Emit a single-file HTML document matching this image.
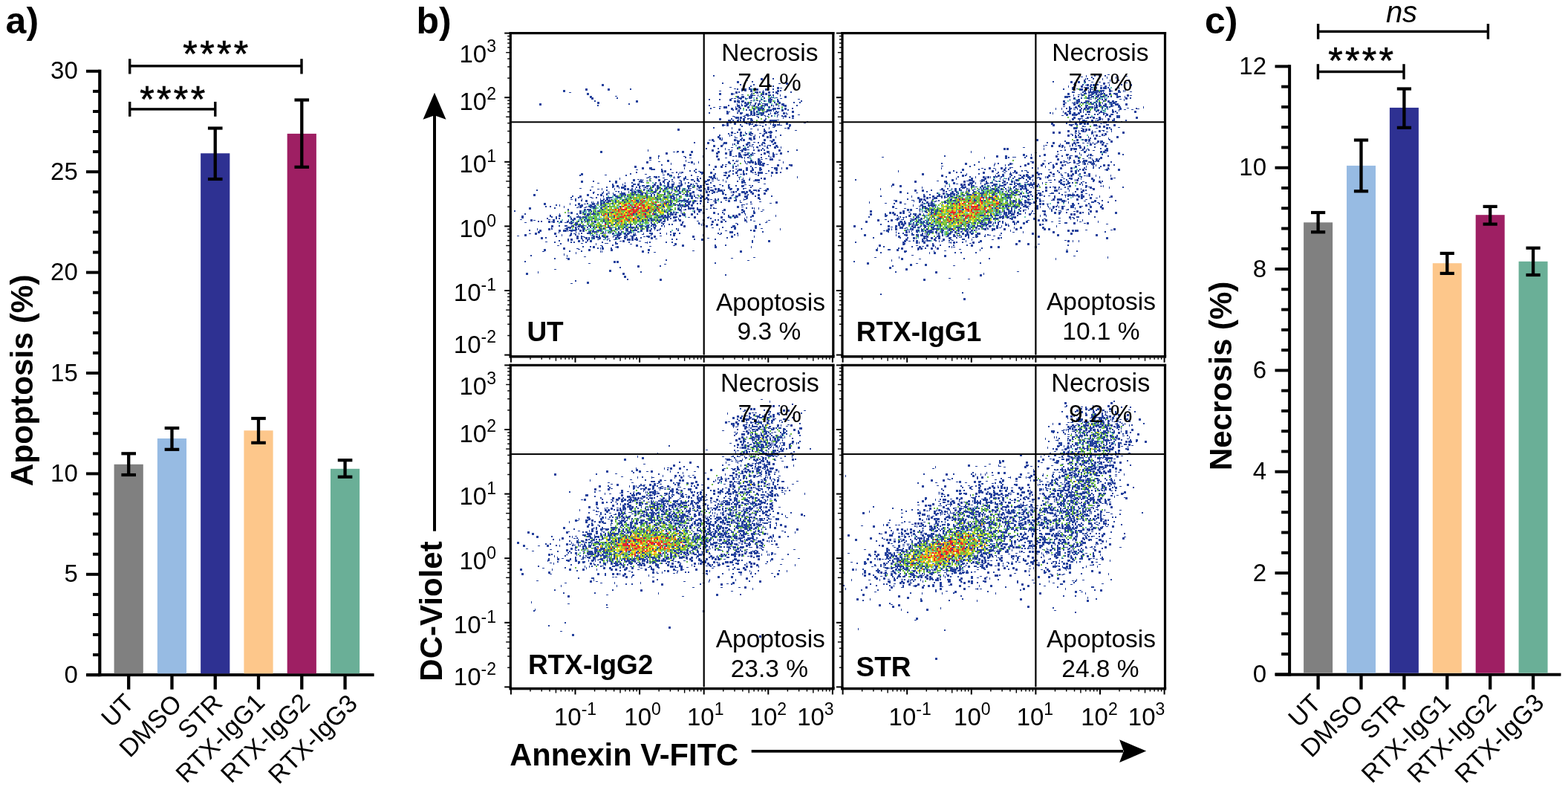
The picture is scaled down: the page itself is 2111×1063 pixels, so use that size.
<!DOCTYPE html>
<html><head><meta charset="utf-8"><title>Figure</title>
<style>html,body{margin:0;padding:0;background:#fff;overflow:hidden}svg{display:block}</style>
</head><body>
<svg width="2111" height="1063" viewBox="0 0 2111 1063">
<rect width="2111" height="1063" fill="#fff"/>
<rect x="132.20" y="93.70" width="4.20" height="816.50" fill="#000"/>
<rect x="116.00" y="906.20" width="18.30" height="4.00" fill="#000"/>
<rect x="125.00" y="879.12" width="9.30" height="4.00" fill="#000"/>
<rect x="125.00" y="852.04" width="9.30" height="4.00" fill="#000"/>
<rect x="125.00" y="824.96" width="9.30" height="4.00" fill="#000"/>
<rect x="125.00" y="797.88" width="9.30" height="4.00" fill="#000"/>
<rect x="116.00" y="770.80" width="18.30" height="4.00" fill="#000"/>
<rect x="125.00" y="743.72" width="9.30" height="4.00" fill="#000"/>
<rect x="125.00" y="716.64" width="9.30" height="4.00" fill="#000"/>
<rect x="125.00" y="689.56" width="9.30" height="4.00" fill="#000"/>
<rect x="125.00" y="662.48" width="9.30" height="4.00" fill="#000"/>
<rect x="116.00" y="635.40" width="18.30" height="4.00" fill="#000"/>
<rect x="125.00" y="608.32" width="9.30" height="4.00" fill="#000"/>
<rect x="125.00" y="581.24" width="9.30" height="4.00" fill="#000"/>
<rect x="125.00" y="554.16" width="9.30" height="4.00" fill="#000"/>
<rect x="125.00" y="527.08" width="9.30" height="4.00" fill="#000"/>
<rect x="116.00" y="500.00" width="18.30" height="4.00" fill="#000"/>
<rect x="125.00" y="472.92" width="9.30" height="4.00" fill="#000"/>
<rect x="125.00" y="445.84" width="9.30" height="4.00" fill="#000"/>
<rect x="125.00" y="418.76" width="9.30" height="4.00" fill="#000"/>
<rect x="125.00" y="391.68" width="9.30" height="4.00" fill="#000"/>
<rect x="116.00" y="364.60" width="18.30" height="4.00" fill="#000"/>
<rect x="125.00" y="337.52" width="9.30" height="4.00" fill="#000"/>
<rect x="125.00" y="310.44" width="9.30" height="4.00" fill="#000"/>
<rect x="125.00" y="283.36" width="9.30" height="4.00" fill="#000"/>
<rect x="125.00" y="256.28" width="9.30" height="4.00" fill="#000"/>
<rect x="116.00" y="229.20" width="18.30" height="4.00" fill="#000"/>
<rect x="125.00" y="202.12" width="9.30" height="4.00" fill="#000"/>
<rect x="125.00" y="175.04" width="9.30" height="4.00" fill="#000"/>
<rect x="125.00" y="147.96" width="9.30" height="4.00" fill="#000"/>
<rect x="125.00" y="120.88" width="9.30" height="4.00" fill="#000"/>
<rect x="116.00" y="93.80" width="18.30" height="4.00" fill="#000"/>
<rect x="116.20" y="906.10" width="387.40" height="4.00" fill="#000"/>
<rect x="153.60" y="624.80" width="39.20" height="281.50" fill="#808080"/>
<rect x="211.87" y="590.00" width="39.20" height="316.30" fill="#97bbe3"/>
<rect x="270.14" y="206.30" width="39.20" height="700.00" fill="#2e3192"/>
<rect x="328.41" y="579.30" width="39.20" height="327.00" fill="#fdc78b"/>
<rect x="386.68" y="179.90" width="39.20" height="726.40" fill="#9e1f63"/>
<rect x="444.95" y="630.80" width="39.20" height="275.50" fill="#6aaf97"/>
<rect x="171.05" y="908.00" width="4.30" height="19.70" fill="#000"/>
<rect x="171.05" y="610.30" width="4.30" height="28.70" fill="#000"/>
<rect x="163.40" y="608.20" width="19.60" height="4.20" fill="#000"/>
<rect x="163.40" y="636.90" width="19.60" height="4.20" fill="#000"/>
<rect x="229.32" y="908.00" width="4.30" height="19.70" fill="#000"/>
<rect x="229.32" y="576.00" width="4.30" height="28.80" fill="#000"/>
<rect x="221.67" y="573.90" width="19.60" height="4.20" fill="#000"/>
<rect x="221.67" y="602.70" width="19.60" height="4.20" fill="#000"/>
<rect x="287.59" y="908.00" width="4.30" height="19.70" fill="#000"/>
<rect x="287.59" y="172.50" width="4.30" height="68.50" fill="#000"/>
<rect x="279.94" y="170.40" width="19.60" height="4.20" fill="#000"/>
<rect x="279.94" y="238.90" width="19.60" height="4.20" fill="#000"/>
<rect x="345.86" y="908.00" width="4.30" height="19.70" fill="#000"/>
<rect x="345.86" y="563.00" width="4.30" height="32.80" fill="#000"/>
<rect x="338.21" y="560.90" width="19.60" height="4.20" fill="#000"/>
<rect x="338.21" y="593.70" width="19.60" height="4.20" fill="#000"/>
<rect x="404.13" y="908.00" width="4.30" height="19.70" fill="#000"/>
<rect x="404.13" y="134.50" width="4.30" height="90.30" fill="#000"/>
<rect x="396.48" y="132.40" width="19.60" height="4.20" fill="#000"/>
<rect x="396.48" y="222.70" width="19.60" height="4.20" fill="#000"/>
<rect x="462.40" y="908.00" width="4.30" height="19.70" fill="#000"/>
<rect x="462.40" y="619.20" width="4.30" height="22.50" fill="#000"/>
<rect x="454.75" y="617.10" width="19.60" height="4.20" fill="#000"/>
<rect x="454.75" y="639.60" width="19.60" height="4.20" fill="#000"/>
<rect x="174.70" y="87.10" width="231.30" height="3.40" fill="#000"/>
<rect x="173.00" y="79.20" width="3.40" height="20.30" fill="#000"/>
<rect x="404.30" y="79.20" width="3.40" height="20.30" fill="#000"/>
<rect x="174.70" y="145.20" width="115.10" height="3.40" fill="#000"/>
<rect x="173.00" y="136.90" width="3.40" height="19.90" fill="#000"/>
<rect x="288.10" y="136.90" width="3.40" height="19.90" fill="#000"/>
<text x="104.80" y="918.80" text-anchor="end" style="font-family:'Liberation Sans',Arial,Helvetica,sans-serif;font-size:33px" >0</text>
<text x="104.80" y="783.40" text-anchor="end" style="font-family:'Liberation Sans',Arial,Helvetica,sans-serif;font-size:33px" >5</text>
<text x="104.80" y="648.00" text-anchor="end" style="font-family:'Liberation Sans',Arial,Helvetica,sans-serif;font-size:33px" >10</text>
<text x="104.80" y="512.60" text-anchor="end" style="font-family:'Liberation Sans',Arial,Helvetica,sans-serif;font-size:33px" >15</text>
<text x="104.80" y="377.20" text-anchor="end" style="font-family:'Liberation Sans',Arial,Helvetica,sans-serif;font-size:33px" >20</text>
<text x="104.80" y="241.80" text-anchor="end" style="font-family:'Liberation Sans',Arial,Helvetica,sans-serif;font-size:33px" >25</text>
<text x="104.80" y="106.40" text-anchor="end" style="font-family:'Liberation Sans',Arial,Helvetica,sans-serif;font-size:33px" >30</text>
<text x="291.97" y="90.40" text-anchor="middle" style="font-family:'Liberation Sans',Arial,Helvetica,sans-serif;font-size:50px;letter-spacing:3.35px" stroke="#000" stroke-width="0.7">****</text>
<text x="233.87" y="150.50" text-anchor="middle" style="font-family:'Liberation Sans',Arial,Helvetica,sans-serif;font-size:50px;letter-spacing:3.35px" stroke="#000" stroke-width="0.7">****</text>
<text x="7.60" y="45.00" text-anchor="start" style="font-family:'Liberation Sans',Arial,Helvetica,sans-serif;font-size:50px;font-weight:bold" >a)</text>
<text transform="translate(44.4,511.8) rotate(-90)" text-anchor="middle" style="font-family:'Liberation Sans',Arial,Helvetica,sans-serif;font-size:42.4px;font-weight:bold">Apoptosis (%)</text>
<text transform="translate(182.45,948.15) rotate(-45)" text-anchor="end" style="font-family:'Liberation Sans',Arial,Helvetica,sans-serif;font-size:34px">UT</text>
<text transform="translate(246.80,948.65) rotate(-45)" text-anchor="end" style="font-family:'Liberation Sans',Arial,Helvetica,sans-serif;font-size:34px">DMSO</text>
<text transform="translate(301.35,947.95) rotate(-45)" text-anchor="end" style="font-family:'Liberation Sans',Arial,Helvetica,sans-serif;font-size:34px">STR</text>
<text transform="translate(358.45,947.40) rotate(-45)" text-anchor="end" style="font-family:'Liberation Sans',Arial,Helvetica,sans-serif;font-size:34px">RTX-IgG1</text>
<text transform="translate(419.10,947.50) rotate(-45)" text-anchor="end" style="font-family:'Liberation Sans',Arial,Helvetica,sans-serif;font-size:34px">RTX-IgG2</text>
<text transform="translate(483.15,948.75) rotate(-45)" text-anchor="end" style="font-family:'Liberation Sans',Arial,Helvetica,sans-serif;font-size:34px">RTX-IgG3</text>
<rect x="1734.10" y="87.20" width="4.00" height="822.50" fill="#000"/>
<rect x="1716.50" y="905.40" width="19.60" height="4.00" fill="#000"/>
<rect x="1725.10" y="878.13" width="11.00" height="4.00" fill="#000"/>
<rect x="1725.10" y="850.86" width="11.00" height="4.00" fill="#000"/>
<rect x="1725.10" y="823.60" width="11.00" height="4.00" fill="#000"/>
<rect x="1725.10" y="796.33" width="11.00" height="4.00" fill="#000"/>
<rect x="1716.50" y="769.06" width="19.60" height="4.00" fill="#000"/>
<rect x="1725.10" y="741.79" width="11.00" height="4.00" fill="#000"/>
<rect x="1725.10" y="714.52" width="11.00" height="4.00" fill="#000"/>
<rect x="1725.10" y="687.26" width="11.00" height="4.00" fill="#000"/>
<rect x="1725.10" y="659.99" width="11.00" height="4.00" fill="#000"/>
<rect x="1716.50" y="632.72" width="19.60" height="4.00" fill="#000"/>
<rect x="1725.10" y="605.45" width="11.00" height="4.00" fill="#000"/>
<rect x="1725.10" y="578.18" width="11.00" height="4.00" fill="#000"/>
<rect x="1725.10" y="550.92" width="11.00" height="4.00" fill="#000"/>
<rect x="1725.10" y="523.65" width="11.00" height="4.00" fill="#000"/>
<rect x="1716.50" y="496.38" width="19.60" height="4.00" fill="#000"/>
<rect x="1725.10" y="469.11" width="11.00" height="4.00" fill="#000"/>
<rect x="1725.10" y="441.84" width="11.00" height="4.00" fill="#000"/>
<rect x="1725.10" y="414.58" width="11.00" height="4.00" fill="#000"/>
<rect x="1725.10" y="387.31" width="11.00" height="4.00" fill="#000"/>
<rect x="1716.50" y="360.04" width="19.60" height="4.00" fill="#000"/>
<rect x="1725.10" y="332.77" width="11.00" height="4.00" fill="#000"/>
<rect x="1725.10" y="305.50" width="11.00" height="4.00" fill="#000"/>
<rect x="1725.10" y="278.24" width="11.00" height="4.00" fill="#000"/>
<rect x="1725.10" y="250.97" width="11.00" height="4.00" fill="#000"/>
<rect x="1716.50" y="223.70" width="19.60" height="4.00" fill="#000"/>
<rect x="1725.10" y="196.43" width="11.00" height="4.00" fill="#000"/>
<rect x="1725.10" y="169.16" width="11.00" height="4.00" fill="#000"/>
<rect x="1725.10" y="141.90" width="11.00" height="4.00" fill="#000"/>
<rect x="1725.10" y="114.63" width="11.00" height="4.00" fill="#000"/>
<rect x="1716.50" y="87.36" width="19.60" height="4.00" fill="#000"/>
<rect x="1716.70" y="905.70" width="384.80" height="4.00" fill="#000"/>
<rect x="1755.10" y="299.30" width="39.00" height="606.40" fill="#808080"/>
<rect x="1813.00" y="222.90" width="39.00" height="682.80" fill="#97bbe3"/>
<rect x="1870.90" y="144.90" width="39.00" height="760.80" fill="#2e3192"/>
<rect x="1928.80" y="354.20" width="39.00" height="551.50" fill="#fdc78b"/>
<rect x="1986.70" y="289.20" width="39.00" height="616.50" fill="#9e1f63"/>
<rect x="2044.60" y="351.80" width="39.00" height="553.90" fill="#6aaf97"/>
<rect x="1772.45" y="907.00" width="4.30" height="20.70" fill="#000"/>
<rect x="1772.45" y="286.00" width="4.30" height="26.30" fill="#000"/>
<rect x="1765.00" y="283.90" width="19.20" height="4.20" fill="#000"/>
<rect x="1765.00" y="310.20" width="19.20" height="4.20" fill="#000"/>
<rect x="1830.35" y="907.00" width="4.30" height="20.70" fill="#000"/>
<rect x="1830.35" y="188.50" width="4.30" height="68.80" fill="#000"/>
<rect x="1822.90" y="186.40" width="19.20" height="4.20" fill="#000"/>
<rect x="1822.90" y="255.20" width="19.20" height="4.20" fill="#000"/>
<rect x="1888.25" y="907.00" width="4.30" height="20.70" fill="#000"/>
<rect x="1888.25" y="119.50" width="4.30" height="52.30" fill="#000"/>
<rect x="1880.80" y="117.40" width="19.20" height="4.20" fill="#000"/>
<rect x="1880.80" y="169.70" width="19.20" height="4.20" fill="#000"/>
<rect x="1946.15" y="907.00" width="4.30" height="20.70" fill="#000"/>
<rect x="1946.15" y="340.90" width="4.30" height="27.00" fill="#000"/>
<rect x="1938.70" y="338.80" width="19.20" height="4.20" fill="#000"/>
<rect x="1938.70" y="365.80" width="19.20" height="4.20" fill="#000"/>
<rect x="2004.05" y="907.00" width="4.30" height="20.70" fill="#000"/>
<rect x="2004.05" y="277.90" width="4.30" height="23.70" fill="#000"/>
<rect x="1996.60" y="275.80" width="19.20" height="4.20" fill="#000"/>
<rect x="1996.60" y="299.50" width="19.20" height="4.20" fill="#000"/>
<rect x="2061.95" y="907.00" width="4.30" height="20.70" fill="#000"/>
<rect x="2061.95" y="333.70" width="4.30" height="36.30" fill="#000"/>
<rect x="2054.50" y="331.60" width="19.20" height="4.20" fill="#000"/>
<rect x="2054.50" y="367.90" width="19.20" height="4.20" fill="#000"/>
<rect x="1774.60" y="40.70" width="228.80" height="3.40" fill="#000"/>
<rect x="1772.90" y="32.00" width="3.40" height="20.70" fill="#000"/>
<rect x="2001.70" y="32.00" width="3.40" height="20.70" fill="#000"/>
<rect x="1774.40" y="94.80" width="115.60" height="3.40" fill="#000"/>
<rect x="1772.70" y="86.20" width="3.40" height="20.50" fill="#000"/>
<rect x="1888.30" y="86.20" width="3.40" height="20.50" fill="#000"/>
<text x="1705.00" y="918.00" text-anchor="end" style="font-family:'Liberation Sans',Arial,Helvetica,sans-serif;font-size:33px" >0</text>
<text x="1705.00" y="781.66" text-anchor="end" style="font-family:'Liberation Sans',Arial,Helvetica,sans-serif;font-size:33px" >2</text>
<text x="1705.00" y="645.32" text-anchor="end" style="font-family:'Liberation Sans',Arial,Helvetica,sans-serif;font-size:33px" >4</text>
<text x="1705.00" y="508.98" text-anchor="end" style="font-family:'Liberation Sans',Arial,Helvetica,sans-serif;font-size:33px" >6</text>
<text x="1705.00" y="372.64" text-anchor="end" style="font-family:'Liberation Sans',Arial,Helvetica,sans-serif;font-size:33px" >8</text>
<text x="1705.00" y="236.30" text-anchor="end" style="font-family:'Liberation Sans',Arial,Helvetica,sans-serif;font-size:33px" >10</text>
<text x="1705.00" y="99.96" text-anchor="end" style="font-family:'Liberation Sans',Arial,Helvetica,sans-serif;font-size:33px" >12</text>
<text x="1887.00" y="30.20" text-anchor="middle" style="font-family:'Liberation Sans',Arial,Helvetica,sans-serif;font-size:40px;font-style:italic" >ns</text>
<text x="1833.77" y="99.30" text-anchor="middle" style="font-family:'Liberation Sans',Arial,Helvetica,sans-serif;font-size:50px;letter-spacing:3.35px" stroke="#000" stroke-width="0.7">****</text>
<text x="1622.00" y="45.00" text-anchor="start" style="font-family:'Liberation Sans',Arial,Helvetica,sans-serif;font-size:50px;font-weight:bold" >c)</text>
<text transform="translate(1658.3,505.9) rotate(-90)" text-anchor="middle" style="font-family:'Liberation Sans',Arial,Helvetica,sans-serif;font-size:42px;font-weight:bold">Necrosis (%)</text>
<text transform="translate(1780.45,948.25) rotate(-45)" text-anchor="end" style="font-family:'Liberation Sans',Arial,Helvetica,sans-serif;font-size:34px">UT</text>
<text transform="translate(1837.50,948.60) rotate(-45)" text-anchor="end" style="font-family:'Liberation Sans',Arial,Helvetica,sans-serif;font-size:34px">DMSO</text>
<text transform="translate(1893.05,948.25) rotate(-45)" text-anchor="end" style="font-family:'Liberation Sans',Arial,Helvetica,sans-serif;font-size:34px">STR</text>
<text transform="translate(1954.80,947.55) rotate(-45)" text-anchor="end" style="font-family:'Liberation Sans',Arial,Helvetica,sans-serif;font-size:34px">RTX-IgG1</text>
<text transform="translate(2016.45,947.55) rotate(-45)" text-anchor="end" style="font-family:'Liberation Sans',Arial,Helvetica,sans-serif;font-size:34px">RTX-IgG2</text>
<text transform="translate(2080.55,947.75) rotate(-45)" text-anchor="end" style="font-family:'Liberation Sans',Arial,Helvetica,sans-serif;font-size:34px">RTX-IgG3</text>
<text x="560.50" y="45.00" text-anchor="start" style="font-family:'Liberation Sans',Arial,Helvetica,sans-serif;font-size:50px;font-weight:bold" >b)</text>
<path d="M960.0 102.0h2m78 4h2m-30 4h2m-42 2h2m22 2h2m16 0h2m-6 2h2m28 0h2m-34 2h2m-162 2h2m142 0h2m4 0h2m8 0h4m2 0h2m24 0h2m28 0h2m-74 2h2m50 0h2m-58 2h2m20 0h2m4 0h2m16 0h2m22 0h2m-20 2h2m-36 2h2m10 0h2m10 0h2m2 0h2m-16 2h2m-198 2h2m162 0h2m12 0h4m6 0h2m8 0h2m6 0h2m-84 2h2m12 0h2m54 0h2m12 0h2m6 0h2m-248 2h2m198 0h2m20 0h2m4 0h2m48 0h2m-86 2h2m14 0h2m24 0h2m4 0h2m24 0h2m6 0h2m-232 2h2m158 0h2m8 0h2m2 0h4m8 0h2m-230 2h2m148 0h2m24 0h2m16 0h2m4 0h2m14 0h2m4 0h2m4 0h2m4 0h2m14 0h2m16 0h2m-56 2h2m-64 2h2m10 0h2m26 0h2m26 0h2m14 0h2m4 0h4m16 0h2m-82 2h2m6 0h2m8 0h2m2 0h2m4 0h2m6 0h2m2 0h2m4 0h2m26 0h2m-84 2h2m14 0h2m18 0h2m16 0h2m10 0h2m-92 2h2m36 0h2m4 0h2m24 0h2m20 0h2m-42 2h2m10 0h4m4 0h2m6 0h2m-30 2h2m30 0h2m12 0h2m-52 2h2m16 0h2m40 0h2m-80 2h2m20 0h2m22 0h2m-52 2h4m2 0h2m8 0h2m12 0h4m24 0h4m2 0h2m-58 2h2m10 0h2m12 0h2m4 0h2m4 0h2m2 0h2m8 0h2m44 0h2m-84 2h2m-10 2h2m10 0h2m20 0h2m14 0h4m-52 2h2m14 0h2m10 0h2m14 0h2m18 0h2m-104 2h2m66 2h2m14 2h2m-54 2h2m16 0h2m22 0h2m2 0h2m-60 2h2m14 0h2m6 0h2m4 0h4m14 0h2m-62 2h2m14 0h2m14 0h2m48 0h2m-38 2h2m-18 2h2m-4 2h2m-38 2h2m32 0h2m-62 2h2m70 0h4m10 0h2m4 0h4m-42 2h2m16 0h2m32 0h2m-42 2h2m20 0h2m12 0h2m-32 2h2m10 0h2m12 0h2m12 0h2m-98 2h2m14 0h2m24 0h2m32 0h2m-14 2h2m8 0h2m2 0h2m42 0h2m-162 2h2m84 0h2m60 0h2m-56 2h2m4 0h2m26 0h2m-48 2h4m6 0h4m16 0h2m-140 2h2m102 0h2m16 0h2m24 0h2m-114 2h2m74 0h2m6 0h2m16 0h2m-40 4h2m32 0h4m-18 2h2m2 0h2m4 0h2m6 0h2m-44 2h2m4 0h2m38 0h2m-140 2h2m62 0h2m16 0h2m48 0h4m36 0h2m-88 2h2m8 0h2m2 0h2m18 0h2m-26 2h2m24 0h2m-138 2h6m8 0h2m10 0h2m32 0h2m22 0h2m62 0h2m-98 2h2m4 0h2m46 0h2m2 0h2m4 0h2m6 0h2m32 0h2m-180 2h2m52 0h2m6 0h2m16 0h2m4 0h2m56 0h2m14 0h2m32 0h2m-204 2h2m94 0h2m16 0h2m22 0h2m16 0h2m-226 2h2m60 0h2m86 0h2m42 0h4m14 0h2m26 0h2m-148 2h2m4 0h2m4 0h2m34 0h2m30 0h2m-36 2h4m14 0h2m2 0h2m18 0h2m14 0h2m44 0h2m-164 2h2m30 0h2m8 0h2m14 0h2m8 0h4m20 0h2m52 0h2m-212 2h2m20 0h2m38 0h2m38 0h2m14 0h2m16 0h2m4 0h2m6 0h4m40 0h2m-144 2h2m30 0h2m4 0h2m26 0h2m8 0h2m20 0h2m6 0h2m44 0h2m-180 2h2m26 0h4m50 0h2m22 0h2m18 0h4m-90 2h4m4 0h2m20 0h2m18 0h4m16 0h2m24 0h2m10 0h2m6 0h2m8 0h2m8 0h2m10 0h2m-198 2h2m6 0h2m30 0h2m2 0h2m6 0h2m8 0h2m24 0h2m4 0h2m2 0h2m10 0h2m4 0h2m76 0h2m-162 2h2m38 0h2m12 0h2m4 0h2m2 0h2m4 0h2m4 0h2m20 0h2m32 0h4m14 0h2m-280 2h2m70 0h2m20 0h2m30 0h4m6 0h4m4 0h2m8 0h2m4 0h2m8 0h2m24 0h2m4 0h2m2 0h2m10 0h2m14 0h2m16 0h2m16 0h2m20 0h4m-186 2h2m16 0h2m10 0h2m16 0h4m4 0h2m8 0h2m24 0h2m28 0h2m16 0h2m16 0h2m-194 2h2m10 0h2m24 0h6m12 0h2m6 0h4m2 0h2m8 0h2m6 0h2m6 0h2m28 0h2m32 0h2m-156 2h2m10 0h2m32 0h4m8 0h4m4 0h2m4 0h2m2 0h2m12 0h2m14 0h4m8 0h2m52 0h2m8 0h2m18 0h2m-238 2h2m58 0h2m4 0h2m6 0h2m24 0h2m4 0h2m6 0h2m16 0h6m6 0h2m8 0h2m8 0h2m56 0h2m22 0h2m20 0h2m-272 2h2m8 0h2m22 0h2m12 0h8m6 0h4m36 0h2m22 0h2m10 0h2m28 0h2m-164 2h2m36 0h2m28 0h2m44 0h2m36 0h2m20 0h2m12 0h2m2 0h2m22 0h2m30 0h2m-250 2h2m6 0h2m24 0h2m4 0h2m2 0h2m18 0h2m4 0h2m10 0h4m54 0h2m2 0h2m2 0h2m38 0h2m24 0h4m-188 2h2m10 0h4m38 0h2m36 0h4m2 0h2m20 0h2m2 0h2m22 0h2m16 0h2m38 0h2m-222 2h2m12 0h2m6 0h2m10 0h2m70 0h2m16 0h2m6 0h2m8 0h2m4 0h2m2 0h2m-196 2h2m24 0h2m18 0h2m18 0h2m66 0h2m4 0h2m2 0h2m6 0h4m4 0h2m6 0h2m80 0h2m-266 2h2m4 0h2m40 0h2m8 0h2m4 0h4m16 0h2m14 0h2m48 0h2m34 0h4m2 0h2m-182 2h2m50 0h2m130 0h2m6 0h2m16 0h2m2 0h2m42 0h2m6 0h2m-250 2h2m20 0h2m2 0h2m18 0h2m60 0h2m8 0h2m18 0h2m18 0h2m14 0h4m-250 2h2m92 0h2m4 0h2m76 0h2m28 0h2m14 0h2m16 0h2m78 0h2m-192 2h2m48 0h2m22 0h2m2 0h2m2 0h2m2 0h2m22 0h2m36 0h2m24 0h2m-294 2h2m68 0h2m18 0h4m4 0h2m12 0h2m32 0h2m2 0h2m24 0h2m14 0h2m38 0h2m26 0h2m6 0h2m-236 2h2m76 0h2m64 0h2m94 0h2m-240 2h2m4 0h2m26 0h6m6 0h2m80 0h2m16 0h6m4 0h4m8 0h2m68 0h2m8 0h4m16 0h2m-276 2h2m10 0h2m2 0h2m14 0h2m10 0h2m6 0h2m8 0h2m60 0h2m12 0h4m14 0h2m4 0h2m2 0h2m52 0h2m-172 2h2m4 0h2m18 0h2m4 0h2m8 0h2m16 0h2m4 0h2m4 0h2m8 0h2m2 0h2m4 0h4m12 0h2m2 0h2m62 0h2m2 0h2m6 0h2m34 0h2m-288 2h2m2 0h2m20 0h2m12 0h2m12 0h2m10 0h2m4 0h2m14 0h2m16 0h2m60 0h4m80 0h2m-212 2h2m8 0h2m42 0h2m6 0h2m46 0h2m12 0h2m26 0h2m20 0h2m4 0h2m-172 2h2m2 0h2m44 0h2m12 0h2m2 0h2m2 0h2m8 0h2m18 0h2m12 0h2m6 0h2m2 0h2m52 0h2m32 0h2m28 0h2m-272 2h2m6 0h4m16 0h6m6 0h4m22 0h2m28 0h2m6 0h2m2 0h6m6 0h2m2 0h2m4 0h2m6 0h2m96 0h2m-226 2h2m8 0h2m6 0h4m4 0h2m2 0h2m2 0h2m2 0h2m2 0h2m10 0h4m18 0h2m4 0h4m2 0h2m2 0h2m14 0h2m98 0h2m10 0h2m-244 2h2m34 0h2m4 0h4m20 0h2m2 0h2m6 0h4m8 0h2m4 0h2m4 0h2m8 0h2m2 0h2m4 0h2m10 0h2m10 0h2m20 0h2m-200 2h2m52 0h2m2 0h6m22 0h2m6 0h4m32 0h4m2 0h2m2 0h6m26 0h2m26 0h2m96 0h2m-220 2h4m2 0h6m28 0h2m2 0h2m20 0h2m42 0h2m122 0h2m-260 2h2m12 0h2m6 0h6m14 0h2m34 0h2m26 0h2m12 0h2m18 0h2m4 0h2m50 0h2m2 0h2m20 0h2m-226 2h2m4 0h2m56 0h4m66 0h2m84 0h2m-242 2h2m32 0h2m22 0h2m2 0h2m58 0h2m-138 2h2m46 0h2m8 0h2m2 0h2m6 0h2m8 0h2m40 0h2m4 0h2m114 0h2m-216 2h2m26 0h2m34 0h2m24 0h2m48 0h2m4 0h2m22 0h2m26 0h2m-212 2h2m10 0h2m18 0h2m4 0h2m28 0h2m190 0h2m-268 2h2m20 0h2m2 0h2m14 0h2m20 0h2m16 0h2m16 0h2m26 0h2m20 0h2m6 0h2m106 0h2m-260 2h2m72 0h4m-8 2h2m136 0h2m12 0h2m-194 2h2m8 0h2m14 0h2m50 0h2m-60 2h2m16 0h2m-58 4h2m14 0h2m88 2h2m-160 4h2m30 4h2m148 2h2m-192 2h2m254 2h2m-76 4h2m-56 2h2m26 6h2m112 4h2m-134 6h2m-72 2h2" stroke="#24419c" stroke-width="2" fill="none"/>
<path d="M1024 105h3v3h-3zM1004 108h3v1h-3zM992 109h3v3h-3zM1048 112h3v1h-3zM1058 111h3v3h-3zM810 113h3v3h-3zM1034 113h3v3h-3zM1000 115h1v3h-1zM982 117h3v1h-3zM1046 117h3v3h-3zM1050 118h3v1h-3zM788 119h3v3h-3zM818 119h3v3h-3zM988 119h3v1h-3zM1002 119h3v3h-3zM1018 119h3v3h-3zM1030 119h3v3h-3zM758 121h3v3h-3zM968 122h3v1h-3zM1002 122h3v1h-3zM1010 121h3v3h-3zM1027 121h1v3h-1zM1046 121h3v3h-3zM766 124h3v1h-3zM990 123h3v3h-3zM1018 123h3v3h-3zM1026 123h3v3h-3zM1034 123h3v3h-3zM1044 123h3v3h-3zM1046 123h1v3h-1zM790 125h3v3h-3zM968 125h3v3h-3zM984 125h3v3h-3zM986 126h3v1h-3zM1011 125h1v3h-1zM1012 125h3v1h-3zM1026 125h3v3h-3zM1030 125h3v3h-3zM998 127h3v1h-3zM1010 127h3v3h-3zM1014 128h3v1h-3zM1020 127h1v3h-1zM1034 127h3v3h-3zM1050 127h1v3h-1zM794 129h3v3h-3zM828 129h3v1h-3zM992 129h3v3h-3zM998 129h3v3h-3zM1001 129h1v3h-1zM1008 129h3v3h-3zM1010 129h3v3h-3zM1041 129h1v3h-1zM1056 129h3v3h-3zM796 131h3v3h-3zM984 132h3v1h-3zM988 132h3v1h-3zM996 131h3v3h-3zM1003 131h1v3h-1zM1004 132h3v1h-3zM1038 131h3v1h-3zM1044 131h3v1h-3zM1050 132h3v1h-3zM982 133h3v3h-3zM993 133h1v3h-1zM1014 134h3v1h-3zM1034 133h3v3h-3zM1036 133h3v3h-3zM1074 133h3v1h-3zM856 135h3v3h-3zM988 135h3v3h-3zM992 135h3v3h-3zM995 135h1v3h-1zM998 135h3v3h-3zM1010 135h3v1h-3zM1018 135h3v1h-3zM1034 135h3v3h-3zM1036 135h3v3h-3zM1046 135h3v3h-3zM804 137h3v3h-3zM992 137h3v1h-3zM1002 137h3v3h-3zM1006 137h3v3h-3zM1016 138h3v1h-3zM1022 137h1v3h-1zM1048 137h3v3h-3zM726 139h3v3h-3zM992 139h1v3h-1zM998 139h1v3h-1zM1002 139h3v1h-3zM1004 139h3v3h-3zM1010 139h1v3h-1zM1026 139h3v1h-3zM1029 139h1v3h-1zM1030 139h3v3h-3zM1044 139h3v3h-3zM1052 139h3v3h-3zM1055 139h1v3h-1zM992 141h3v3h-3zM995 141h1v3h-1zM1002 141h3v3h-3zM1012 141h1v3h-1zM1014 141h3v3h-3zM1028 142h3v1h-3zM1041 141h1v3h-1zM1044 141h3v1h-3zM1048 141h1v3h-1zM1056 141h3v3h-3zM960 144h3v1h-3zM968 143h3v1h-3zM974 143h3v3h-3zM976 143h3v3h-3zM990 143h1v3h-1zM992 143h3v1h-3zM994 143h3v3h-3zM1006 143h3v3h-3zM1020 144h3v1h-3zM1024 143h3v3h-3zM1034 143h3v3h-3zM984 145h3v3h-3zM986 145h1v3h-1zM990 145h3v3h-3zM1014 145h3v3h-3zM1020 145h3v3h-3zM1022 145h3v3h-3zM1026 145h3v3h-3zM1042 145h3v3h-3zM1056 145h3v3h-3zM1020 147h3v3h-3zM1034 147h3v3h-3zM1036 147h3v3h-3zM1038 147h3v1h-3zM1041 147h1v3h-1zM1052 147h3v3h-3zM980 150h3v1h-3zM992 149h3v1h-3zM1010 149h3v3h-3zM1018 149h3v3h-3zM1028 150h3v1h-3zM1031 149h1v3h-1zM1046 150h3v1h-3zM1066 149h3v3h-3zM978 151h3v3h-3zM996 151h3v3h-3zM1010 151h3v3h-3zM1014 151h3v3h-3zM1018 151h3v1h-3zM1022 151h3v3h-3zM1026 151h3v3h-3zM1037 151h1v3h-1zM1042 151h3v3h-3zM1044 152h3v1h-3zM1054 151h3v3h-3zM1058 151h1v3h-1zM1004 153h3v3h-3zM1010 154h3v1h-3zM1014 153h3v3h-3zM1024 153h3v3h-3zM1046 154h3v1h-3zM1058 153h3v1h-3zM1074 154h3v1h-3zM986 156h3v1h-3zM1000 156h3v1h-3zM1002 155h3v1h-3zM1008 155h3v1h-3zM1012 155h3v1h-3zM1018 156h3v1h-3zM1028 155h3v1h-3zM1030 155h1v3h-1zM1032 156h3v1h-3zM1046 155h1v3h-1zM1054 156h3v1h-3zM1056 155h3v3h-3zM1066 155h3v3h-3zM988 157h3v1h-3zM990 157h3v3h-3zM992 157h3v3h-3zM996 157h3v3h-3zM1054 157h1v3h-1zM1067 157h1v3h-1zM968 159h3v3h-3zM994 159h1v3h-1zM996 159h1v3h-1zM1000 159h3v3h-3zM1008 159h3v1h-3zM1010 159h3v3h-3zM1066 159h3v1h-3zM992 161h3v3h-3zM1000 161h3v3h-3zM1028 161h3v3h-3zM1030 161h1v3h-1zM1036 161h3v3h-3zM1042 161h3v3h-3zM1046 161h3v1h-3zM982 163h3v3h-3zM984 164h3v1h-3zM990 164h3v1h-3zM1011 163h1v3h-1zM1018 163h1v3h-1zM1022 163h3v3h-3zM1024 163h3v3h-3zM1035 163h1v3h-1zM1044 163h3v1h-3zM978 165h3v3h-3zM988 165h3v3h-3zM1002 165h3v1h-3zM1006 166h3v1h-3zM1008 165h3v3h-3zM1013 165h1v3h-1zM1026 165h3v1h-3zM1037 165h1v3h-1zM1041 165h1v3h-1zM1049 165h1v3h-1zM1058 165h3v3h-3zM1082 165h3v1h-3zM972 167h3v3h-3zM974 168h3v1h-3zM978 167h3v3h-3zM1010 167h3v1h-3zM1016 167h3v3h-3zM1018 168h3v1h-3zM1022 168h3v1h-3zM1040 167h3v3h-3zM1042 167h3v3h-3zM1050 168h3v1h-3zM1062 167h3v3h-3zM985 171h1v3h-1zM1035 171h1v3h-1zM1040 171h3v1h-3zM1056 172h3v1h-3zM1060 171h3v3h-3zM912 173h3v3h-3zM994 173h3v3h-3zM1010 173h3v1h-3zM1020 173h1v3h-1zM1028 175h3v3h-3zM1036 176h3v1h-3zM1070 175h3v1h-3zM984 177h3v3h-3zM996 177h3v3h-3zM1003 177h1v3h-1zM1030 177h3v3h-3zM1036 177h3v3h-3zM988 179h3v1h-3zM1008 179h3v3h-3zM1022 179h3v1h-3zM982 181h1v3h-1zM996 181h3v3h-3zM1010 182h3v1h-3zM1016 181h1v3h-1zM1026 181h3v3h-3zM1036 181h3v3h-3zM966 183h3v3h-3zM989 183h1v3h-1zM1022 183h1v3h-1zM1032 183h3v3h-3zM1036 183h3v3h-3zM1044 183h1v3h-1zM968 185h3v3h-3zM972 185h1v3h-1zM990 185h3v1h-3zM1008 185h3v3h-3zM1011 185h1v3h-1zM1014 185h3v3h-3zM954 188h3v1h-3zM958 187h3v3h-3zM970 188h3v1h-3zM988 187h3v3h-3zM990 188h3v1h-3zM998 187h1v3h-1zM1000 187h3v3h-3zM1010 188h3v1h-3zM1028 187h3v3h-3zM1040 187h3v3h-3zM992 189h3v3h-3zM1036 189h3v1h-3zM1038 189h3v3h-3zM952 191h3v3h-3zM974 191h3v3h-3zM976 191h3v3h-3zM992 191h3v3h-3zM1014 191h3v1h-3zM1042 191h3v3h-3zM973 193h1v3h-1zM986 193h1v3h-1zM1004 193h3v3h-3zM1009 193h1v3h-1zM1012 194h3v1h-3zM1025 193h1v3h-1zM1026 193h1v3h-1zM1028 193h3v1h-3zM960 195h3v3h-3zM970 195h3v3h-3zM1008 196h3v1h-3zM1012 195h1v3h-1zM1028 196h3v1h-3zM1033 195h1v3h-1zM1034 195h3v1h-3zM1044 195h3v3h-3zM984 198h3v1h-3zM992 198h3v1h-3zM994 197h3v3h-3zM1014 197h1v3h-1zM1020 197h1v3h-1zM1042 197h3v3h-3zM1051 197h1v3h-1zM976 199h1v3h-1zM1000 199h3v3h-3zM1002 199h3v3h-3zM1032 199h3v1h-3zM872 201h1v3h-1zM958 201h3v3h-3zM980 201h3v1h-3zM985 201h1v3h-1zM996 202h3v1h-3zM998 201h3v3h-3zM1002 202h3v1h-3zM1004 201h3v1h-3zM1006 201h3v1h-3zM1020 201h3v3h-3zM1048 201h3v3h-3zM808 203h3v3h-3zM906 204h3v1h-3zM911 203h1v3h-1zM918 203h3v3h-3zM930 203h3v3h-3zM966 203h3v3h-3zM982 203h3v3h-3zM1032 203h3v3h-3zM1035 203h1v3h-1zM896 205h3v3h-3zM964 205h3v3h-3zM976 205h3v3h-3zM982 205h3v3h-3zM994 205h3v3h-3zM1002 205h3v1h-3zM1014 206h3v1h-3zM1028 205h3v3h-3zM1035 205h1v3h-1zM1050 205h3v3h-3zM928 207h3v3h-3zM982 207h3v3h-3zM1000 208h3v1h-3zM1002 207h3v3h-3zM1010 207h3v3h-3zM1012 208h3v1h-3zM1040 207h3v3h-3zM1044 207h3v1h-3zM920 210h3v1h-3zM946 209h1v3h-1zM964 209h3v3h-3zM986 210h3v1h-3zM994 209h3v3h-3zM996 209h3v3h-3zM1040 209h3v3h-3zM874 211h3v3h-3zM886 211h1v3h-1zM928 212h3v1h-3zM976 212h3v1h-3zM1002 211h1v3h-1zM1008 212h3v1h-3zM1036 211h3v1h-3zM966 213h3v3h-3zM1020 213h3v3h-3zM1024 214h3v1h-3zM1030 213h3v1h-3zM1036 213h3v3h-3zM1038 213h3v3h-3zM874 215h3v1h-3zM898 215h3v3h-3zM923 215h1v3h-1zM991 215h1v3h-1zM993 215h1v3h-1zM1002 215h1v3h-1zM1010 215h3v3h-3zM1048 215h3v1h-3zM870 217h3v3h-3zM886 217h3v1h-3zM926 218h3v1h-3zM930 217h3v3h-3zM940 217h1v3h-1zM980 217h3v3h-3zM990 217h3v1h-3zM1003 217h1v3h-1zM1008 217h3v3h-3zM1012 217h3v3h-3zM1014 217h1v3h-1zM1020 217h3v3h-3zM1022 217h3v3h-3zM1054 217h1v3h-1zM903 219h1v3h-1zM934 219h1v3h-1zM1004 220h3v1h-3zM1016 219h3v3h-3zM1020 219h3v3h-3zM1022 220h3v1h-3zM1026 219h3v3h-3zM920 221h3v3h-3zM976 221h3v1h-3zM993 221h1v3h-1zM1026 221h3v3h-3zM1032 221h3v1h-3zM1046 221h3v3h-3zM1064 221h3v3h-3zM854 223h3v3h-3zM962 223h3v3h-3zM964 223h1v3h-1zM970 223h3v3h-3zM864 225h3v3h-3zM874 225h3v3h-3zM877 225h1v3h-1zM921 225h1v3h-1zM1004 225h3v3h-3zM1016 225h3v1h-3zM1022 225h3v3h-3zM1038 225h3v1h-3zM1042 225h3v3h-3zM1044 225h3v3h-3zM1052 225h1v3h-1zM1058 225h3v3h-3zM856 228h3v1h-3zM990 227h3v1h-3zM994 227h3v3h-3zM996 227h3v3h-3zM998 227h1v3h-1zM1004 227h3v3h-3zM1012 227h3v3h-3zM1022 227h3v3h-3zM1044 227h3v3h-3zM890 229h3v3h-3zM894 229h3v3h-3zM940 230h3v1h-3zM1010 229h3v3h-3zM892 231h1v3h-1zM904 232h3v1h-3zM915 231h1v3h-1zM917 231h1v3h-1zM944 231h3v3h-3zM956 231h3v3h-3zM974 232h3v1h-3zM976 231h3v3h-3zM980 231h3v1h-3zM990 231h3v3h-3zM1012 232h3v1h-3zM1020 231h3v3h-3zM1022 231h3v3h-3zM1024 231h3v3h-3zM1038 231h3v3h-3zM1044 231h3v3h-3zM782 233h3v3h-3zM868 234h3v1h-3zM898 233h3v3h-3zM913 233h1v3h-1zM996 234h3v1h-3zM1000 233h3v3h-3zM1016 234h3v1h-3zM1021 233h1v3h-1zM1030 233h3v1h-3zM814 235h3v1h-3zM892 235h3v1h-3zM901 235h1v3h-1zM902 235h3v3h-3zM960 235h3v3h-3zM980 235h3v3h-3zM1038 235h1v3h-1zM872 238h3v1h-3zM882 237h3v3h-3zM907 237h1v3h-1zM912 237h3v3h-3zM914 237h3v1h-3zM938 237h3v1h-3zM956 237h3v3h-3zM960 237h3v3h-3zM978 238h3v1h-3zM994 238h3v1h-3zM1073 237h1v3h-1zM834 239h1v3h-1zM870 239h3v1h-3zM874 240h3v1h-3zM892 239h3v1h-3zM906 239h3v1h-3zM958 239h3v3h-3zM965 239h1v3h-1zM995 239h1v3h-1zM1000 239h1v3h-1zM1009 239h1v3h-1zM1028 239h3v3h-3zM852 241h3v3h-3zM858 241h3v1h-3zM865 241h1v3h-1zM886 241h3v3h-3zM896 241h3v1h-3zM914 242h3v1h-3zM924 241h3v1h-3zM938 241h3v3h-3zM952 241h3v3h-3zM958 241h3v1h-3zM966 242h3v1h-3zM973 241h1v3h-1zM998 241h3v1h-3zM1000 242h3v1h-3zM1016 241h3v3h-3zM1018 241h3v3h-3zM1020 241h3v3h-3zM782 243h3v3h-3zM828 243h3v3h-3zM862 243h3v3h-3zM870 243h3v1h-3zM874 243h3v1h-3zM892 243h3v3h-3zM904 244h3v1h-3zM958 243h3v1h-3zM977 243h1v3h-1zM998 243h3v3h-3zM1000 243h3v3h-3zM1014 243h3v1h-3zM804 246h3v1h-3zM828 246h3v1h-3zM841 245h1v3h-1zM860 245h1v3h-1zM864 245h3v1h-3zM894 245h1v3h-1zM898 245h3v3h-3zM907 245h1v3h-1zM914 245h1v3h-1zM922 245h1v3h-1zM936 246h3v1h-3zM998 246h3v1h-3zM1020 245h3v1h-3zM838 247h1v3h-1zM858 247h3v3h-3zM880 247h3v3h-3zM888 247h3v3h-3zM898 248h3v1h-3zM904 247h3v3h-3zM916 247h3v3h-3zM929 247h1v3h-1zM933 247h1v3h-1zM938 247h1v3h-1zM968 248h3v1h-3zM980 248h3v1h-3zM1002 248h3v1h-3zM1028 247h3v1h-3zM824 249h3v3h-3zM830 249h3v3h-3zM840 249h3v3h-3zM842 249h1v3h-1zM850 249h3v3h-3zM860 250h3v1h-3zM870 249h3v3h-3zM878 249h3v3h-3zM884 249h3v3h-3zM898 249h3v3h-3zM904 249h3v3h-3zM912 249h3v3h-3zM925 249h1v3h-1zM926 249h3v3h-3zM928 250h3v1h-3zM938 249h3v3h-3zM942 249h3v3h-3zM946 249h3v1h-3zM962 249h1v3h-1zM998 249h3v3h-3zM1008 249h3v1h-3zM796 251h3v1h-3zM833 251h1v3h-1zM836 251h3v3h-3zM838 251h3v3h-3zM866 252h3v1h-3zM875 251h1v3h-1zM884 251h3v3h-3zM886 251h3v3h-3zM896 251h3v3h-3zM900 251h3v3h-3zM902 251h3v3h-3zM940 251h3v3h-3zM942 252h3v1h-3zM952 251h3v3h-3zM956 252h3v1h-3zM980 251h3v3h-3zM780 253h3v1h-3zM804 254h3v1h-3zM810 253h1v3h-1zM827 253h1v3h-1zM840 253h3v3h-3zM844 253h3v3h-3zM855 253h1v3h-1zM860 253h3v1h-3zM866 254h3v1h-3zM870 253h3v1h-3zM874 253h3v3h-3zM882 253h1v3h-1zM884 254h3v1h-3zM894 253h3v3h-3zM897 253h1v3h-1zM900 253h3v1h-3zM907 253h1v3h-1zM928 253h3v1h-3zM938 253h1v3h-1zM952 253h3v3h-3zM962 253h3v3h-3zM966 253h3v3h-3zM992 253h3v3h-3zM1002 253h3v1h-3zM1022 253h3v1h-3zM1032 253h3v3h-3zM853 255h1v3h-1zM872 255h3v3h-3zM878 255h1v3h-1zM908 255h3v3h-3zM912 255h3v3h-3zM922 255h1v3h-1zM926 256h3v1h-3zM942 255h3v3h-3zM950 255h1v3h-1zM958 255h3v3h-3zM966 255h3v3h-3zM968 255h3v3h-3zM970 255h3v3h-3zM982 255h3v1h-3zM1008 255h3v3h-3zM1018 255h1v3h-1zM1020 255h3v3h-3zM1028 256h3v1h-3zM1030 255h3v3h-3zM798 258h3v1h-3zM812 257h1v3h-1zM818 258h3v1h-3zM828 257h3v1h-3zM836 257h1v3h-1zM846 257h1v3h-1zM852 258h3v1h-3zM854 257h3v3h-3zM858 257h3v3h-3zM861 257h1v3h-1zM874 257h3v1h-3zM887 257h1v3h-1zM904 257h1v3h-1zM914 257h3v3h-3zM932 257h3v3h-3zM950 257h3v3h-3zM960 257h3v3h-3zM964 258h3v1h-3zM968 257h3v1h-3zM970 257h3v1h-3zM984 257h1v3h-1zM986 257h3v3h-3zM998 257h3v3h-3zM1000 257h3v3h-3zM1004 257h3v3h-3zM1010 257h3v3h-3zM816 260h3v1h-3zM818 260h3v1h-3zM825 259h1v3h-1zM834 260h3v1h-3zM850 259h3v3h-3zM866 259h3v1h-3zM876 259h1v3h-1zM880 259h3v1h-3zM900 259h3v3h-3zM902 259h3v1h-3zM906 260h3v1h-3zM914 260h3v1h-3zM928 259h3v3h-3zM930 259h3v1h-3zM972 259h3v3h-3zM994 260h3v1h-3zM1002 259h3v3h-3zM1004 259h3v1h-3zM1012 259h3v3h-3zM1028 259h3v3h-3zM718 261h3v3h-3zM790 261h3v3h-3zM808 261h3v3h-3zM826 261h3v3h-3zM836 261h3v3h-3zM838 261h3v3h-3zM840 261h3v3h-3zM842 261h1v3h-1zM856 261h3v3h-3zM905 261h1v3h-1zM918 261h3v1h-3zM924 261h3v3h-3zM928 261h3v3h-3zM934 261h1v3h-1zM938 262h3v1h-3zM943 261h1v3h-1zM952 261h3v3h-3zM994 261h3v3h-3zM1020 261h3v3h-3zM780 263h3v3h-3zM812 263h1v3h-1zM828 263h3v3h-3zM893 263h1v3h-1zM894 264h3v1h-3zM928 264h3v1h-3zM930 263h3v3h-3zM944 263h3v3h-3zM984 263h3v1h-3zM990 263h3v3h-3zM1002 263h3v3h-3zM1004 263h3v3h-3zM794 265h3v1h-3zM796 266h3v1h-3zM834 265h3v3h-3zM840 265h3v1h-3zM848 265h3v3h-3zM882 265h3v3h-3zM896 265h3v3h-3zM902 265h3v3h-3zM908 265h1v3h-1zM910 265h1v3h-1zM930 265h3v3h-3zM939 265h1v3h-1zM942 265h3v3h-3zM950 265h3v3h-3zM974 265h3v3h-3zM976 265h3v3h-3zM982 265h3v3h-3zM990 265h1v3h-1zM1004 265h3v3h-3zM1020 265h3v3h-3zM768 268h3v1h-3zM783 267h1v3h-1zM808 267h1v3h-1zM816 267h3v3h-3zM820 267h1v3h-1zM822 268h3v1h-3zM838 268h3v1h-3zM866 267h3v1h-3zM884 267h3v3h-3zM904 267h3v1h-3zM906 267h3v3h-3zM920 267h3v3h-3zM947 267h1v3h-1zM952 267h3v3h-3zM956 268h3v1h-3zM980 267h3v1h-3zM1001 267h1v3h-1zM1002 268h3v1h-3zM788 269h3v3h-3zM810 269h3v3h-3zM820 269h3v3h-3zM828 269h3v3h-3zM837 269h1v3h-1zM896 269h1v3h-1zM902 269h3v3h-3zM916 269h3v3h-3zM920 270h3v1h-3zM924 269h3v3h-3zM928 270h3v1h-3zM934 269h3v3h-3zM936 270h3v1h-3zM942 269h3v3h-3zM960 270h3v1h-3zM964 269h3v1h-3zM976 269h3v1h-3zM980 269h3v3h-3zM996 269h1v3h-1zM796 271h1v3h-1zM798 271h1v3h-1zM808 271h3v3h-3zM812 271h3v3h-3zM828 272h3v1h-3zM840 271h3v3h-3zM889 271h1v3h-1zM891 271h1v3h-1zM893 271h1v3h-1zM912 271h3v1h-3zM922 271h3v1h-3zM926 271h3v3h-3zM932 271h3v3h-3zM962 271h3v3h-3zM996 272h3v1h-3zM1022 271h3v1h-3zM1044 271h3v3h-3zM732 273h3v3h-3zM767 273h1v3h-1zM778 273h3v3h-3zM786 274h3v1h-3zM797 273h1v3h-1zM798 273h3v3h-3zM802 274h3v1h-3zM808 273h3v3h-3zM810 273h3v1h-3zM900 273h1v3h-1zM902 273h3v3h-3zM906 273h3v3h-3zM926 273h3v3h-3zM1004 274h3v1h-3zM1010 274h3v1h-3zM1036 273h3v1h-3zM753 275h1v3h-1zM780 276h3v1h-3zM782 275h3v3h-3zM796 275h1v3h-1zM800 276h3v1h-3zM808 275h3v3h-3zM880 275h3v1h-3zM910 275h3v1h-3zM912 275h3v3h-3zM914 275h3v3h-3zM918 275h3v3h-3zM922 275h3v3h-3zM924 275h3v3h-3zM930 275h3v3h-3zM956 275h3v3h-3zM958 275h3v1h-3zM1000 275h3v1h-3zM759 277h1v3h-1zM778 277h1v3h-1zM780 277h3v3h-3zM788 278h3v1h-3zM794 277h3v3h-3zM796 277h3v3h-3zM810 278h3v1h-3zM812 277h3v3h-3zM852 278h3v1h-3zM892 277h3v3h-3zM894 277h1v3h-1zM916 278h3v1h-3zM946 277h3v1h-3zM992 277h3v3h-3zM998 278h3v1h-3zM712 279h3v3h-3zM776 279h3v1h-3zM786 279h3v1h-3zM800 279h3v3h-3zM808 279h3v3h-3zM832 279h1v3h-1zM854 279h3v1h-3zM912 279h3v3h-3zM917 279h1v3h-1zM926 279h3v3h-3zM928 279h3v3h-3zM932 279h3v3h-3zM962 280h3v1h-3zM1015 279h1v3h-1zM1021 279h1v3h-1zM788 281h1v3h-1zM792 281h3v3h-3zM795 281h1v3h-1zM814 281h3v1h-3zM892 281h1v3h-1zM897 281h1v3h-1zM912 282h3v1h-3zM914 281h3v3h-3zM920 282h3v1h-3zM942 281h3v3h-3zM950 281h3v1h-3zM974 281h3v3h-3zM998 281h3v3h-3zM1026 282h3v1h-3zM780 283h3v3h-3zM795 283h1v3h-1zM796 283h1v3h-1zM802 283h1v3h-1zM804 283h3v3h-3zM806 283h3v3h-3zM818 283h3v1h-3zM880 283h3v3h-3zM882 283h3v1h-3zM894 283h3v3h-3zM940 283h3v3h-3zM972 283h3v1h-3zM1000 283h3v3h-3zM1024 284h3v1h-3zM764 286h3v1h-3zM768 285h3v3h-3zM780 285h3v3h-3zM784 285h3v3h-3zM798 285h3v3h-3zM879 285h1v3h-1zM904 285h1v3h-1zM908 285h3v1h-3zM916 286h3v1h-3zM946 285h3v3h-3zM960 285h3v3h-3zM1002 285h1v3h-1zM1014 285h3v3h-3zM753 287h1v3h-1zM786 287h3v3h-3zM788 287h1v3h-1zM790 287h3v3h-3zM793 287h1v3h-1zM800 287h3v3h-3zM809 287h1v3h-1zM868 287h3v3h-3zM880 287h3v3h-3zM902 287h3v3h-3zM904 287h3v3h-3zM908 287h3v3h-3zM918 287h3v3h-3zM920 287h3v3h-3zM930 287h3v3h-3zM994 287h3v3h-3zM1003 287h1v3h-1zM702 290h3v1h-3zM752 289h3v3h-3zM764 289h3v3h-3zM778 289h1v3h-1zM790 289h3v3h-3zM890 289h3v3h-3zM892 289h3v1h-3zM894 289h3v3h-3zM898 289h3v3h-3zM900 289h1v3h-1zM902 289h1v3h-1zM914 289h3v3h-3zM920 290h3v1h-3zM986 289h3v3h-3zM990 289h3v3h-3zM1012 289h3v3h-3zM1044 289h1v3h-1zM702 291h3v3h-3zM740 291h3v1h-3zM768 291h1v3h-1zM782 292h3v1h-3zM784 291h3v3h-3zM786 291h3v3h-3zM826 291h3v3h-3zM858 291h3v3h-3zM886 291h3v3h-3zM894 291h3v3h-3zM896 291h3v3h-3zM906 291h3v3h-3zM909 291h1v3h-1zM926 292h3v1h-3zM934 291h3v3h-3zM952 292h3v1h-3zM954 291h1v3h-1zM970 291h3v3h-3zM982 291h3v3h-3zM988 291h3v3h-3zM1005 291h1v3h-1zM772 293h3v3h-3zM782 294h3v1h-3zM858 293h3v1h-3zM872 293h1v3h-1zM882 293h3v1h-3zM890 294h3v1h-3zM913 293h1v3h-1zM952 293h3v1h-3zM982 293h3v1h-3zM1002 293h1v3h-1zM700 295h3v1h-3zM714 295h3v3h-3zM718 296h3v1h-3zM738 295h3v1h-3zM744 295h3v3h-3zM765 295h1v3h-1zM768 295h3v1h-3zM770 295h3v3h-3zM790 295h3v3h-3zM806 295h3v1h-3zM864 295h3v3h-3zM876 295h3v3h-3zM884 295h3v3h-3zM888 295h3v3h-3zM908 295h3v3h-3zM914 295h3v3h-3zM946 295h3v3h-3zM972 295h3v1h-3zM1002 295h3v3h-3zM1034 296h3v1h-3zM738 297h3v3h-3zM742 298h3v1h-3zM744 297h3v3h-3zM754 297h3v3h-3zM763 297h1v3h-1zM768 297h3v3h-3zM782 297h3v3h-3zM787 297h1v3h-1zM799 297h1v3h-1zM800 297h3v3h-3zM864 297h3v3h-3zM866 297h1v3h-1zM872 297h3v1h-3zM876 297h1v3h-1zM886 297h3v3h-3zM906 297h3v1h-3zM918 298h3v1h-3zM938 297h3v1h-3zM958 297h3v3h-3zM970 297h3v3h-3zM1005 297h1v3h-1zM1014 297h3v1h-3zM1032 297h1v3h-1zM706 299h3v1h-3zM760 299h3v1h-3zM762 299h3v1h-3zM768 299h3v3h-3zM770 299h3v1h-3zM774 299h3v3h-3zM814 299h3v3h-3zM862 299h1v3h-1zM892 300h3v1h-3zM990 300h3v1h-3zM1030 299h3v1h-3zM774 301h3v3h-3zM792 301h1v3h-1zM798 301h3v1h-3zM835 301h1v3h-1zM872 302h3v1h-3zM877 301h1v3h-1zM880 301h3v3h-3zM916 301h3v3h-3zM940 301h3v1h-3zM944 301h1v3h-1zM946 301h3v3h-3zM957 301h1v3h-1zM964 301h3v3h-3zM742 303h3v3h-3zM769 303h1v3h-1zM770 303h3v3h-3zM778 303h3v3h-3zM786 303h3v1h-3zM800 303h1v3h-1zM808 303h3v3h-3zM822 303h3v1h-3zM842 303h3v3h-3zM868 304h3v1h-3zM870 303h3v3h-3zM879 303h1v3h-1zM894 303h1v3h-1zM920 303h3v3h-3zM950 303h3v3h-3zM986 303h3v3h-3zM1016 303h3v3h-3zM742 305h1v3h-1zM762 306h3v1h-3zM766 305h3v3h-3zM776 305h3v1h-3zM778 305h3v1h-3zM812 306h3v1h-3zM824 306h3v1h-3zM832 305h3v3h-3zM850 305h3v3h-3zM862 305h3v3h-3zM870 305h3v3h-3zM880 305h3v3h-3zM958 306h3v1h-3zM988 305h3v3h-3zM1016 305h3v3h-3zM723 307h1v3h-1zM738 307h3v3h-3zM760 307h3v1h-3zM762 307h3v3h-3zM774 307h3v3h-3zM790 308h3v1h-3zM828 307h3v3h-3zM842 307h3v3h-3zM870 307h3v3h-3zM881 307h1v3h-1zM913 307h1v3h-1zM968 307h1v3h-1zM988 308h3v1h-3zM1024 307h3v1h-3zM1050 307h1v3h-1zM726 309h3v3h-3zM752 309h3v3h-3zM758 309h3v3h-3zM760 309h3v3h-3zM764 309h1v3h-1zM768 309h3v3h-3zM780 309h3v3h-3zM784 309h3v3h-3zM796 310h3v1h-3zM804 309h3v3h-3zM822 309h3v3h-3zM828 309h3v1h-3zM834 309h3v1h-3zM862 309h3v3h-3zM870 309h3v3h-3zM874 309h3v3h-3zM886 309h3v1h-3zM976 310h3v1h-3zM1014 309h3v3h-3zM724 311h3v3h-3zM752 311h1v3h-1zM775 311h1v3h-1zM797 311h1v3h-1zM808 311h3v1h-3zM812 311h1v3h-1zM815 311h1v3h-1zM820 311h3v3h-3zM826 311h3v1h-3zM844 311h3v1h-3zM846 311h3v3h-3zM848 311h3v3h-3zM982 311h3v3h-3zM984 311h3v3h-3zM712 314h3v1h-3zM720 313h3v3h-3zM746 313h3v3h-3zM772 314h3v1h-3zM779 313h1v3h-1zM803 313h1v3h-1zM813 313h1v3h-1zM815 313h1v3h-1zM818 313h3v1h-3zM824 313h3v3h-3zM832 313h3v3h-3zM834 313h3v3h-3zM840 313h3v3h-3zM844 313h3v3h-3zM853 313h1v3h-1zM855 313h1v3h-1zM866 313h1v3h-1zM876 313h3v3h-3zM897 313h1v3h-1zM906 313h3v3h-3zM706 315h3v3h-3zM756 315h1v3h-1zM767 315h1v3h-1zM797 315h1v3h-1zM802 315h3v1h-3zM810 316h3v1h-3zM828 316h3v1h-3zM830 315h3v3h-3zM840 315h3v1h-3zM842 315h3v3h-3zM844 315h3v1h-3zM852 315h3v3h-3zM854 316h3v1h-3zM864 315h3v1h-3zM876 315h1v3h-1zM906 315h3v3h-3zM946 315h1v3h-1zM968 315h3v1h-3zM993 315h1v3h-1zM696 317h3v1h-3zM766 317h3v1h-3zM776 317h3v3h-3zM784 318h3v1h-3zM796 317h3v1h-3zM798 317h3v3h-3zM802 317h3v3h-3zM804 317h1v3h-1zM812 317h3v3h-3zM816 317h3v3h-3zM825 317h1v3h-1zM826 317h3v1h-3zM830 317h3v3h-3zM832 317h3v1h-3zM840 317h3v3h-3zM844 317h1v3h-1zM848 317h3v1h-3zM850 317h3v3h-3zM866 318h3v1h-3zM872 317h3v3h-3zM880 317h3v3h-3zM888 317h3v1h-3zM932 317h3v3h-3zM984 317h3v3h-3zM1015 317h1v3h-1zM728 319h3v3h-3zM776 319h3v3h-3zM778 319h1v3h-1zM786 319h3v1h-3zM788 319h3v3h-3zM798 319h3v3h-3zM806 319h3v3h-3zM812 319h3v1h-3zM828 319h3v3h-3zM832 319h3v3h-3zM834 319h3v1h-3zM840 319h3v3h-3zM842 319h3v1h-3zM850 319h3v3h-3zM876 319h3v3h-3zM952 320h3v1h-3zM768 321h3v3h-3zM782 321h3v1h-3zM784 321h1v3h-1zM790 322h3v1h-3zM804 322h3v1h-3zM812 322h3v1h-3zM817 321h1v3h-1zM818 321h3v1h-3zM826 322h3v1h-3zM844 321h3v3h-3zM846 321h3v3h-3zM850 321h3v3h-3zM856 321h3v3h-3zM882 321h3v1h-3zM944 321h3v3h-3zM778 323h3v3h-3zM794 323h3v3h-3zM834 324h3v1h-3zM838 323h3v3h-3zM860 324h3v1h-3zM1034 323h3v3h-3zM734 325h3v1h-3zM868 326h3v1h-3zM871 325h1v3h-1zM782 327h3v1h-3zM802 327h1v3h-1zM814 327h3v1h-3zM816 327h3v1h-3zM848 328h3v1h-3zM908 327h3v3h-3zM750 330h3v1h-3zM808 330h3v1h-3zM856 329h3v3h-3zM906 330h3v1h-3zM918 329h3v3h-3zM798 331h3v3h-3zM828 332h3v1h-3zM830 331h3v3h-3zM874 331h3v1h-3zM962 331h3v3h-3zM1011 331h1v3h-1zM758 333h3v3h-3zM776 334h3v1h-3zM808 333h1v3h-1zM810 333h3v3h-3zM812 333h1v3h-1zM732 335h3v3h-3zM778 335h3v1h-3zM792 335h3v3h-3zM822 335h3v3h-3zM872 335h3v3h-3zM730 338h3v1h-3zM808 337h1v3h-1zM810 337h1v3h-1zM864 337h3v3h-3zM932 337h3v1h-3zM996 337h3v3h-3zM775 339h1v3h-1zM880 339h3v1h-3zM759 341h1v3h-1zM763 343h1v3h-1zM786 345h3v1h-3zM1014 346h3v1h-3zM762 347h3v1h-3zM764 347h3v3h-3zM984 347h3v1h-3zM1006 350h3v1h-3zM826 351h3v3h-3zM830 351h3v3h-3zM792 354h3v1h-3zM894 355h3v1h-3zM858 357h3v3h-3zM746 362h3v1h-3zM820 363h3v3h-3zM724 365h1v3h-1zM708 367h3v3h-3zM838 367h3v3h-3zM840 371h3v3h-3zM888 375h3v3h-3zM790 379h3v3h-3zM768 381h3v1h-3z" fill="#24419c"/>
<path d="M1012.0 120.0h2m8 10h2m14 0h2m-26 2h2m8 0h2m8 0h2m6 0h2m-40 2h2m20 0h2m-14 2h2m14 0h2m10 0h2m-20 2h2m8 0h2m2 2h2m-32 2h2m12 2h2m4 0h2m-12 2h2m14 0h2m16 0h2m-54 2h2m18 2h2m-2 2h2m0 2h2m18 2h2m-36 22h2m-8 4h2m-14 14h2m10 2h2m4 8h2m0 4h2m-2 4h2m-26 8h2m-86 16h2m92 0h2m-120 8h2m-6 4h2m16 0h2m38 0h2m-40 2h2m6 2h2m14 0h2m2 0h2m-68 2h2m12 0h2m2 0h2m20 0h4m10 0h2m-16 2h2m18 0h2m-60 2h2m12 0h4m36 0h2m-16 2h2m6 0h2m-90 2h2m4 0h2m8 0h2m2 0h2m10 0h2m4 0h2m42 0h2m8 0h2m10 0h2m2 0h2m-104 2h2m2 0h2m12 0h4m16 0h2m36 0h2m86 0h2m-164 2h2m2 0h2m4 0h2m20 0h2m30 0h2m20 0h4m6 0h2m-98 2h2m32 0h2m8 0h2m6 0h2m2 0h2m4 0h2m16 0h2m4 0h2m52 0h2m-158 2h2m14 0h2m22 0h2m64 0h2m2 0h2m-74 2h4m14 0h2m22 0h2m-100 2h2m22 0h2m6 0h2m18 0h4m56 0h2m-104 2h2m2 0h4m20 0h4m14 0h2m64 0h2m-120 2h2m6 0h2m20 0h2m62 0h2m10 0h2m-106 2h2m6 0h2m52 0h2m36 0h2m-116 2h2m2 0h2m32 0h2m74 0h2m6 0h2m24 0h2m-148 2h4m2 0h2m8 0h2m108 0h2m-30 2h2m-92 2h2m6 0h2m2 0h2m6 0h2m8 0h2m28 0h2m22 0h2m8 0h2m-124 2h2m22 0h2m6 0h2m6 0h2m4 0h2m4 0h2m46 0h2m54 0h2m60 0h2m-200 2h2m2 0h2m2 0h2m8 0h8m66 0h2m8 0h2m-134 2h2m20 0h4m6 0h2m84 0h2m-106 2h2m12 0h2m18 0h2m36 0h2m-92 2h2m38 0h2m16 0h2m22 0h2m24 0h2m2 0h4m-68 2h2m44 0h2m12 0h2m6 0h4m-84 2h2m42 0h2m6 0h2m2 0h2m20 0h2m-42 2h2m14 0h2m30 0h2m-106 2h2m20 0h2m2 0h4m-8 2h2m8 0h2m6 0h2m2 0h8m8 0h2m72 0h2m-64 2h2m6 0h4m6 0h2m-42 2h2m6 0h4m6 0h2m-46 2h2m2 0h2m6 0h2m18 0h2m-32 6h2m16 0h2m14 0h2" stroke="#6bc7b5" stroke-width="2" fill="none"/>
<path d="M1014.0 122.0h2m-2 4h2m8 0h2m-20 2h2m-18 2h2m42 0h2m-18 4h2m20 2h2m-34 2h2m36 2h2m-24 2h2m-14 2h2m2 0h2m34 0h2m-54 2h2m10 0h2m2 0h2m-8 2h2m12 0h2m2 0h2m-4 2h2m6 8h2m-12 2h2m-8 2h2m-26 38h2m0 20h2m-124 22h2m-6 4h4m2 6h2m10 0h2m18 0h2m24 0h2m-60 2h2m10 0h2m8 0h2m-38 2h2m20 0h2m2 0h2m4 0h2m8 0h2m14 0h2m-52 2h2m4 0h4m12 0h4m4 0h2m6 0h4m6 0h2m2 0h2m2 0h2m-80 2h2m2 0h2m16 0h2m12 0h2m12 0h2m20 0h2m-88 2h2m8 0h6m4 0h2m2 0h4m6 0h2m14 0h2m2 0h6m6 0h2m6 0h2m-78 2h2m6 0h2m4 0h4m2 0h2m4 0h12m2 0h4m4 0h2m4 0h6m4 0h4m16 0h2m22 0h2m-106 2h2m8 0h2m2 0h4m2 0h2m2 0h2m2 0h4m4 0h4m2 0h2m4 0h6m2 0h2m4 0h2m14 0h4m-90 2h2m4 0h2m4 0h2m2 0h6m2 0h6m2 0h2m8 0h2m2 0h4m2 0h4m2 0h2m6 0h2m2 0h2m2 0h2m6 0h2m-90 2h4m6 0h2m6 0h4m4 0h2m14 0h2m2 0h2m4 0h2m8 0h2m4 0h4m4 0h4m2 0h2m2 0h4m20 0h2m-110 2h2m4 0h8m4 0h8m4 0h4m2 0h4m2 0h4m8 0h2m4 0h4m6 0h2m4 0h2m2 0h2m4 0h2m-98 2h2m2 0h2m2 0h2m4 0h2m2 0h2m4 0h4m22 0h2m6 0h6m2 0h4m8 0h2m14 0h2m-106 2h2m4 0h4m6 0h2m4 0h2m2 0h2m18 0h4m8 0h2m6 0h2m4 0h4m16 0h4m6 0h2m12 0h2m-108 2h2m4 0h8m8 0h2m6 0h2m22 0h2m4 0h2m4 0h4m2 0h2m2 0h2m6 0h8m-104 2h2m10 0h4m4 0h2m4 0h4m12 0h8m4 0h2m18 0h2m2 0h4m2 0h4m8 0h4m6 0h2m-110 2h2m6 0h2m2 0h2m4 0h4m2 0h2m8 0h2m26 0h2m6 0h2m4 0h2m2 0h2m2 0h2m4 0h2m2 0h2m4 0h2m2 0h2m2 0h2m-146 2h2m32 0h4m6 0h8m4 0h2m4 0h2m2 0h2m4 0h6m8 0h2m6 0h2m2 0h2m8 0h2m2 0h2m6 0h2m4 0h4m2 0h2m4 0h2m-144 2h2m32 0h2m4 0h2m2 0h2m2 0h14m4 0h4m8 0h2m4 0h2m10 0h2m4 0h8m10 0h4m2 0h2m8 0h2m22 0h2m-138 2h2m8 0h2m6 0h2m2 0h2m4 0h2m8 0h2m4 0h2m2 0h4m8 0h2m8 0h2m6 0h2m10 0h2m12 0h2m2 0h2m6 0h2m-114 2h2m8 0h4m2 0h2m4 0h2m20 0h2m2 0h2m4 0h2m4 0h2m2 0h2m2 0h2m2 0h4m2 0h2m2 0h8m4 0h2m2 0h2m-96 2h6m2 0h4m16 0h6m4 0h4m8 0h2m2 0h2m8 0h2m4 0h4m6 0h6m2 0h6m-102 2h2m6 0h2m2 0h2m2 0h4m8 0h2m2 0h2m4 0h2m10 0h6m4 0h6m12 0h2m16 0h2m2 0h2m8 0h2m-114 2h2m10 0h4m2 0h6m2 0h4m2 0h4m6 0h4m2 0h6m4 0h2m12 0h2m4 0h2m4 0h2m2 0h2m10 0h2m2 0h2m-112 2h2m10 0h2m2 0h2m14 0h4m2 0h6m4 0h2m2 0h2m2 0h2m6 0h2m2 0h2m2 0h2m2 0h12m4 0h4m6 0h2m2 0h2m-102 2h2m6 0h2m4 0h4m4 0h4m8 0h4m16 0h2m2 0h4m4 0h2m2 0h6m10 0h6m6 0h2m2 0h2m-114 2h2m4 0h2m4 0h2m4 0h2m2 0h4m4 0h2m2 0h4m6 0h4m2 0h4m4 0h2m6 0h2m2 0h2m6 0h2m2 0h2m6 0h4m-70 2h4m2 0h6m2 0h6m8 0h2m4 0h2m2 0h6m-54 2h2m12 0h2m6 0h2m6 0h2m4 0h2m4 0h2m4 0h6m14 0h2m2 0h2m4 0h2m2 0h2m-70 2h2m4 0h2m2 0h2m2 0h2m14 0h2m16 0h2m12 0h2m2 0h2m-80 2h2m4 0h2m28 0h4m22 0h2m-48 2h2m4 0h2m6 0h2m2 0h2m4 0h2m8 0h2m-44 2h2m2 0h2m6 0h2m2 2h2m0 2h2" stroke="#6cbd46" stroke-width="2" fill="none"/>
<path d="M864.0 258.0h2m20 4h2m14 0h2m-28 4h2m2 0h2m-20 2h2m28 0h2m-18 2h2m-40 2h2m32 0h2m6 0h2m-66 2h2m2 0h2m30 0h2m4 0h2m-28 2h2m22 0h2m10 0h2m20 0h2m-76 2h2m22 0h2m20 0h2m0 2h2m12 0h2m-64 2h2m48 0h2m6 0h2m2 2h2m-74 2h2m22 0h2m4 0h2m10 0h2m26 0h2m-40 2h2m30 0h2m18 0h2m-58 2h2m22 0h2m0 2h2m-38 2h2m24 0h2m14 0h6m-46 4h2m-6 2h2m6 0h2m-4 2h2m2 0h2m-64 4h2m72 0h2m-32 10h2" stroke="#a9cf3a" stroke-width="2" fill="none"/>
<path d="M858.0 266.0h2m12 2h2m22 0h2m-68 2h2m14 0h2m4 0h2m18 0h2m-48 4h2m8 0h2m6 0h2m8 0h2m12 0h2m18 0h2m8 0h2m-64 2h4m18 0h2m12 0h4m18 0h2m-68 2h2m12 0h2m26 0h2m6 0h2m8 0h2m6 0h2m-86 2h2m6 0h2m18 0h2m26 0h4m20 0h2m-64 2h2m12 0h4m-32 2h2m24 0h2m16 0h2m26 0h2m-50 2h2m48 0h4m-84 2h2m8 0h2m2 0h4m14 0h2m16 0h2m10 0h2m-58 2h2m2 0h2m-14 2h2m4 0h2m12 0h2m14 0h2m4 0h2m-24 2h2m10 0h2m22 0h2m-44 2h2m14 0h2m8 0h2m6 0h2m4 0h2m-44 2h4m14 0h2m10 0h2m-28 2h2m12 0h2m6 0h2m-44 2h2m22 2h2m-26 2h2m30 2h2" stroke="#f7e219" stroke-width="2" fill="none"/>
<path d="M854.0 266.0h2m12 0h2m-6 2h2m12 0h2m-26 2h2m-4 2h2m16 0h2m4 0h2m-36 2h2m16 0h2m8 0h2m12 2h2m-30 2h2m6 0h2m10 0h2m-42 2h2m-16 2h2m2 0h2m20 0h2m4 0h2m8 0h2m-42 2h2m2 0h2m4 0h2m8 0h2m28 0h2m10 0h2m-56 2h4m14 0h2m6 0h2m10 0h4m14 0h2m-74 2h2m22 0h2m4 0h2m10 0h2m4 0h2m-44 2h2m4 0h4m6 0h2m24 0h2m-50 2h2m22 0h2m6 0h2m4 0h2m-42 2h2m10 0h2m26 0h4m-38 2h2m14 0h2m4 0h2m6 0h2m-18 2h2m10 0h2m-16 2h2m2 2h2m-18 2h2m-8 2h2" stroke="#f58b22" stroke-width="2" fill="none"/>
<path d="M850.0 270.0h2m10 0h2m2 0h2m-4 2h2m16 0h2m-50 2h2m10 0h2m8 0h2m4 0h2m14 0h2m14 0h2m-56 2h4m4 0h2m4 0h2m4 0h2m2 0h4m18 0h2m-50 2h2m6 0h2m2 0h2m2 0h2m2 0h2m6 0h2m4 0h2m-40 2h2m6 0h2m8 0h2m4 0h6m2 0h2m4 0h4m8 0h2m-58 2h2m2 0h2m2 0h8m6 0h4m2 0h4m8 0h2m8 0h2m6 0h2m-56 2h2m12 0h4m2 0h6m6 0h6m-48 2h2m18 0h2m2 0h2m4 0h4m4 0h2m-48 2h2m14 0h2m4 0h2m10 0h4m14 0h2m10 0h2m-68 2h2m12 0h2m12 0h2m2 0h4m2 0h2m16 0h2m-36 2h6m28 0h2m-52 2h2m10 0h4m8 0h2m8 0h2m-10 2h2m-10 2h2m-24 4h2" stroke="#e8262a" stroke-width="2" fill="none"/>
<rect x="946.60" y="44.60" width="2.20" height="433.00" fill="#000"/>
<rect x="687.90" y="163.28" width="433.00" height="2.00" fill="#000"/>
<rect x="685.70" y="43.00" width="3.20" height="436.20" fill="#000"/>
<rect x="1120.20" y="43.00" width="3.20" height="436.20" fill="#000"/>
<rect x="685.70" y="43.00" width="437.70" height="3.20" fill="#000"/>
<rect x="685.70" y="478.10" width="437.70" height="3.40" fill="#000"/>
<rect x="685.70" y="477.60" width="3.20" height="3.90" fill="#000"/>
<rect x="1120.20" y="477.60" width="3.20" height="3.90" fill="#000"/>
<rect x="679.20" y="476.60" width="8.10" height="2.00" fill="#000"/>
<rect x="683.20" y="450.83" width="4.10" height="1.40" fill="#000"/>
<rect x="683.20" y="435.58" width="4.10" height="1.40" fill="#000"/>
<rect x="683.20" y="424.76" width="4.10" height="1.40" fill="#000"/>
<rect x="681.20" y="416.37" width="6.10" height="1.40" fill="#000"/>
<rect x="683.20" y="409.51" width="4.10" height="1.40" fill="#000"/>
<rect x="683.20" y="403.71" width="4.10" height="1.40" fill="#000"/>
<rect x="683.20" y="398.69" width="4.10" height="1.40" fill="#000"/>
<rect x="683.20" y="394.26" width="4.10" height="1.40" fill="#000"/>
<rect x="679.20" y="390.00" width="8.10" height="2.00" fill="#000"/>
<rect x="683.20" y="364.23" width="4.10" height="1.40" fill="#000"/>
<rect x="683.20" y="348.98" width="4.10" height="1.40" fill="#000"/>
<rect x="683.20" y="338.16" width="4.10" height="1.40" fill="#000"/>
<rect x="681.20" y="329.77" width="6.10" height="1.40" fill="#000"/>
<rect x="683.20" y="322.91" width="4.10" height="1.40" fill="#000"/>
<rect x="683.20" y="317.11" width="4.10" height="1.40" fill="#000"/>
<rect x="683.20" y="312.09" width="4.10" height="1.40" fill="#000"/>
<rect x="683.20" y="307.66" width="4.10" height="1.40" fill="#000"/>
<rect x="679.20" y="303.40" width="8.10" height="2.00" fill="#000"/>
<rect x="683.20" y="277.63" width="4.10" height="1.40" fill="#000"/>
<rect x="683.20" y="262.38" width="4.10" height="1.40" fill="#000"/>
<rect x="683.20" y="251.56" width="4.10" height="1.40" fill="#000"/>
<rect x="681.20" y="243.17" width="6.10" height="1.40" fill="#000"/>
<rect x="683.20" y="236.31" width="4.10" height="1.40" fill="#000"/>
<rect x="683.20" y="230.51" width="4.10" height="1.40" fill="#000"/>
<rect x="683.20" y="225.49" width="4.10" height="1.40" fill="#000"/>
<rect x="683.20" y="221.06" width="4.10" height="1.40" fill="#000"/>
<rect x="679.20" y="216.80" width="8.10" height="2.00" fill="#000"/>
<rect x="683.20" y="191.03" width="4.10" height="1.40" fill="#000"/>
<rect x="683.20" y="175.78" width="4.10" height="1.40" fill="#000"/>
<rect x="683.20" y="164.96" width="4.10" height="1.40" fill="#000"/>
<rect x="681.20" y="156.57" width="6.10" height="1.40" fill="#000"/>
<rect x="683.20" y="149.71" width="4.10" height="1.40" fill="#000"/>
<rect x="683.20" y="143.91" width="4.10" height="1.40" fill="#000"/>
<rect x="683.20" y="138.89" width="4.10" height="1.40" fill="#000"/>
<rect x="683.20" y="134.46" width="4.10" height="1.40" fill="#000"/>
<rect x="679.20" y="130.20" width="8.10" height="2.00" fill="#000"/>
<rect x="683.20" y="104.43" width="4.10" height="1.40" fill="#000"/>
<rect x="683.20" y="89.18" width="4.10" height="1.40" fill="#000"/>
<rect x="683.20" y="78.36" width="4.10" height="1.40" fill="#000"/>
<rect x="681.20" y="69.97" width="6.10" height="1.40" fill="#000"/>
<rect x="683.20" y="63.11" width="4.10" height="1.40" fill="#000"/>
<rect x="683.20" y="57.31" width="4.10" height="1.40" fill="#000"/>
<rect x="683.20" y="52.29" width="4.10" height="1.40" fill="#000"/>
<rect x="683.20" y="47.86" width="4.10" height="1.40" fill="#000"/>
<rect x="679.20" y="43.60" width="8.10" height="2.00" fill="#000"/>
<rect x="686.90" y="481.20" width="2.00" height="6.50" fill="#000"/>
<rect x="713.27" y="481.20" width="1.40" height="2.50" fill="#000"/>
<rect x="728.52" y="481.20" width="1.40" height="2.50" fill="#000"/>
<rect x="739.34" y="481.20" width="1.40" height="2.50" fill="#000"/>
<rect x="747.73" y="481.20" width="1.40" height="4.50" fill="#000"/>
<rect x="754.59" y="481.20" width="1.40" height="2.50" fill="#000"/>
<rect x="760.39" y="481.20" width="1.40" height="2.50" fill="#000"/>
<rect x="765.41" y="481.20" width="1.40" height="2.50" fill="#000"/>
<rect x="769.84" y="481.20" width="1.40" height="2.50" fill="#000"/>
<rect x="773.50" y="481.20" width="2.00" height="6.50" fill="#000"/>
<rect x="799.87" y="481.20" width="1.40" height="2.50" fill="#000"/>
<rect x="815.12" y="481.20" width="1.40" height="2.50" fill="#000"/>
<rect x="825.94" y="481.20" width="1.40" height="2.50" fill="#000"/>
<rect x="834.33" y="481.20" width="1.40" height="4.50" fill="#000"/>
<rect x="841.19" y="481.20" width="1.40" height="2.50" fill="#000"/>
<rect x="846.99" y="481.20" width="1.40" height="2.50" fill="#000"/>
<rect x="852.01" y="481.20" width="1.40" height="2.50" fill="#000"/>
<rect x="856.44" y="481.20" width="1.40" height="2.50" fill="#000"/>
<rect x="860.10" y="481.20" width="2.00" height="6.50" fill="#000"/>
<rect x="886.47" y="481.20" width="1.40" height="2.50" fill="#000"/>
<rect x="901.72" y="481.20" width="1.40" height="2.50" fill="#000"/>
<rect x="912.54" y="481.20" width="1.40" height="2.50" fill="#000"/>
<rect x="920.93" y="481.20" width="1.40" height="4.50" fill="#000"/>
<rect x="927.79" y="481.20" width="1.40" height="2.50" fill="#000"/>
<rect x="933.59" y="481.20" width="1.40" height="2.50" fill="#000"/>
<rect x="938.61" y="481.20" width="1.40" height="2.50" fill="#000"/>
<rect x="943.04" y="481.20" width="1.40" height="2.50" fill="#000"/>
<rect x="946.70" y="481.20" width="2.00" height="6.50" fill="#000"/>
<rect x="973.07" y="481.20" width="1.40" height="2.50" fill="#000"/>
<rect x="988.32" y="481.20" width="1.40" height="2.50" fill="#000"/>
<rect x="999.14" y="481.20" width="1.40" height="2.50" fill="#000"/>
<rect x="1007.53" y="481.20" width="1.40" height="4.50" fill="#000"/>
<rect x="1014.39" y="481.20" width="1.40" height="2.50" fill="#000"/>
<rect x="1020.19" y="481.20" width="1.40" height="2.50" fill="#000"/>
<rect x="1025.21" y="481.20" width="1.40" height="2.50" fill="#000"/>
<rect x="1029.64" y="481.20" width="1.40" height="2.50" fill="#000"/>
<rect x="1033.30" y="481.20" width="2.00" height="6.50" fill="#000"/>
<rect x="1059.67" y="481.20" width="1.40" height="2.50" fill="#000"/>
<rect x="1074.92" y="481.20" width="1.40" height="2.50" fill="#000"/>
<rect x="1085.74" y="481.20" width="1.40" height="2.50" fill="#000"/>
<rect x="1094.13" y="481.20" width="1.40" height="4.50" fill="#000"/>
<rect x="1100.99" y="481.20" width="1.40" height="2.50" fill="#000"/>
<rect x="1106.79" y="481.20" width="1.40" height="2.50" fill="#000"/>
<rect x="1111.81" y="481.20" width="1.40" height="2.50" fill="#000"/>
<rect x="1116.24" y="481.20" width="1.40" height="2.50" fill="#000"/>
<rect x="1119.90" y="481.20" width="2.00" height="6.50" fill="#000"/>
<text x="1036.40" y="82.00" text-anchor="middle" style="font-family:'Liberation Sans',Arial,Helvetica,sans-serif;font-size:33.5px" >Necrosis</text>
<text x="1036.05" y="121.60" text-anchor="middle" style="font-family:'Liberation Sans',Arial,Helvetica,sans-serif;font-size:33.5px" >7.4 %</text>
<text x="1037.50" y="417.70" text-anchor="middle" style="font-family:'Liberation Sans',Arial,Helvetica,sans-serif;font-size:33.5px" >Apoptosis</text>
<text x="1035.45" y="457.40" text-anchor="middle" style="font-family:'Liberation Sans',Arial,Helvetica,sans-serif;font-size:33.5px" >9.3 %</text>
<text x="709.40" y="459.00" text-anchor="start" style="font-family:'Liberation Sans',Arial,Helvetica,sans-serif;font-size:37px;font-weight:bold" >UT</text>
<text x="668.0" y="83.90" text-anchor="end" style="font-family:'Liberation Sans',Arial,Helvetica,sans-serif;font-size:33px">10<tspan dy="-13.9" style="font-size:23px">3</tspan></text>
<text x="668.0" y="147.90" text-anchor="end" style="font-family:'Liberation Sans',Arial,Helvetica,sans-serif;font-size:33px">10<tspan dy="-13.9" style="font-size:23px">2</tspan></text>
<text x="668.0" y="232.20" text-anchor="end" style="font-family:'Liberation Sans',Arial,Helvetica,sans-serif;font-size:33px">10<tspan dy="-13.9" style="font-size:23px">1</tspan></text>
<text x="668.0" y="318.90" text-anchor="end" style="font-family:'Liberation Sans',Arial,Helvetica,sans-serif;font-size:33px">10<tspan dy="-13.9" style="font-size:23px">0</tspan></text>
<text x="668.0" y="405.00" text-anchor="end" style="font-family:'Liberation Sans',Arial,Helvetica,sans-serif;font-size:33px">10<tspan dy="-13.9" style="font-size:23px">-1</tspan></text>
<text x="668.0" y="474.90" text-anchor="end" style="font-family:'Liberation Sans',Arial,Helvetica,sans-serif;font-size:33px">10<tspan dy="-13.9" style="font-size:23px">-2</tspan></text>
<path d="M1473.0 102.0h2m4 0h2m6 0h2m-20 2h2m-8 2h2m6 0h2m-14 2h2m44 0h2m12 0h2m-104 2h2m38 4h2m18 0h2m30 0h2m-44 2h2m0 2h2m20 0h2m-62 2h2m10 0h2m16 0h2m4 0h2m24 0h2m6 0h2m-36 2h2m6 0h2m6 0h4m-44 2h4m10 0h2m6 0h8m6 0h2m24 0h4m-50 2h4m8 0h2m2 0h2m6 0h2m14 0h2m2 0h2m-48 2h2m6 0h4m20 0h2m12 0h2m-68 2h4m10 0h2m12 0h2m2 0h4m4 0h2m4 0h4m4 0h2m2 0h2m8 0h4m-54 2h2m6 0h4m54 0h2m-46 2h2m4 0h2m-24 2h2m2 0h2m18 0h2m-32 2h2m2 0h2m12 0h2m4 0h2m14 0h2m-28 2h4m2 0h2m18 0h2m-36 2h4m16 0h2m-44 2h2m12 0h2m10 0h2m16 0h2m8 0h2m12 0h2m-74 2h2m4 0h2m12 0h2m2 0h2m4 0h2m6 0h2m8 0h2m44 0h2m-92 2h2m32 0h2m22 0h2m-62 2h2m36 0h2m4 0h2m18 0h2m-90 2h2m64 0h2m4 0h2m16 0h2m-56 2h2m10 0h2m2 0h2m6 0h2m2 0h2m6 0h2m8 0h4m-42 2h2m8 2h2m-18 2h4m26 0h2m16 0h2m-42 2h2m16 0h2m12 0h2m4 0h4m14 0h2m-76 2h2m22 0h2m42 0h2m-76 2h2m18 0h2m-18 2h2m8 0h2m24 0h2m12 0h4m-36 2h2m-10 2h2m42 0h2m0 2h2m-42 2h2m4 0h2m22 0h2m-34 4h2m14 0h2m-28 2h2m2 0h2m2 0h2m30 0h2m-18 4h2m-12 2h2m34 0h2m-62 2h2m26 0h2m2 0h2m-58 2h2m38 0h4m28 0h2m2 0h2m-44 2h2m2 0h2m24 0h2m-32 2h2m6 0h4m-26 2h2m28 0h2m12 0h2m-16 2h2m20 0h2m-50 2h2m6 0h2m14 0h2m6 0h2m-44 2h2m22 0h2m-12 4h2m44 0h2m26 0h2m-242 2h2m108 0h2m16 0h2m28 0h2m32 0h2m26 0h2m-136 2h2m20 0h2m98 2h2m-36 2h2m12 0h2m10 0h2m-156 2h2m134 0h2m2 0h4m4 0h2m4 0h2m22 0h2m-230 2h2m74 0h2m66 0h2m-102 2h2m44 0h2m58 0h2m14 0h2m64 0h2m-196 2h2m66 0h2m106 0h2m-130 2h2m4 0h2m28 0h2m26 0h2m40 0h2m10 0h2m6 0h2m10 0h2m-176 2h2m6 0h2m30 0h2m94 0h2m6 0h2m-180 2h2m90 0h2m46 0h2m26 0h2m-166 2h2m4 0h2m48 0h2m38 0h2m28 0h2m10 0h2m-110 2h2m82 0h2m34 0h2m14 0h2m-156 2h2m60 0h2m10 0h2m8 0h2m44 0h2m-158 2h2m14 0h2m14 0h2m34 0h2m4 0h2m10 0h2m4 0h2m18 0h2m68 0h2m-100 2h2m4 0h2m6 0h4m2 0h2m60 0h2m10 0h2m-302 2h2m168 0h2m14 0h2m18 0h2m10 0h2m10 0h2m36 0h2m14 0h2m-164 2h2m46 0h2m4 0h2m16 0h2m36 0h2m52 0h2m32 0h2m10 0h2m-152 2h4m12 0h2m4 0h2m8 0h2m20 0h2m2 0h2m44 0h4m2 0h2m4 0h2m4 0h2m4 0h2m18 0h2m-176 2h2m16 0h2m14 0h2m10 0h2m4 0h4m2 0h2m2 0h2m12 0h2m4 0h4m4 0h2m30 0h2m4 0h2m16 0h2m-160 2h2m10 0h2m26 0h2m8 0h6m16 0h2m4 0h2m10 0h2m2 0h2m-92 2h2m6 0h2m10 0h2m4 0h2m24 0h2m12 0h2m46 0h2m10 0h2m6 0h2m26 0h2m48 0h2m-238 2h2m14 0h2m8 0h2m20 0h2m4 0h2m4 0h2m4 0h2m10 0h2m12 0h2m10 0h4m54 0h2m-186 2h2m36 0h4m14 0h2m28 0h2m16 0h2m6 0h2m14 0h4m76 0h2m-216 2h2m24 0h2m36 0h2m4 0h2m4 0h2m4 0h2m8 0h2m8 0h2m6 0h2m4 0h2m16 0h2m4 0h2m14 0h2m42 0h2m-228 2h2m38 0h2m16 0h2m8 0h2m10 0h2m16 0h6m12 0h2m22 0h2m2 0h4m14 0h2m12 0h2m16 0h4m6 0h2m-184 2h2m6 0h2m24 0h4m14 0h2m4 0h4m6 0h4m6 0h2m14 0h2m16 0h4m4 0h2m6 0h2m14 0h2m6 0h2m32 0h2m6 0h2m6 0h2m22 0h2m-286 2h2m74 0h4m2 0h2m2 0h2m6 0h4m8 0h2m28 0h2m18 0h2m10 0h2m22 0h2m4 0h2m4 0h2m14 0h2m12 0h2m16 0h2m-188 2h2m14 0h2m2 0h2m14 0h2m16 0h2m16 0h2m6 0h4m22 0h4m20 0h2m36 0h2m-200 2h2m14 0h2m16 0h2m22 0h2m14 0h2m14 0h2m22 0h2m22 0h2m38 0h2m36 0h2m-194 2h2m16 0h2m10 0h2m2 0h2m2 0h4m16 0h2m6 0h2m8 0h2m2 0h2m14 0h2m12 0h2m126 0h2m16 0h2m-266 2h2m2 0h2m46 0h2m54 0h2m12 0h2m6 0h2m2 0h2m8 0h2m48 0h2m36 0h4m18 0h2m-290 2h2m38 0h2m4 0h2m2 0h4m18 0h2m4 0h2m4 0h2m86 0h2m74 0h2m12 0h2m12 0h2m-242 2h4m8 0h2m64 0h2m12 0h2m32 0h2m8 0h2m68 0h2m36 0h2m-244 2h2m2 0h2m8 0h2m92 0h2m6 0h2m4 0h4m2 0h2m6 0h4m40 0h2m-182 2h2m4 0h2m26 0h2m62 0h2m4 0h2m8 0h2m4 0h2m4 0h2m4 0h2m42 0h2m-166 2h2m100 0h4m2 0h2m8 0h2m42 0h2m4 0h2m14 0h2m26 0h2m-214 2h2m4 0h2m4 0h2m62 0h2m10 0h2m2 0h2m4 0h2m4 0h2m2 0h2m2 0h2m6 0h2m2 0h2m10 0h2m2 0h2m8 0h2m10 0h2m-170 2h2m6 0h2m2 0h2m66 0h2m16 0h2m4 0h2m12 0h2m68 0h2m20 0h2m-268 2h2m32 0h2m2 0h2m28 0h2m90 0h2m4 0h2m12 0h4m50 0h2m38 0h2m-274 2h2m12 0h2m26 0h2m6 0h2m74 0h6m14 0h6m8 0h4m12 0h2m-202 2h2m40 0h2m6 0h2m34 0h2m20 0h2m56 0h2m10 0h4m4 0h4m4 0h2m28 0h2m54 0h4m20 0h2m-218 2h2m4 0h4m12 0h2m44 0h6m8 0h2m8 0h2m8 0h2m84 0h2m-240 2h2m18 0h4m18 0h2m10 0h2m26 0h2m6 0h2m16 0h2m14 0h2m70 0h2m-210 2h2m16 0h2m2 0h2m6 0h2m16 0h2m38 0h2m16 0h2m14 0h2m26 0h2m2 0h2m-122 2h2m2 0h2m12 0h2m76 0h2m4 0h4m4 0h2m2 0h2m4 0h2m14 0h2m66 0h4m-252 2h2m46 0h2m12 0h4m4 0h2m38 0h2m6 0h2m16 0h2m2 0h6m12 0h2m20 0h2m36 0h2m-190 2h2m14 0h2m6 0h2m2 0h4m10 0h2m6 0h2m26 0h2m6 0h2m6 0h4m2 0h4m8 0h2m4 0h2m22 0h2m-154 2h2m4 0h2m16 0h4m12 0h2m6 0h2m32 0h6m10 0h2m2 0h2m12 0h2m-164 2h2m64 0h2m30 0h4m2 0h2m2 0h2m20 0h2m2 0h6m6 0h2m10 0h2m4 0h2m4 0h2m4 0h2m-118 2h2m12 0h2m10 0h2m4 0h4m14 0h2m6 0h2m4 0h2m26 0h2m22 0h2m-142 2h2m26 0h2m8 0h2m14 0h2m4 0h2m22 0h4m10 0h2m10 0h2m180 0h2m-280 2h2m4 0h2m10 0h2m12 0h2m20 0h2m14 0h2m8 0h2m18 0h2m36 0h2m-132 2h2m8 0h4m2 0h4m26 0h2m36 0h4m24 0h2m-96 2h2m6 0h4m14 0h2m12 0h2m6 0h4m12 0h2m2 0h2m10 0h2m8 0h2m-152 2h2m34 0h2m8 0h2m36 0h2m18 0h2m6 0h2m14 0h2m42 0h2m-108 2h2m4 0h2m46 0h4m-70 2h2m16 0h6m6 0h2m16 0h2m-128 2h2m134 0h2m6 0h2m20 0h2m-102 2h2m36 0h2m-2 2h2m8 0h2m16 0h2m16 0h2m134 0h2m-250 2h2m36 0h2m48 0h2m-70 2h2m34 0h2m74 0h2m-128 2h4m36 0h2m-18 2h2m228 0h2m-266 2h2m98 0h2m6 0h2m18 0h2m-18 8h2m32 0h2m-184 4h2m168 2h2m-120 4h2m2 8h2m88 28h2m-112 2h2" stroke="#24419c" stroke-width="2" fill="none"/>
<path d="M1491 100h3v1h-3zM1453 101h1v3h-1zM1462 101h1v3h-1zM1515 102h3v1h-3zM1455 103h3v1h-3zM1490 103h1v3h-1zM1502 103h1v3h-1zM1461 105h1v3h-1zM1484 105h1v3h-1zM1465 108h3v1h-3zM1494 107h1v3h-1zM1441 109h3v3h-3zM1451 109h3v3h-3zM1459 109h3v3h-3zM1469 110h3v1h-3zM1479 110h3v1h-3zM1446 111h1v3h-1zM1485 111h3v3h-3zM1491 111h3v1h-3zM1497 111h3v1h-3zM1515 111h3v1h-3zM1445 113h3v1h-3zM1448 113h1v3h-1zM1461 114h3v1h-3zM1463 113h3v3h-3zM1468 113h1v3h-1zM1469 113h1v3h-1zM1471 113h3v3h-3zM1475 114h3v1h-3zM1493 113h1v3h-1zM1521 113h3v3h-3zM1438 115h1v3h-1zM1445 116h3v1h-3zM1455 115h3v3h-3zM1481 115h3v1h-3zM1487 115h3v3h-3zM1443 117h3v3h-3zM1459 117h3v1h-3zM1461 117h3v3h-3zM1463 117h3v3h-3zM1468 117h1v3h-1zM1476 117h1v3h-1zM1481 117h3v3h-3zM1485 117h3v3h-3zM1487 117h3v3h-3zM1506 117h1v3h-1zM1449 119h3v1h-3zM1453 119h3v3h-3zM1455 119h3v3h-3zM1469 120h3v1h-3zM1459 121h3v3h-3zM1465 121h1v3h-1zM1471 122h3v1h-3zM1474 121h1v3h-1zM1477 121h3v3h-3zM1481 121h3v3h-3zM1493 121h3v3h-3zM1495 122h3v1h-3zM1505 121h3v3h-3zM1512 121h1v3h-1zM1514 121h1v3h-1zM1461 123h1v3h-1zM1473 123h3v3h-3zM1475 123h3v3h-3zM1477 123h1v3h-1zM1482 123h1v3h-1zM1485 123h1v3h-1zM1521 123h3v1h-3zM1437 125h3v3h-3zM1455 125h1v3h-1zM1465 125h3v1h-3zM1469 125h3v3h-3zM1479 125h1v3h-1zM1481 125h3v3h-3zM1486 125h1v3h-1zM1487 125h1v3h-1zM1493 125h3v3h-3zM1501 125h3v3h-3zM1445 127h1v3h-1zM1451 127h3v1h-3zM1456 127h1v3h-1zM1469 127h1v3h-1zM1475 127h3v1h-3zM1477 127h3v3h-3zM1479 127h3v1h-3zM1481 127h1v3h-1zM1487 127h3v3h-3zM1517 127h3v3h-3zM1521 128h3v1h-3zM1433 129h3v3h-3zM1435 129h3v3h-3zM1475 129h3v3h-3zM1481 129h3v3h-3zM1503 129h3v3h-3zM1514 129h1v3h-1zM1445 131h3v3h-3zM1467 131h3v1h-3zM1474 131h1v3h-1zM1479 131h3v3h-3zM1487 131h1v3h-1zM1515 131h3v3h-3zM1440 133h1v3h-1zM1449 134h3v1h-3zM1451 133h3v3h-3zM1453 133h1v3h-1zM1465 133h3v1h-3zM1467 133h3v1h-3zM1487 133h3v3h-3zM1507 133h3v1h-3zM1513 133h1v3h-1zM1431 135h3v3h-3zM1449 135h3v3h-3zM1451 135h3v3h-3zM1463 135h3v3h-3zM1475 135h3v3h-3zM1491 135h3v3h-3zM1497 135h3v3h-3zM1501 136h3v1h-3zM1433 138h3v1h-3zM1443 138h3v1h-3zM1446 137h1v3h-1zM1447 137h3v1h-3zM1449 137h3v3h-3zM1457 138h3v1h-3zM1461 137h3v3h-3zM1465 137h1v3h-1zM1467 137h3v3h-3zM1484 137h1v3h-1zM1493 137h3v3h-3zM1498 137h1v3h-1zM1499 137h3v3h-3zM1501 137h3v1h-3zM1431 139h3v3h-3zM1445 139h3v3h-3zM1447 139h3v1h-3zM1479 139h3v3h-3zM1487 139h3v3h-3zM1497 139h1v3h-1zM1501 139h3v3h-3zM1503 139h3v3h-3zM1515 139h3v3h-3zM1451 141h3v3h-3zM1473 141h1v3h-1zM1475 141h3v3h-3zM1479 141h3v3h-3zM1485 141h3v3h-3zM1487 141h3v3h-3zM1495 141h3v3h-3zM1497 142h3v1h-3zM1505 141h3v3h-3zM1431 143h3v1h-3zM1447 143h3v3h-3zM1461 143h3v3h-3zM1467 143h3v3h-3zM1469 143h3v3h-3zM1473 144h3v1h-3zM1475 143h3v3h-3zM1489 143h3v3h-3zM1505 144h3v1h-3zM1539 143h1v3h-1zM1421 145h1v3h-1zM1429 145h1v3h-1zM1439 145h3v3h-3zM1445 145h3v1h-3zM1450 145h1v3h-1zM1461 145h1v3h-1zM1463 145h3v3h-3zM1475 145h3v1h-3zM1487 146h3v1h-3zM1491 145h1v3h-1zM1507 145h3v3h-3zM1517 145h3v1h-3zM1531 146h3v1h-3zM1445 147h3v1h-3zM1453 147h3v3h-3zM1458 147h1v3h-1zM1459 147h3v1h-3zM1477 147h3v3h-3zM1485 148h3v1h-3zM1506 147h1v3h-1zM1513 147h3v1h-3zM1523 147h3v1h-3zM1431 149h1v3h-1zM1439 149h3v3h-3zM1454 149h1v3h-1zM1455 149h1v3h-1zM1458 149h1v3h-1zM1463 149h3v3h-3zM1465 149h3v3h-3zM1483 149h1v3h-1zM1497 149h3v3h-3zM1527 149h3v3h-3zM1417 151h1v3h-1zM1433 151h3v3h-3zM1439 151h3v3h-3zM1445 151h3v3h-3zM1451 151h3v3h-3zM1481 151h3v1h-3zM1483 151h3v1h-3zM1487 152h3v1h-3zM1435 153h3v3h-3zM1443 153h3v3h-3zM1446 153h1v3h-1zM1447 153h3v3h-3zM1489 153h3v3h-3zM1429 155h3v1h-3zM1455 155h3v3h-3zM1488 155h1v3h-1zM1493 155h3v3h-3zM1503 155h3v3h-3zM1505 155h3v3h-3zM1445 157h3v3h-3zM1463 157h3v3h-3zM1469 157h3v1h-3zM1471 157h3v3h-3zM1479 157h3v3h-3zM1503 158h3v1h-3zM1505 158h3v1h-3zM1529 157h3v3h-3zM1443 159h3v3h-3zM1455 159h3v1h-3zM1461 159h3v1h-3zM1475 159h3v1h-3zM1479 159h3v3h-3zM1484 159h1v3h-1zM1491 159h3v3h-3zM1440 161h1v3h-1zM1453 161h1v3h-1zM1457 161h3v3h-3zM1461 162h3v1h-3zM1469 161h3v3h-3zM1475 161h1v3h-1zM1455 163h3v3h-3zM1458 163h1v3h-1zM1459 163h3v3h-3zM1471 163h1v3h-1zM1485 163h3v3h-3zM1487 163h3v3h-3zM1501 163h3v1h-3zM1415 165h3v3h-3zM1447 165h3v3h-3zM1453 165h3v3h-3zM1457 165h3v1h-3zM1459 165h3v3h-3zM1463 165h3v3h-3zM1481 166h3v1h-3zM1485 165h3v1h-3zM1417 167h3v3h-3zM1441 167h3v3h-3zM1443 167h3v1h-3zM1472 167h1v3h-1zM1473 167h3v3h-3zM1499 167h3v3h-3zM1459 170h3v1h-3zM1475 169h3v1h-3zM1479 169h3v3h-3zM1485 169h3v3h-3zM1445 171h3v3h-3zM1447 171h3v3h-3zM1455 172h3v1h-3zM1475 172h3v1h-3zM1489 171h3v3h-3zM1505 171h3v1h-3zM1457 173h3v3h-3zM1461 173h3v3h-3zM1465 173h3v3h-3zM1437 175h3v3h-3zM1447 175h3v3h-3zM1452 175h1v3h-1zM1457 175h3v3h-3zM1470 175h1v3h-1zM1479 175h3v3h-3zM1483 175h3v1h-3zM1496 175h1v3h-1zM1417 177h3v3h-3zM1425 177h3v3h-3zM1447 177h1v3h-1zM1452 177h1v3h-1zM1459 177h3v1h-3zM1469 177h3v3h-3zM1473 177h3v1h-3zM1489 177h3v1h-3zM1511 177h3v3h-3zM1441 180h3v1h-3zM1447 179h3v1h-3zM1483 180h3v1h-3zM1487 179h3v3h-3zM1437 181h3v3h-3zM1472 181h1v3h-1zM1475 181h3v3h-3zM1485 182h3v1h-3zM1447 183h3v3h-3zM1451 184h3v1h-3zM1453 183h3v3h-3zM1465 183h1v3h-1zM1479 183h3v1h-3zM1503 183h3v3h-3zM1473 185h3v3h-3zM1492 185h1v3h-1zM1395 187h3v3h-3zM1449 187h3v3h-3zM1460 187h1v3h-1zM1461 187h3v3h-3zM1465 187h3v3h-3zM1473 187h3v1h-3zM1445 189h3v1h-3zM1477 189h3v3h-3zM1481 189h3v3h-3zM1484 189h1v3h-1zM1495 189h3v3h-3zM1417 191h3v3h-3zM1435 191h3v3h-3zM1437 191h3v3h-3zM1445 191h3v3h-3zM1457 192h3v1h-3zM1463 192h3v1h-3zM1467 191h1v3h-1zM1471 191h1v3h-1zM1475 192h3v1h-3zM1427 193h1v3h-1zM1467 193h3v3h-3zM1483 193h3v3h-3zM1489 193h3v1h-3zM1405 195h1v3h-1zM1407 195h3v1h-3zM1415 195h3v3h-3zM1425 195h3v3h-3zM1429 195h3v3h-3zM1440 195h1v3h-1zM1447 196h3v1h-3zM1487 195h3v3h-3zM1377 198h3v1h-3zM1433 197h1v3h-1zM1453 197h3v3h-3zM1351 199h3v3h-3zM1355 199h3v3h-3zM1405 199h1v3h-1zM1441 199h3v3h-3zM1443 199h3v1h-3zM1445 199h3v3h-3zM1447 199h3v3h-3zM1453 199h3v1h-3zM1457 200h3v1h-3zM1463 200h3v1h-3zM1489 199h3v3h-3zM1427 202h3v1h-3zM1455 202h3v1h-3zM1462 201h1v3h-1zM1471 202h3v1h-3zM1487 201h3v3h-3zM1489 201h3v3h-3zM1307 203h1v3h-1zM1459 203h3v3h-3zM1481 203h3v3h-3zM1485 203h3v3h-3zM1393 205h3v1h-3zM1453 205h1v3h-1zM1485 205h3v1h-3zM1487 205h3v1h-3zM1505 205h3v3h-3zM1377 207h3v3h-3zM1388 207h1v3h-1zM1405 207h3v3h-3zM1423 207h3v1h-3zM1435 207h3v3h-3zM1455 207h1v3h-1zM1465 207h1v3h-1zM1467 207h3v3h-3zM1341 209h3v3h-3zM1353 209h3v3h-3zM1421 209h3v3h-3zM1440 209h1v3h-1zM1441 209h3v1h-3zM1447 209h3v3h-3zM1450 209h1v3h-1zM1469 209h3v1h-3zM1187 211h3v1h-3zM1325 211h1v3h-1zM1353 211h3v3h-3zM1363 211h3v1h-3zM1365 211h3v1h-3zM1387 211h3v3h-3zM1437 211h1v3h-1zM1439 211h3v3h-3zM1451 211h3v3h-3zM1465 212h3v1h-3zM1468 211h1v3h-1zM1481 211h3v3h-3zM1423 213h3v3h-3zM1439 213h1v3h-1zM1457 213h3v1h-3zM1470 213h1v3h-1zM1475 213h3v3h-3zM1405 216h3v1h-3zM1431 216h3v1h-3zM1451 215h3v3h-3zM1458 215h1v3h-1zM1461 215h3v3h-3zM1475 216h3v1h-3zM1477 215h3v3h-3zM1387 217h3v1h-3zM1389 217h3v3h-3zM1413 218h3v1h-3zM1427 217h3v3h-3zM1431 218h3v1h-3zM1433 217h3v1h-3zM1436 217h1v3h-1zM1439 218h3v1h-3zM1445 217h3v3h-3zM1467 217h3v3h-3zM1473 217h3v1h-3zM1299 219h3v3h-3zM1339 219h1v3h-1zM1359 219h3v3h-3zM1361 220h3v1h-3zM1383 219h3v3h-3zM1403 219h3v3h-3zM1421 219h3v3h-3zM1437 219h3v1h-3zM1449 220h3v1h-3zM1451 219h3v1h-3zM1457 220h3v1h-3zM1459 219h3v3h-3zM1464 219h1v3h-1zM1469 219h3v3h-3zM1471 219h3v3h-3zM1338 221h1v3h-1zM1353 221h1v3h-1zM1379 221h3v3h-3zM1401 221h3v3h-3zM1429 221h3v3h-3zM1451 222h3v1h-3zM1471 221h1v3h-1zM1475 221h1v3h-1zM1485 221h3v3h-3zM1491 221h3v3h-3zM1267 223h3v1h-3zM1407 223h1v3h-1zM1417 223h3v3h-3zM1447 223h3v3h-3zM1462 223h1v3h-1zM1472 223h1v3h-1zM1267 225h1v3h-1zM1321 226h3v1h-3zM1331 225h3v3h-3zM1337 226h3v1h-3zM1347 225h3v3h-3zM1361 225h3v1h-3zM1397 225h1v3h-1zM1427 225h3v3h-3zM1441 225h3v3h-3zM1295 227h3v3h-3zM1340 227h1v3h-1zM1351 227h3v3h-3zM1411 228h3v1h-3zM1457 227h3v3h-3zM1487 228h3v1h-3zM1489 227h3v3h-3zM1491 227h3v1h-3zM1505 227h3v3h-3zM1209 229h1v3h-1zM1335 229h3v3h-3zM1349 230h3v1h-3zM1353 230h3v1h-3zM1365 229h3v3h-3zM1379 229h3v1h-3zM1382 229h1v3h-1zM1441 229h3v3h-3zM1447 229h3v3h-3zM1489 229h3v1h-3zM1277 231h3v3h-3zM1323 231h3v3h-3zM1351 232h3v1h-3zM1360 231h1v3h-1zM1363 232h3v1h-3zM1367 231h3v3h-3zM1395 231h3v3h-3zM1415 231h1v3h-1zM1433 232h3v1h-3zM1447 231h3v3h-3zM1459 231h3v3h-3zM1241 233h3v3h-3zM1301 233h1v3h-1zM1341 233h3v1h-3zM1349 234h3v1h-3zM1359 233h3v3h-3zM1381 234h3v1h-3zM1397 233h3v3h-3zM1399 233h3v1h-3zM1417 233h3v3h-3zM1428 233h1v3h-1zM1443 233h3v3h-3zM1465 233h3v3h-3zM1267 235h3v3h-3zM1295 235h3v3h-3zM1340 235h1v3h-1zM1343 235h3v3h-3zM1349 235h3v3h-3zM1371 235h3v1h-3zM1377 235h3v3h-3zM1381 235h3v3h-3zM1389 235h3v3h-3zM1411 235h3v3h-3zM1437 235h3v3h-3zM1441 235h3v3h-3zM1451 235h3v1h-3zM1459 236h3v1h-3zM1463 235h1v3h-1zM1465 235h3v3h-3zM1475 235h1v3h-1zM1495 235h1v3h-1zM1313 237h1v3h-1zM1323 237h3v3h-3zM1327 237h1v3h-1zM1329 237h3v3h-3zM1333 237h1v3h-1zM1337 237h3v3h-3zM1375 237h3v3h-3zM1383 237h3v3h-3zM1387 238h3v1h-3zM1397 238h3v1h-3zM1407 237h1v3h-1zM1409 237h3v3h-3zM1417 237h3v1h-3zM1429 238h3v1h-3zM1453 237h3v1h-3zM1480 237h1v3h-1zM1287 239h1v3h-1zM1307 239h3v3h-3zM1325 239h3v3h-3zM1346 239h1v3h-1zM1353 240h3v1h-3zM1385 239h3v3h-3zM1395 239h3v1h-3zM1399 239h3v3h-3zM1431 240h3v1h-3zM1441 239h3v3h-3zM1455 239h1v3h-1zM1469 239h3v3h-3zM1495 239h3v3h-3zM1499 239h3v1h-3zM1281 241h3v3h-3zM1304 241h1v3h-1zM1305 241h3v3h-3zM1307 241h3v3h-3zM1323 241h3v3h-3zM1350 241h1v3h-1zM1367 241h3v3h-3zM1390 241h1v3h-1zM1411 242h3v1h-3zM1413 242h3v1h-3zM1427 241h3v3h-3zM1447 241h1v3h-1zM1449 241h3v3h-3zM1471 241h3v3h-3zM1231 243h3v3h-3zM1261 243h3v1h-3zM1271 243h3v3h-3zM1297 243h3v3h-3zM1301 243h3v1h-3zM1309 243h3v3h-3zM1319 243h3v1h-3zM1339 243h3v1h-3zM1341 244h3v1h-3zM1351 243h3v3h-3zM1361 243h3v3h-3zM1365 243h1v3h-1zM1369 243h3v1h-3zM1425 243h3v3h-3zM1431 244h3v1h-3zM1457 244h3v1h-3zM1479 243h3v3h-3zM1273 245h3v3h-3zM1283 245h3v3h-3zM1305 245h3v3h-3zM1307 245h3v3h-3zM1313 245h1v3h-1zM1320 245h1v3h-1zM1327 245h3v3h-3zM1329 246h3v1h-3zM1367 246h3v1h-3zM1371 246h3v1h-3zM1379 245h3v1h-3zM1381 245h3v1h-3zM1394 245h1v3h-1zM1403 245h1v3h-1zM1407 245h3v1h-3zM1413 245h3v1h-3zM1427 245h3v3h-3zM1201 247h3v3h-3zM1287 247h3v1h-3zM1293 247h3v3h-3zM1295 247h1v3h-1zM1297 247h3v3h-3zM1303 247h3v3h-3zM1337 247h3v3h-3zM1339 247h3v3h-3zM1351 247h3v3h-3zM1371 247h3v3h-3zM1379 247h3v3h-3zM1385 247h3v3h-3zM1387 247h3v3h-3zM1431 247h3v3h-3zM1437 247h3v1h-3zM1457 247h1v3h-1zM1200 249h1v3h-1zM1211 249h3v3h-3zM1272 249h1v3h-1zM1278 249h1v3h-1zM1294 249h1v3h-1zM1299 249h1v3h-1zM1309 249h3v3h-3zM1321 249h3v3h-3zM1329 249h3v3h-3zM1339 249h3v3h-3zM1365 250h3v1h-3zM1375 249h3v3h-3zM1377 250h3v1h-3zM1379 249h3v3h-3zM1381 249h1v3h-1zM1393 250h3v1h-3zM1395 249h3v3h-3zM1399 249h1v3h-1zM1439 249h3v3h-3zM1461 249h3v3h-3zM1481 250h3v1h-3zM1485 249h1v3h-1zM1241 251h1v3h-1zM1293 252h3v1h-3zM1295 251h3v3h-3zM1298 251h1v3h-1zM1313 251h3v1h-3zM1323 252h3v1h-3zM1333 251h1v3h-1zM1343 251h3v3h-3zM1357 251h1v3h-1zM1364 251h1v3h-1zM1371 251h3v1h-3zM1373 251h3v1h-3zM1375 251h3v3h-3zM1379 251h3v3h-3zM1387 252h3v1h-3zM1391 251h1v3h-1zM1407 251h3v3h-3zM1417 251h3v1h-3zM1419 251h3v3h-3zM1437 251h3v1h-3zM1465 251h3v1h-3zM1467 251h3v3h-3zM1493 251h1v3h-1zM1185 253h1v3h-1zM1267 253h3v3h-3zM1281 253h1v3h-1zM1285 253h3v3h-3zM1304 253h1v3h-1zM1311 254h3v1h-3zM1317 254h3v1h-3zM1321 253h1v3h-1zM1325 254h3v1h-3zM1327 253h3v3h-3zM1337 253h3v3h-3zM1347 253h3v3h-3zM1359 253h3v3h-3zM1369 254h3v1h-3zM1373 253h3v3h-3zM1377 254h3v1h-3zM1425 253h1v3h-1zM1427 254h3v1h-3zM1449 253h3v3h-3zM1455 253h1v3h-1zM1469 253h3v1h-3zM1471 253h3v3h-3zM1231 255h3v3h-3zM1241 255h3v3h-3zM1265 255h3v1h-3zM1269 255h3v3h-3zM1277 256h3v1h-3zM1285 255h3v3h-3zM1301 255h1v3h-1zM1303 255h3v3h-3zM1315 256h3v1h-3zM1321 255h3v3h-3zM1333 255h3v3h-3zM1341 255h3v3h-3zM1343 255h3v3h-3zM1349 255h3v1h-3zM1355 255h1v3h-1zM1373 255h3v1h-3zM1395 256h3v1h-3zM1397 256h3v1h-3zM1407 255h3v3h-3zM1419 255h3v3h-3zM1421 255h3v3h-3zM1439 255h1v3h-1zM1457 255h3v3h-3zM1211 257h3v3h-3zM1281 257h3v3h-3zM1287 257h3v3h-3zM1295 258h3v1h-3zM1300 257h1v3h-1zM1304 257h1v3h-1zM1310 257h1v3h-1zM1343 257h3v3h-3zM1365 258h3v1h-3zM1367 257h3v3h-3zM1369 257h3v1h-3zM1385 257h3v3h-3zM1419 257h3v1h-3zM1433 258h3v1h-3zM1455 257h3v3h-3zM1233 259h3v1h-3zM1269 259h3v3h-3zM1273 260h3v1h-3zM1281 259h3v3h-3zM1283 260h3v1h-3zM1309 259h3v3h-3zM1329 259h1v3h-1zM1351 260h3v1h-3zM1359 259h3v1h-3zM1373 259h3v3h-3zM1393 259h3v1h-3zM1399 259h3v3h-3zM1413 260h3v1h-3zM1444 259h1v3h-1zM1461 260h3v1h-3zM1263 261h3v3h-3zM1269 261h3v1h-3zM1275 261h3v3h-3zM1283 261h3v3h-3zM1287 261h3v3h-3zM1305 261h3v3h-3zM1307 262h3v1h-3zM1335 261h3v3h-3zM1353 261h3v3h-3zM1359 261h3v3h-3zM1383 262h3v1h-3zM1399 261h3v3h-3zM1401 262h3v1h-3zM1433 262h3v1h-3zM1439 261h3v3h-3zM1441 262h3v1h-3zM1443 261h3v3h-3zM1449 261h3v3h-3zM1455 261h3v3h-3zM1466 261h1v3h-1zM1227 263h1v3h-1zM1243 263h3v3h-3zM1255 263h3v3h-3zM1265 264h3v1h-3zM1275 264h3v1h-3zM1277 263h1v3h-1zM1296 263h1v3h-1zM1297 263h3v1h-3zM1357 263h3v3h-3zM1365 263h3v1h-3zM1373 263h1v3h-1zM1376 263h1v3h-1zM1379 263h3v3h-3zM1385 263h1v3h-1zM1393 263h3v3h-3zM1411 263h3v1h-3zM1434 263h1v3h-1zM1441 263h3v1h-3zM1444 263h1v3h-1zM1445 263h3v1h-3zM1447 263h3v1h-3zM1451 263h3v3h-3zM1455 263h3v3h-3zM1457 263h3v3h-3zM1480 263h1v3h-1zM1495 263h3v3h-3zM1235 265h3v3h-3zM1247 265h3v3h-3zM1257 265h3v3h-3zM1259 265h3v3h-3zM1273 265h3v1h-3zM1279 265h3v1h-3zM1285 265h3v3h-3zM1290 265h1v3h-1zM1335 265h3v3h-3zM1349 265h3v3h-3zM1355 265h3v3h-3zM1393 265h3v3h-3zM1395 265h3v3h-3zM1455 265h3v3h-3zM1467 265h3v3h-3zM1475 266h3v1h-3zM1493 265h3v1h-3zM1239 267h3v3h-3zM1243 267h3v3h-3zM1281 267h1v3h-1zM1291 267h3v3h-3zM1337 267h3v3h-3zM1383 267h3v3h-3zM1385 268h3v1h-3zM1417 267h3v3h-3zM1423 267h3v3h-3zM1425 267h3v3h-3zM1427 267h3v3h-3zM1449 267h3v3h-3zM1461 268h3v1h-3zM1203 269h3v1h-3zM1205 269h3v3h-3zM1227 269h3v1h-3zM1230 269h1v3h-1zM1237 269h3v3h-3zM1243 269h3v1h-3zM1254 269h1v3h-1zM1259 270h3v1h-3zM1271 270h3v1h-3zM1313 269h3v3h-3zM1361 269h1v3h-1zM1363 269h3v3h-3zM1365 269h3v3h-3zM1371 269h3v3h-3zM1379 269h3v3h-3zM1395 269h1v3h-1zM1399 269h3v3h-3zM1403 270h3v1h-3zM1415 269h3v1h-3zM1429 269h3v3h-3zM1431 269h3v3h-3zM1433 270h3v1h-3zM1459 270h3v1h-3zM1473 269h3v3h-3zM1170 271h1v3h-1zM1211 271h3v3h-3zM1247 271h3v3h-3zM1253 271h3v3h-3zM1257 271h3v1h-3zM1271 271h3v3h-3zM1273 272h3v1h-3zM1291 271h1v3h-1zM1363 272h3v1h-3zM1373 271h3v3h-3zM1379 271h3v3h-3zM1383 271h3v3h-3zM1385 272h3v1h-3zM1391 271h3v3h-3zM1423 271h3v3h-3zM1438 271h1v3h-1zM1477 272h3v1h-3zM1191 273h3v1h-3zM1217 274h3v1h-3zM1241 273h1v3h-1zM1251 273h3v1h-3zM1268 273h1v3h-1zM1347 273h3v3h-3zM1357 273h1v3h-1zM1359 273h3v3h-3zM1367 273h1v3h-1zM1371 273h3v3h-3zM1385 273h3v3h-3zM1387 273h3v1h-3zM1399 273h3v3h-3zM1403 273h3v3h-3zM1409 274h3v1h-3zM1443 273h3v3h-3zM1229 275h1v3h-1zM1249 275h3v3h-3zM1253 275h3v3h-3zM1255 275h3v3h-3zM1258 275h1v3h-1zM1345 275h3v3h-3zM1353 275h3v3h-3zM1356 275h1v3h-1zM1377 275h3v1h-3zM1379 275h3v3h-3zM1395 276h3v1h-3zM1410 275h1v3h-1zM1423 275h1v3h-1zM1441 276h3v1h-3zM1443 275h3v3h-3zM1461 275h3v3h-3zM1467 275h1v3h-1zM1201 277h3v3h-3zM1237 277h3v1h-3zM1243 277h3v3h-3zM1251 277h1v3h-1zM1259 277h1v3h-1zM1295 277h3v3h-3zM1325 277h3v3h-3zM1341 277h3v3h-3zM1351 277h1v3h-1zM1353 277h3v3h-3zM1359 277h3v1h-3zM1367 277h3v3h-3zM1381 277h3v3h-3zM1383 277h3v1h-3zM1395 277h3v3h-3zM1400 277h1v3h-1zM1411 277h1v3h-1zM1417 277h3v3h-3zM1425 277h1v3h-1zM1429 277h3v3h-3zM1431 277h3v1h-3zM1441 277h3v3h-3zM1443 277h3v3h-3zM1453 277h3v3h-3zM1455 277h3v1h-3zM1467 277h3v3h-3zM1469 277h1v3h-1zM1481 277h3v3h-3zM1205 280h3v1h-3zM1217 280h3v1h-3zM1233 280h3v1h-3zM1238 279h1v3h-1zM1245 279h3v3h-3zM1249 280h3v1h-3zM1265 280h3v1h-3zM1281 279h3v3h-3zM1335 279h3v3h-3zM1384 279h1v3h-1zM1393 279h1v3h-1zM1395 279h3v3h-3zM1413 279h1v3h-1zM1429 279h3v3h-3zM1447 279h1v3h-1zM1483 279h3v3h-3zM1221 281h3v3h-3zM1225 281h3v3h-3zM1237 282h3v1h-3zM1249 281h3v3h-3zM1255 281h3v3h-3zM1261 281h3v3h-3zM1295 281h3v3h-3zM1341 281h3v3h-3zM1377 282h3v1h-3zM1379 282h3v1h-3zM1435 282h3v1h-3zM1171 283h3v3h-3zM1215 283h3v3h-3zM1238 283h1v3h-1zM1241 283h1v3h-1zM1245 283h3v3h-3zM1251 283h1v3h-1zM1261 284h3v1h-3zM1287 283h1v3h-1zM1359 283h3v3h-3zM1405 283h3v3h-3zM1425 283h3v1h-3zM1428 283h1v3h-1zM1445 284h3v1h-3zM1449 283h3v3h-3zM1467 283h3v3h-3zM1469 283h1v3h-1zM1475 283h3v3h-3zM1197 285h3v3h-3zM1201 285h3v3h-3zM1211 285h3v3h-3zM1215 285h3v3h-3zM1223 285h3v1h-3zM1253 285h3v3h-3zM1340 285h1v3h-1zM1347 285h3v1h-3zM1353 285h3v3h-3zM1357 285h3v3h-3zM1359 285h3v3h-3zM1363 285h1v3h-1zM1369 285h3v3h-3zM1380 285h1v3h-1zM1388 285h1v3h-1zM1419 285h3v3h-3zM1425 285h3v3h-3zM1453 285h3v3h-3zM1465 285h1v3h-1zM1501 285h3v3h-3zM1171 287h3v3h-3zM1203 287h3v3h-3zM1231 287h3v3h-3zM1237 287h3v3h-3zM1239 287h1v3h-1zM1243 287h1v3h-1zM1253 287h3v3h-3zM1277 287h3v3h-3zM1333 287h3v3h-3zM1341 287h3v3h-3zM1353 287h3v3h-3zM1361 287h3v3h-3zM1363 287h3v3h-3zM1385 287h3v3h-3zM1391 287h3v1h-3zM1405 287h3v3h-3zM1441 287h3v3h-3zM1445 287h3v3h-3zM1191 289h3v3h-3zM1223 289h3v3h-3zM1231 290h3v1h-3zM1247 289h3v1h-3zM1251 289h3v1h-3zM1295 289h3v3h-3zM1329 289h3v3h-3zM1333 289h3v3h-3zM1346 289h1v3h-1zM1349 290h3v1h-3zM1351 289h1v3h-1zM1359 290h3v1h-3zM1400 289h1v3h-1zM1408 289h1v3h-1zM1209 291h1v3h-1zM1215 292h3v1h-3zM1233 291h3v3h-3zM1235 291h3v3h-3zM1244 291h1v3h-1zM1285 291h3v1h-3zM1345 291h3v3h-3zM1351 291h1v3h-1zM1365 291h3v3h-3zM1439 291h3v3h-3zM1443 292h3v1h-3zM1207 293h3v3h-3zM1209 294h3v1h-3zM1216 293h1v3h-1zM1225 294h3v1h-3zM1229 293h1v3h-1zM1231 293h3v3h-3zM1239 293h3v3h-3zM1251 293h1v3h-1zM1331 293h3v3h-3zM1337 293h3v3h-3zM1341 293h3v3h-3zM1343 293h3v1h-3zM1355 293h3v1h-3zM1361 293h3v3h-3zM1391 293h3v3h-3zM1405 294h3v1h-3zM1425 293h3v1h-3zM1441 293h1v3h-1zM1181 295h3v3h-3zM1191 295h3v1h-3zM1199 295h3v3h-3zM1205 295h3v1h-3zM1213 295h3v1h-3zM1225 296h3v1h-3zM1236 295h1v3h-1zM1237 295h3v3h-3zM1245 296h3v1h-3zM1321 296h3v1h-3zM1323 295h3v3h-3zM1341 295h3v1h-3zM1383 296h3v1h-3zM1397 295h3v3h-3zM1407 295h3v3h-3zM1450 295h1v3h-1zM1457 295h1v3h-1zM1165 297h3v3h-3zM1211 297h3v3h-3zM1235 297h3v3h-3zM1239 297h3v3h-3zM1247 297h3v3h-3zM1257 297h3v3h-3zM1267 298h3v1h-3zM1321 297h3v3h-3zM1330 297h1v3h-1zM1331 297h3v3h-3zM1333 298h3v1h-3zM1343 298h3v1h-3zM1363 297h3v3h-3zM1369 297h3v3h-3zM1381 297h3v3h-3zM1403 297h3v1h-3zM1415 298h3v1h-3zM1425 297h3v1h-3zM1453 298h3v1h-3zM1478 297h1v3h-1zM1209 299h3v3h-3zM1213 299h3v3h-3zM1217 299h3v3h-3zM1223 299h3v3h-3zM1239 299h3v3h-3zM1241 299h3v3h-3zM1243 299h3v1h-3zM1251 299h3v3h-3zM1275 299h3v1h-3zM1281 299h3v3h-3zM1289 299h3v3h-3zM1305 299h3v1h-3zM1311 299h3v3h-3zM1319 299h3v3h-3zM1323 299h1v3h-1zM1330 299h1v3h-1zM1337 299h1v3h-1zM1353 299h1v3h-1zM1368 299h1v3h-1zM1377 299h3v3h-3zM1425 300h3v1h-3zM1445 299h3v3h-3zM1459 300h3v1h-3zM1463 299h3v3h-3zM1209 301h3v3h-3zM1213 302h3v1h-3zM1215 301h3v3h-3zM1223 302h3v1h-3zM1225 301h3v1h-3zM1227 301h3v1h-3zM1229 302h3v1h-3zM1243 302h3v1h-3zM1253 301h3v3h-3zM1261 302h3v1h-3zM1265 301h3v3h-3zM1301 301h3v1h-3zM1305 301h1v3h-1zM1323 301h3v3h-3zM1336 301h1v3h-1zM1353 301h3v3h-3zM1357 301h1v3h-1zM1399 301h3v3h-3zM1489 301h3v1h-3zM1149 303h3v3h-3zM1195 303h3v3h-3zM1205 303h3v3h-3zM1211 303h1v3h-1zM1227 303h3v3h-3zM1233 303h3v1h-3zM1247 304h3v1h-3zM1259 303h3v1h-3zM1261 303h3v3h-3zM1303 303h3v3h-3zM1319 303h3v3h-3zM1323 303h1v3h-1zM1331 303h3v3h-3zM1341 303h3v3h-3zM1348 303h1v3h-1zM1422 303h1v3h-1zM1199 305h3v1h-3zM1213 305h3v3h-3zM1219 306h3v1h-3zM1235 305h3v3h-3zM1237 305h3v1h-3zM1244 305h1v3h-1zM1255 305h3v3h-3zM1273 305h3v3h-3zM1313 305h3v3h-3zM1327 306h3v1h-3zM1341 305h3v3h-3zM1345 306h3v1h-3zM1365 305h1v3h-1zM1373 305h3v3h-3zM1403 305h3v3h-3zM1195 307h3v3h-3zM1200 307h1v3h-1zM1205 307h3v3h-3zM1211 307h3v1h-3zM1217 307h3v1h-3zM1227 307h3v3h-3zM1229 307h1v3h-1zM1240 307h1v3h-1zM1241 308h3v1h-3zM1247 307h3v3h-3zM1255 307h3v3h-3zM1261 307h3v3h-3zM1275 308h3v1h-3zM1277 307h3v3h-3zM1279 307h3v3h-3zM1281 307h3v3h-3zM1301 307h3v3h-3zM1325 307h3v3h-3zM1337 307h3v3h-3zM1351 307h3v3h-3zM1367 307h3v3h-3zM1405 307h3v3h-3zM1411 307h3v3h-3zM1499 307h3v3h-3zM1189 310h3v1h-3zM1193 309h3v3h-3zM1196 309h1v3h-1zM1221 309h3v1h-3zM1223 309h3v1h-3zM1227 309h1v3h-1zM1235 309h3v3h-3zM1240 309h1v3h-1zM1241 309h3v3h-3zM1249 310h3v1h-3zM1260 309h1v3h-1zM1267 309h3v3h-3zM1275 310h3v1h-3zM1289 309h3v3h-3zM1295 309h1v3h-1zM1299 309h3v3h-3zM1303 309h1v3h-1zM1307 309h3v3h-3zM1309 309h1v3h-1zM1313 309h3v1h-3zM1360 309h1v3h-1zM1437 309h3v3h-3zM1443 309h3v3h-3zM1447 309h3v3h-3zM1449 309h3v3h-3zM1461 309h3v1h-3zM1495 309h3v1h-3zM1206 311h1v3h-1zM1219 311h3v3h-3zM1221 311h1v3h-1zM1235 311h1v3h-1zM1241 311h3v1h-3zM1247 311h3v3h-3zM1251 311h3v3h-3zM1253 311h3v3h-3zM1259 311h3v3h-3zM1261 311h1v3h-1zM1267 311h3v3h-3zM1285 311h3v3h-3zM1287 311h1v3h-1zM1301 311h3v3h-3zM1363 312h3v1h-3zM1377 311h1v3h-1zM1417 311h3v3h-3zM1185 313h3v3h-3zM1245 313h1v3h-1zM1247 313h3v3h-3zM1251 313h1v3h-1zM1261 313h1v3h-1zM1268 313h1v3h-1zM1277 313h3v3h-3zM1291 313h1v3h-1zM1295 313h3v3h-3zM1301 313h3v3h-3zM1305 313h3v1h-3zM1307 313h3v3h-3zM1315 313h3v3h-3zM1317 313h3v3h-3zM1389 313h3v3h-3zM1441 313h3v3h-3zM1163 315h3v3h-3zM1206 315h1v3h-1zM1219 315h3v3h-3zM1239 315h3v3h-3zM1242 315h1v3h-1zM1247 315h1v3h-1zM1268 315h1v3h-1zM1269 315h1v3h-1zM1275 315h3v3h-3zM1283 315h3v3h-3zM1288 315h1v3h-1zM1299 315h3v3h-3zM1313 315h3v3h-3zM1326 315h1v3h-1zM1331 316h3v1h-3zM1345 316h3v1h-3zM1423 315h3v3h-3zM1475 315h3v3h-3zM1209 317h3v3h-3zM1247 317h3v3h-3zM1263 317h3v3h-3zM1273 318h3v1h-3zM1289 317h3v1h-3zM1291 317h3v1h-3zM1294 317h1v3h-1zM1313 317h3v3h-3zM1337 317h3v1h-3zM1397 317h3v3h-3zM1229 319h3v3h-3zM1233 319h1v3h-1zM1243 319h3v3h-3zM1245 320h3v1h-3zM1253 319h3v3h-3zM1263 319h3v3h-3zM1277 319h3v3h-3zM1291 319h3v1h-3zM1309 319h3v1h-3zM1313 319h3v1h-3zM1343 319h3v3h-3zM1489 319h3v3h-3zM1219 321h3v3h-3zM1257 321h3v3h-3zM1269 321h3v3h-3zM1279 322h3v1h-3zM1308 321h1v3h-1zM1335 322h3v1h-3zM1217 323h3v3h-3zM1223 324h3v1h-3zM1233 323h3v3h-3zM1241 323h3v3h-3zM1245 323h1v3h-1zM1257 323h3v1h-3zM1264 323h1v3h-1zM1267 324h3v1h-3zM1269 323h3v1h-3zM1281 323h3v1h-3zM1300 323h1v3h-1zM1319 323h3v3h-3zM1371 323h3v3h-3zM1433 323h3v1h-3zM1437 323h3v3h-3zM1444 323h1v3h-1zM1452 323h1v3h-1zM1215 325h3v3h-3zM1233 325h3v3h-3zM1237 325h1v3h-1zM1243 325h3v3h-3zM1277 326h3v1h-3zM1280 325h1v3h-1zM1283 325h3v3h-3zM1309 325h3v3h-3zM1215 327h3v3h-3zM1305 327h3v1h-3zM1367 327h3v3h-3zM1383 327h3v3h-3zM1397 328h3v1h-3zM1183 329h3v3h-3zM1233 330h3v1h-3zM1247 329h3v3h-3zM1257 329h1v3h-1zM1307 329h3v3h-3zM1237 331h3v3h-3zM1241 331h3v1h-3zM1255 331h3v1h-3zM1259 331h1v3h-1zM1281 331h1v3h-1zM1283 332h3v1h-3zM1333 331h3v3h-3zM1343 331h3v3h-3zM1393 331h3v3h-3zM1181 333h1v3h-1zM1213 333h3v3h-3zM1235 333h3v3h-3zM1239 333h3v3h-3zM1253 333h3v3h-3zM1261 333h3v3h-3zM1179 335h3v3h-3zM1207 335h3v3h-3zM1291 335h3v1h-3zM1319 335h1v3h-1zM1436 335h1v3h-1zM1217 337h3v3h-3zM1257 337h1v3h-1zM1271 337h3v1h-3zM1435 337h3v3h-3zM1251 339h1v3h-1zM1257 339h3v3h-3zM1227 343h3v1h-3zM1271 343h3v3h-3zM1445 344h3v1h-3zM1177 346h3v1h-3zM1210 345h1v3h-1zM1491 345h1v3h-1zM1213 347h3v3h-3zM1237 348h3v1h-3zM1421 347h1v3h-1zM1200 349h1v3h-1zM1167 353h3v3h-3zM1233 354h3v1h-3zM1225 355h3v3h-3zM1245 355h3v3h-3zM1283 357h3v1h-3zM1197 359h3v3h-3zM1219 361h3v3h-3zM1259 365h3v3h-3zM1369 365h3v1h-3zM1324 367h1v3h-1zM1319 369h3v3h-3zM1277 374h3v1h-3zM1243 375h3v3h-3zM1303 375h3v1h-3zM1297 401h3v3h-3z" fill="#24419c"/>
<path d="M1459.0 112.0h2m10 6h2m22 0h2m-24 10h2m12 2h2m-30 2h2m10 0h2m8 0h4m4 0h2m-44 2h2m30 0h2m-44 2h2m32 2h2m2 0h2m-16 2h2m30 0h2m-10 4h2m-20 2h2m20 0h2m-16 2h2m6 0h2m2 0h2m-4 2h4m-20 6h2m-8 26h2m-10 6h2m6 8h2m18 10h2m-40 20h2m2 2h2m2 8h2m-118 4h2m12 0h2m8 2h2m-28 2h2m6 0h2m-68 4h2m66 0h2m26 0h2m6 0h2m-58 2h2m4 0h2m8 0h2m104 0h2m-138 2h2m14 0h2m-10 2h2m12 0h2m8 0h2m-66 2h2m36 0h2m6 0h4m16 0h2m14 0h2m-74 2h2m2 0h2m26 0h2m2 0h2m6 0h2m12 0h2m26 0h2m-114 2h2m82 0h2m32 0h2m-110 2h2m14 0h2m38 0h2m10 0h2m2 0h2m18 0h2m-84 2h2m8 0h2m24 0h2m2 0h2m26 0h2m28 0h2m-84 2h2m2 0h2m20 0h2m2 0h2m110 0h2m-166 2h2m30 0h2m40 0h2m2 0h2m18 0h2m12 0h2m-38 2h2m-74 2h4m64 0h2m-106 2h2m10 0h2m68 0h2m4 0h2m78 0h2m16 0h2m-110 2h2m-64 2h2m4 0h2m30 0h2m4 0h2m36 0h2m-90 2h2m48 0h2m30 0h2m14 0h2m10 0h2m-128 2h4m50 0h2m42 0h2m12 0h2m12 0h2m-124 2h2m64 0h2m6 0h2m2 0h2m14 0h2m32 0h2m-108 2h2m6 0h2m12 0h2m10 0h4m32 0h4m-88 2h2m2 0h2m12 0h2m10 0h2m40 0h2m14 0h2m2 0h6m-104 2h2m0 2h2m12 0h2m16 0h2m34 0h2m6 0h2m2 0h2m4 0h2m26 0h2m16 0h2m-146 2h2m10 0h2m46 0h2m6 0h2m18 0h2m-78 2h2m4 0h2m2 0h2m-32 2h2m2 0h2m4 0h2m2 0h2m6 0h2m2 0h2m70 0h2m12 0h2m-116 2h2m10 0h2m6 0h2m8 0h4m38 0h2m-68 2h2m8 0h2m38 0h2m8 0h2m14 0h2m-60 2h2m4 0h2m6 0h2m8 0h2m10 0h2m18 0h4m16 0h2m10 0h2m-114 2h2m36 0h2m6 0h2m10 0h2m20 0h2m-86 2h2m12 0h2m66 0h2m-62 2h2m20 0h2m-30 2h2m32 0h2m2 0h2m32 0h2m-62 2h2m20 0h2m-2 2h2m-38 4h2m16 4h2" stroke="#6bc7b5" stroke-width="2" fill="none"/>
<path d="M1451.0 120.0h2m26 2h2m-22 6h2m24 0h2m8 0h2m-36 2h2m-2 2h2m12 0h2m2 4h2m6 0h2m-26 2h2m16 0h2m-30 2h2m2 0h2m6 0h4m-14 2h2m24 2h2m-14 2h2m-10 2h2m4 0h2m-32 10h2m10 12h2m16 0h2m-26 18h2m8 24h2m-92 4h2m6 26h2m74 4h2m-42 2h2m-100 4h2m18 0h2m8 0h2m18 0h2m38 0h2m-94 2h2m6 0h2m22 0h2m8 0h2m-28 2h2m4 0h4m2 0h2m22 0h2m6 0h4m-58 2h2m12 0h2m2 0h2m2 0h4m6 0h2m6 0h2m6 0h2m8 0h2m-80 2h4m2 0h2m2 0h2m6 0h2m12 0h4m2 0h6m2 0h4m2 0h2m2 0h2m4 0h2m6 0h2m12 0h2m-86 2h2m2 0h2m18 0h2m4 0h2m2 0h2m10 0h2m8 0h4m8 0h2m6 0h2m-84 2h4m10 0h6m4 0h2m2 0h4m6 0h4m2 0h2m2 0h2m10 0h2m6 0h2m2 0h4m-86 2h2m2 0h4m8 0h4m4 0h2m6 0h2m2 0h6m22 0h4m2 0h2m2 0h4m6 0h2m2 0h2m-92 2h2m8 0h4m10 0h8m6 0h6m8 0h4m8 0h2m2 0h8m2 0h2m12 0h2m2 0h2m-118 2h2m16 0h2m2 0h2m2 0h2m4 0h2m2 0h4m2 0h4m8 0h2m6 0h2m4 0h2m4 0h2m4 0h2m2 0h2m4 0h6m8 0h2m6 0h2m4 0h2m-108 2h4m4 0h6m4 0h4m12 0h4m4 0h2m2 0h4m6 0h4m2 0h8m16 0h4m4 0h2m-86 2h2m6 0h2m10 0h4m4 0h4m2 0h4m2 0h2m6 0h2m8 0h6m4 0h2m2 0h2m4 0h2m4 0h4m-106 2h2m2 0h2m2 0h2m6 0h2m2 0h4m4 0h2m10 0h2m24 0h2m2 0h2m6 0h4m2 0h2m2 0h6m4 0h4m2 0h2m2 0h6m-100 2h12m2 0h2m4 0h2m22 0h2m8 0h4m2 0h2m2 0h2m6 0h2m14 0h2m8 0h2m-130 2h2m6 0h2m4 0h2m2 0h4m12 0h4m6 0h2m4 0h4m14 0h2m4 0h2m4 0h2m22 0h6m-106 2h2m2 0h2m4 0h4m2 0h2m2 0h4m2 0h4m4 0h2m4 0h6m16 0h2m12 0h2m4 0h2m2 0h4m2 0h2m2 0h2m4 0h2m-102 2h2m6 0h2m4 0h2m4 0h2m2 0h2m20 0h2m16 0h4m2 0h2m2 0h4m4 0h4m4 0h2m2 0h2m4 0h2m-94 2h2m2 0h2m4 0h2m6 0h2m12 0h2m2 0h2m16 0h2m6 0h6m4 0h6m6 0h4m-84 2h4m2 0h2m2 0h2m6 0h2m4 0h4m8 0h2m2 0h2m4 0h2m6 0h8m14 0h2m-98 2h2m6 0h2m4 0h6m6 0h4m4 0h2m16 0h2m4 0h2m10 0h8m6 0h4m-100 2h2m14 0h2m4 0h2m10 0h2m8 0h4m16 0h2m8 0h2m2 0h2m8 0h2m6 0h2m2 0h2m8 0h2m12 0h2m-112 2h2m4 0h2m2 0h2m6 0h2m4 0h4m2 0h2m2 0h2m2 0h2m2 0h4m8 0h2m2 0h2m6 0h2m2 0h2m2 0h2m2 0h2m10 0h2m-102 2h2m20 0h2m2 0h2m4 0h2m2 0h6m8 0h4m4 0h4m8 0h4m4 0h4m2 0h4m4 0h6m8 0h2m2 0h2m-112 2h2m24 0h6m6 0h2m6 0h2m6 0h4m6 0h4m4 0h2m4 0h4m4 0h2m2 0h2m-76 2h2m8 0h12m2 0h2m2 0h2m4 0h4m8 0h2m2 0h2m2 0h2m2 0h4m4 0h4m8 0h2m-94 2h2m2 0h2m18 0h2m2 0h2m4 0h6m2 0h4m12 0h2m2 0h4m10 0h2m2 0h2m-94 2h2m26 0h4m12 0h2m2 0h2m2 0h2m6 0h2m2 0h6m4 0h2m22 0h2m-74 2h2m10 0h2m2 0h2m2 0h2m4 0h6m4 0h2m6 0h2m4 0h2m8 0h4m-70 2h2m4 0h2m2 0h2m10 0h2m2 0h6m10 0h2m4 0h2m6 0h2m8 0h2m10 0h2m-106 2h2m42 0h2m16 0h2m6 0h2m8 0h2m-54 2h2m18 0h2m6 0h2m38 0h2m-60 2h2m16 0h4m10 0h2m-40 2h2m22 0h2m16 0h2m-60 2h2m22 0h2" stroke="#6cbd46" stroke-width="2" fill="none"/>
<path d="M1301.0 258.0h2m10 2h6m0 2h2m26 0h2m18 0h2m-60 2h2m-20 2h2m40 2h2m-40 2h2m4 0h2m4 0h2m6 0h2m10 0h2m-12 2h2m28 0h2m-84 2h2m12 0h2m8 0h2m32 0h2m6 0h2m18 0h4m14 0h2m-82 2h2m2 0h2m6 0h6m-38 2h4m18 0h2m28 0h2m16 0h2m-88 2h2m14 0h2m30 0h2m18 0h2m34 0h2m-76 2h2m34 0h2m-42 2h2m18 0h2m10 0h2m-62 2h2m24 0h2m26 0h2m18 0h2m-54 2h2m16 0h2m6 0h2m2 0h2m6 0h2m-42 2h2m10 0h2m46 0h2m4 0h2m-86 2h2m2 0h2m30 0h2m4 0h2m16 0h2m4 0h2m-30 2h4m-18 2h2m28 0h2m-40 2h2m2 0h4m8 0h2m4 0h6m-26 2h2m6 0h2m28 2h2m-34 2h4m18 0h2" stroke="#a9cf3a" stroke-width="2" fill="none"/>
<path d="M1331.0 262.0h2m-26 2h2m24 0h2m8 0h2m-38 2h2m30 0h2m0 2h2m-12 2h2m-40 2h2m10 0h2m30 0h4m-48 2h2m24 0h2m-52 2h2m2 0h2m8 0h2m10 0h2m14 0h4m6 0h2m4 0h2m-44 2h2m2 0h2m6 0h2m2 0h2m20 0h2m-58 2h2m4 0h2m14 0h2m40 0h2m-68 2h2m4 0h2m4 0h4m4 0h2m18 0h2m-36 2h2m12 0h2m10 0h2m-36 2h2m4 0h4m24 0h2m-50 2h2m24 0h2m12 0h2m2 0h4m8 0h2m2 0h2m18 0h2m4 0h2m-76 2h2m2 0h2m10 0h2m2 0h2m6 0h2m18 0h2m-42 2h2m10 0h2m8 0h2m28 0h2m-64 2h2m46 0h2m2 0h2m2 0h2m-66 2h2m46 0h2m8 0h2m22 0h2m-80 2h2m24 0h2m26 0h2m-58 2h2m32 0h2m2 0h2m-26 2h2m14 0h4m-6 2h2" stroke="#f7e219" stroke-width="2" fill="none"/>
<path d="M1309.0 262.0h2m14 0h2m-14 2h2m-4 2h2m6 0h2m16 0h2m-50 2h2m2 0h2m12 0h2m14 0h2m-36 2h2m8 2h2m6 0h2m10 0h2m6 0h2m12 0h4m-16 2h2m-46 2h2m10 0h2m8 0h2m10 0h2m12 0h2m6 0h2m-24 2h2m-38 2h4m10 0h2m4 0h2m2 0h2m6 0h2m2 0h2m6 0h2m4 0h2m6 0h4m-46 2h2m20 0h2m8 0h2m-58 2h4m4 0h2m4 0h2m10 0h2m2 0h2m28 0h2m-30 2h2m4 0h2m2 0h2m-54 2h2m-14 2h2m8 0h2m20 0h2m18 0h2m-24 2h2m24 0h2m-36 2h2m12 0h2m14 0h2m-44 2h2m16 0h2m12 0h2m-32 2h2m36 0h2m-4 2h2m-14 2h2m-8 6h2" stroke="#f58b22" stroke-width="2" fill="none"/>
<path d="M1339.0 264.0h2m-20 2h2m4 0h2m-32 2h2m20 0h2m10 0h2m-28 2h2m12 0h2m16 0h2m-42 2h2m12 0h2m8 0h2m-40 2h2m6 0h2m2 0h2m6 0h2m4 0h2m10 0h2m18 0h4m-54 2h2m22 0h2m18 0h2m-34 2h2m2 0h10m14 0h2m-42 2h2m6 0h2m8 0h2m2 0h2m10 0h2m-26 2h4m2 0h2m2 0h8m6 0h2m-60 2h2m12 0h2m8 0h4m8 0h2m2 0h2m18 0h2m-50 2h8m4 0h2m2 0h2m12 0h2m4 0h2m-60 2h2m24 0h2m28 0h2m10 0h2m-48 2h2m6 0h2m2 0h2m4 0h2m2 0h4m2 0h2m-44 2h4m2 0h2m14 0h2m10 0h4m2 0h2m4 0h2m-30 2h2m14 0h2m-26 2h2m2 0h2m6 0h2m-12 2h2m14 2h2" stroke="#e8262a" stroke-width="2" fill="none"/>
<rect x="1393.30" y="44.60" width="2.20" height="433.00" fill="#000"/>
<rect x="1134.60" y="163.28" width="433.00" height="2.00" fill="#000"/>
<rect x="1132.40" y="43.00" width="3.20" height="436.20" fill="#000"/>
<rect x="1566.90" y="43.00" width="3.20" height="436.20" fill="#000"/>
<rect x="1132.40" y="43.00" width="437.70" height="3.20" fill="#000"/>
<rect x="1132.40" y="478.10" width="437.70" height="3.40" fill="#000"/>
<rect x="1132.40" y="477.60" width="3.20" height="3.90" fill="#000"/>
<rect x="1566.90" y="477.60" width="3.20" height="3.90" fill="#000"/>
<rect x="1125.90" y="476.60" width="8.10" height="2.00" fill="#000"/>
<rect x="1129.90" y="450.83" width="4.10" height="1.40" fill="#000"/>
<rect x="1129.90" y="435.58" width="4.10" height="1.40" fill="#000"/>
<rect x="1129.90" y="424.76" width="4.10" height="1.40" fill="#000"/>
<rect x="1127.90" y="416.37" width="6.10" height="1.40" fill="#000"/>
<rect x="1129.90" y="409.51" width="4.10" height="1.40" fill="#000"/>
<rect x="1129.90" y="403.71" width="4.10" height="1.40" fill="#000"/>
<rect x="1129.90" y="398.69" width="4.10" height="1.40" fill="#000"/>
<rect x="1129.90" y="394.26" width="4.10" height="1.40" fill="#000"/>
<rect x="1125.90" y="390.00" width="8.10" height="2.00" fill="#000"/>
<rect x="1129.90" y="364.23" width="4.10" height="1.40" fill="#000"/>
<rect x="1129.90" y="348.98" width="4.10" height="1.40" fill="#000"/>
<rect x="1129.90" y="338.16" width="4.10" height="1.40" fill="#000"/>
<rect x="1127.90" y="329.77" width="6.10" height="1.40" fill="#000"/>
<rect x="1129.90" y="322.91" width="4.10" height="1.40" fill="#000"/>
<rect x="1129.90" y="317.11" width="4.10" height="1.40" fill="#000"/>
<rect x="1129.90" y="312.09" width="4.10" height="1.40" fill="#000"/>
<rect x="1129.90" y="307.66" width="4.10" height="1.40" fill="#000"/>
<rect x="1125.90" y="303.40" width="8.10" height="2.00" fill="#000"/>
<rect x="1129.90" y="277.63" width="4.10" height="1.40" fill="#000"/>
<rect x="1129.90" y="262.38" width="4.10" height="1.40" fill="#000"/>
<rect x="1129.90" y="251.56" width="4.10" height="1.40" fill="#000"/>
<rect x="1127.90" y="243.17" width="6.10" height="1.40" fill="#000"/>
<rect x="1129.90" y="236.31" width="4.10" height="1.40" fill="#000"/>
<rect x="1129.90" y="230.51" width="4.10" height="1.40" fill="#000"/>
<rect x="1129.90" y="225.49" width="4.10" height="1.40" fill="#000"/>
<rect x="1129.90" y="221.06" width="4.10" height="1.40" fill="#000"/>
<rect x="1125.90" y="216.80" width="8.10" height="2.00" fill="#000"/>
<rect x="1129.90" y="191.03" width="4.10" height="1.40" fill="#000"/>
<rect x="1129.90" y="175.78" width="4.10" height="1.40" fill="#000"/>
<rect x="1129.90" y="164.96" width="4.10" height="1.40" fill="#000"/>
<rect x="1127.90" y="156.57" width="6.10" height="1.40" fill="#000"/>
<rect x="1129.90" y="149.71" width="4.10" height="1.40" fill="#000"/>
<rect x="1129.90" y="143.91" width="4.10" height="1.40" fill="#000"/>
<rect x="1129.90" y="138.89" width="4.10" height="1.40" fill="#000"/>
<rect x="1129.90" y="134.46" width="4.10" height="1.40" fill="#000"/>
<rect x="1125.90" y="130.20" width="8.10" height="2.00" fill="#000"/>
<rect x="1129.90" y="104.43" width="4.10" height="1.40" fill="#000"/>
<rect x="1129.90" y="89.18" width="4.10" height="1.40" fill="#000"/>
<rect x="1129.90" y="78.36" width="4.10" height="1.40" fill="#000"/>
<rect x="1127.90" y="69.97" width="6.10" height="1.40" fill="#000"/>
<rect x="1129.90" y="63.11" width="4.10" height="1.40" fill="#000"/>
<rect x="1129.90" y="57.31" width="4.10" height="1.40" fill="#000"/>
<rect x="1129.90" y="52.29" width="4.10" height="1.40" fill="#000"/>
<rect x="1129.90" y="47.86" width="4.10" height="1.40" fill="#000"/>
<rect x="1125.90" y="43.60" width="8.10" height="2.00" fill="#000"/>
<rect x="1133.60" y="481.20" width="2.00" height="6.50" fill="#000"/>
<rect x="1159.97" y="481.20" width="1.40" height="2.50" fill="#000"/>
<rect x="1175.22" y="481.20" width="1.40" height="2.50" fill="#000"/>
<rect x="1186.04" y="481.20" width="1.40" height="2.50" fill="#000"/>
<rect x="1194.43" y="481.20" width="1.40" height="4.50" fill="#000"/>
<rect x="1201.29" y="481.20" width="1.40" height="2.50" fill="#000"/>
<rect x="1207.09" y="481.20" width="1.40" height="2.50" fill="#000"/>
<rect x="1212.11" y="481.20" width="1.40" height="2.50" fill="#000"/>
<rect x="1216.54" y="481.20" width="1.40" height="2.50" fill="#000"/>
<rect x="1220.20" y="481.20" width="2.00" height="6.50" fill="#000"/>
<rect x="1246.57" y="481.20" width="1.40" height="2.50" fill="#000"/>
<rect x="1261.82" y="481.20" width="1.40" height="2.50" fill="#000"/>
<rect x="1272.64" y="481.20" width="1.40" height="2.50" fill="#000"/>
<rect x="1281.03" y="481.20" width="1.40" height="4.50" fill="#000"/>
<rect x="1287.89" y="481.20" width="1.40" height="2.50" fill="#000"/>
<rect x="1293.69" y="481.20" width="1.40" height="2.50" fill="#000"/>
<rect x="1298.71" y="481.20" width="1.40" height="2.50" fill="#000"/>
<rect x="1303.14" y="481.20" width="1.40" height="2.50" fill="#000"/>
<rect x="1306.80" y="481.20" width="2.00" height="6.50" fill="#000"/>
<rect x="1333.17" y="481.20" width="1.40" height="2.50" fill="#000"/>
<rect x="1348.42" y="481.20" width="1.40" height="2.50" fill="#000"/>
<rect x="1359.24" y="481.20" width="1.40" height="2.50" fill="#000"/>
<rect x="1367.63" y="481.20" width="1.40" height="4.50" fill="#000"/>
<rect x="1374.49" y="481.20" width="1.40" height="2.50" fill="#000"/>
<rect x="1380.29" y="481.20" width="1.40" height="2.50" fill="#000"/>
<rect x="1385.31" y="481.20" width="1.40" height="2.50" fill="#000"/>
<rect x="1389.74" y="481.20" width="1.40" height="2.50" fill="#000"/>
<rect x="1393.40" y="481.20" width="2.00" height="6.50" fill="#000"/>
<rect x="1419.77" y="481.20" width="1.40" height="2.50" fill="#000"/>
<rect x="1435.02" y="481.20" width="1.40" height="2.50" fill="#000"/>
<rect x="1445.84" y="481.20" width="1.40" height="2.50" fill="#000"/>
<rect x="1454.23" y="481.20" width="1.40" height="4.50" fill="#000"/>
<rect x="1461.09" y="481.20" width="1.40" height="2.50" fill="#000"/>
<rect x="1466.89" y="481.20" width="1.40" height="2.50" fill="#000"/>
<rect x="1471.91" y="481.20" width="1.40" height="2.50" fill="#000"/>
<rect x="1476.34" y="481.20" width="1.40" height="2.50" fill="#000"/>
<rect x="1480.00" y="481.20" width="2.00" height="6.50" fill="#000"/>
<rect x="1506.37" y="481.20" width="1.40" height="2.50" fill="#000"/>
<rect x="1521.62" y="481.20" width="1.40" height="2.50" fill="#000"/>
<rect x="1532.44" y="481.20" width="1.40" height="2.50" fill="#000"/>
<rect x="1540.83" y="481.20" width="1.40" height="4.50" fill="#000"/>
<rect x="1547.69" y="481.20" width="1.40" height="2.50" fill="#000"/>
<rect x="1553.49" y="481.20" width="1.40" height="2.50" fill="#000"/>
<rect x="1558.51" y="481.20" width="1.40" height="2.50" fill="#000"/>
<rect x="1562.94" y="481.20" width="1.40" height="2.50" fill="#000"/>
<rect x="1566.60" y="481.20" width="2.00" height="6.50" fill="#000"/>
<text x="1481.35" y="82.00" text-anchor="middle" style="font-family:'Liberation Sans',Arial,Helvetica,sans-serif;font-size:33.5px" >Necrosis</text>
<text x="1481.45" y="122.10" text-anchor="middle" style="font-family:'Liberation Sans',Arial,Helvetica,sans-serif;font-size:33.5px" >7.7 %</text>
<text x="1482.50" y="417.00" text-anchor="middle" style="font-family:'Liberation Sans',Arial,Helvetica,sans-serif;font-size:33.5px" >Apoptosis</text>
<text x="1482.45" y="457.00" text-anchor="middle" style="font-family:'Liberation Sans',Arial,Helvetica,sans-serif;font-size:33.5px" >10.1 %</text>
<text x="1152.80" y="458.80" text-anchor="start" style="font-family:'Liberation Sans',Arial,Helvetica,sans-serif;font-size:37px;font-weight:bold" >RTX-IgG1</text>
<path d="M1066.0 544.0h2m-20 2h2m-54 4h2m4 2h2m24 0h2m6 2h2m40 2h2m-58 2h2m10 0h2m12 0h2m8 0h2m-62 2h2m2 0h2m4 0h2m8 0h2m-10 2h2m10 0h4m6 0h4m30 0h2m-76 2h2m8 0h4m6 0h4m38 0h2m2 0h2m-66 2h2m8 0h2m28 0h2m-26 2h2m6 0h4m2 0h2m12 0h2m12 0h2m-38 2h2m6 0h2m50 0h2m-70 2h2m2 0h2m12 0h2m2 0h2m-30 2h4m6 0h8m6 0h2m8 0h2m8 0h2m-38 2h2m16 0h2m14 0h2m2 0h4m-60 2h2m18 0h4m22 0h4m12 0h4m-42 2h2m12 0h2m22 0h2m2 0h2m14 0h2m-42 2h2m14 0h2m4 0h2m-68 2h2m14 0h2m4 0h2m10 0h2m2 0h4m4 0h2m20 0h2m-72 2h2m20 0h2m6 0h2m4 0h2m12 0h2m4 0h2m6 0h2m22 0h2m-62 2h4m-10 2h4m12 0h2m8 0h2m8 0h2m18 0h2m-56 2h4m4 0h2m10 0h2m2 0h2m10 0h2m-50 2h4m20 0h2m18 0h2m30 0h2m-78 2h2m4 0h2m10 0h2m10 0h2m12 0h2m28 0h2m-66 2h2m12 0h4m-128 2h2m86 0h2m26 0h2m8 0h2m6 0h2m26 0h2m-72 2h2m24 0h2m2 0h2m2 0h2m4 0h2m2 0h2m-32 2h2m26 0h2m18 0h2m2 0h2m30 0h2m-104 2h2m14 0h2m6 0h2m4 0h2m2 0h2m16 0h2m4 0h2m-40 2h2m38 0h2m18 0h2m-44 2h2m2 0h2m10 0h2m2 0h2m-52 2h2m22 0h2m8 0h2m2 0h4m-52 2h2m4 0h2m40 0h4m2 0h2m14 0h2m-70 2h2m14 0h2m4 0h2m14 0h2m2 0h2m-10 2h2m2 0h2m2 0h2m10 0h2m26 0h2m-76 2h2m18 0h2m6 0h2m6 0h2m-120 2h2m116 0h2m-18 2h2m-46 2h2m28 0h2m4 0h2m2 0h2m-94 2h2m16 0h2m52 0h2m12 0h2m8 0h2m2 0h2m8 0h4m-22 2h2m6 0h2m4 0h2m12 0h2m-144 2h2m24 0h2m60 0h4m4 0h2m26 0h2m-174 2h2m138 0h2m38 0h2m-180 2h2m58 0h2m90 0h2m28 0h2m-234 2h2m82 0h2m136 0h2m16 0h2m-130 2h2m66 0h4m8 0h2m4 0h4m12 0h2m-154 2h2m104 0h2m18 0h2m2 0h2m34 0h2m4 0h2m-58 2h2m18 0h2m2 0h2m30 0h2m-170 2h2m98 0h2m6 0h2m18 0h2m12 0h2m16 0h4m10 0h2m-168 2h6m78 0h2m8 0h2m12 0h2m2 0h2m4 0h2m6 0h2m42 0h2m4 0h4m-150 2h2m6 0h2m16 0h2m32 0h2m18 0h2m6 0h2m4 0h2m12 0h2m4 0h2m18 0h2m-180 2h2m44 0h2m72 0h2m2 0h2m24 0h2m18 0h2m6 0h2m4 0h2m-230 2h2m40 0h2m4 0h2m16 0h2m44 0h2m2 0h2m52 0h2m34 0h2m2 0h2m-210 2h2m36 0h2m128 0h2m24 0h2m16 0h2m-182 2h2m8 0h2m10 0h2m2 0h2m20 0h2m64 0h2m4 0h2m12 0h2m6 0h2m4 0h2m16 0h4m2 0h2m18 0h2m-166 2h2m74 0h2m62 0h4m28 0h2m8 0h2m-298 2h2m32 0h2m74 0h2m2 0h4m50 0h2m36 0h2m12 0h4m24 0h2m10 0h2m2 0h2m-184 2h2m2 0h2m2 0h4m26 0h2m6 0h2m4 0h2m10 0h2m4 0h2m18 0h2m2 0h2m32 0h2m8 0h2m-132 2h2m12 0h2m8 0h2m24 0h2m10 0h2m30 0h2m38 0h4m10 0h2m2 0h2m10 0h2m2 0h6m4 0h2m10 0h2m-248 2h2m62 0h2m18 0h2m14 0h2m2 0h2m10 0h2m20 0h2m26 0h2m8 0h2m4 0h2m8 0h2m4 0h2m-192 2h2m28 0h2m8 0h2m2 0h2m8 0h2m6 0h2m2 0h2m4 0h2m18 0h4m22 0h2m2 0h2m8 0h2m32 0h2m12 0h2m18 0h2m6 0h4m6 0h2m-218 2h2m60 0h2m26 0h2m-78 2h2m12 0h2m4 0h2m2 0h2m2 0h2m12 0h2m8 0h2m8 0h4m4 0h2m20 0h2m8 0h2m2 0h4m22 0h2m20 0h2m8 0h2m14 0h2m12 0h2m4 0h2m4 0h2m12 0h2m-230 2h2m4 0h2m22 0h4m10 0h2m28 0h4m14 0h2m8 0h2m14 0h2m38 0h2m2 0h2m6 0h2m4 0h4m30 0h2m-198 2h2m32 0h2m2 0h4m4 0h2m2 0h2m2 0h2m12 0h2m18 0h2m10 0h2m4 0h2m28 0h2m4 0h2m10 0h2m6 0h2m12 0h2m2 0h2m8 0h2m10 0h2m4 0h2m-192 2h2m10 0h4m16 0h6m8 0h2m6 0h2m16 0h2m4 0h2m4 0h2m4 0h2m6 0h2m4 0h2m8 0h2m26 0h2m26 0h2m-180 2h2m2 0h2m10 0h2m16 0h2m2 0h4m6 0h2m6 0h2m10 0h2m6 0h4m48 0h2m14 0h4m2 0h2m22 0h2m8 0h2m-222 2h2m28 0h2m14 0h2m6 0h2m8 0h2m10 0h2m18 0h2m20 0h2m4 0h2m2 0h2m6 0h4m16 0h2m10 0h2m2 0h2m8 0h2m16 0h4m4 0h2m-188 2h2m10 0h2m30 0h4m10 0h2m2 0h2m10 0h4m6 0h2m16 0h2m8 0h2m18 0h2m2 0h2m2 0h4m2 0h2m6 0h2m2 0h2m4 0h2m8 0h2m8 0h2m12 0h2m-224 2h2m32 0h2m14 0h2m6 0h2m2 0h2m12 0h2m10 0h4m2 0h2m20 0h2m4 0h2m2 0h2m6 0h2m4 0h2m6 0h2m24 0h2m20 0h2m8 0h2m6 0h2m4 0h2m2 0h2m12 0h2m-250 2h2m14 0h2m30 0h2m28 0h2m2 0h4m2 0h2m2 0h4m6 0h2m76 0h2m8 0h2m2 0h2m2 0h2m10 0h2m2 0h2m20 0h2m34 0h2m-258 2h2m4 0h2m12 0h2m4 0h2m2 0h2m26 0h2m2 0h2m10 0h2m8 0h4m4 0h2m2 0h2m8 0h2m4 0h2m6 0h2m106 0h2m14 0h2m-232 2h2m30 0h2m6 0h6m2 0h2m4 0h4m4 0h4m28 0h2m2 0h2m14 0h2m8 0h2m8 0h2m28 0h4m32 0h2m8 0h4m46 0h2m-294 2h4m26 0h2m2 0h2m4 0h2m10 0h2m2 0h2m28 0h4m22 0h2m10 0h2m30 0h2m6 0h2m20 0h2m30 0h4m-182 2h2m8 0h2m8 0h2m6 0h2m12 0h6m6 0h2m12 0h2m12 0h2m16 0h4m8 0h2m6 0h2m4 0h2m4 0h2m4 0h4m8 0h4m6 0h2m4 0h2m4 0h4m2 0h2m8 0h2m2 0h2m4 0h2m4 0h2m-246 2h2m44 0h2m28 0h2m6 0h8m14 0h2m2 0h2m2 0h2m2 0h2m10 0h2m8 0h2m4 0h4m6 0h2m16 0h2m6 0h2m2 0h2m18 0h2m8 0h2m6 0h2m6 0h4m6 0h2m-234 2h2m34 0h2m18 0h2m10 0h4m8 0h2m10 0h2m8 0h2m10 0h2m32 0h4m4 0h2m26 0h2m16 0h2m-208 2h2m14 0h4m18 0h4m10 0h4m2 0h2m6 0h4m4 0h2m2 0h2m12 0h2m4 0h2m12 0h4m12 0h4m12 0h4m6 0h2m10 0h2m20 0h2m4 0h2m12 0h2m6 0h2m4 0h2m8 0h6m10 0h2m-254 2h2m68 0h2m6 0h2m14 0h2m8 0h2m10 0h2m32 0h2m10 0h4m2 0h2m4 0h2m10 0h4m10 0h2m4 0h2m2 0h4m4 0h2m6 0h2m2 0h4m10 0h2m-232 2h2m30 0h2m32 0h2m14 0h2m16 0h2m12 0h2m2 0h2m16 0h2m6 0h2m2 0h2m4 0h2m2 0h2m16 0h2m8 0h2m2 0h4m2 0h6m14 0h2m12 0h2m-236 2h2m6 0h2m10 0h2m2 0h2m20 0h2m20 0h2m26 0h2m10 0h2m2 0h2m2 0h2m20 0h2m6 0h2m28 0h2m10 0h2m8 0h2m34 0h2m-266 2h2m28 0h2m6 0h2m6 0h2m6 0h2m10 0h2m26 0h2m12 0h2m2 0h2m24 0h2m26 0h2m12 0h4m4 0h2m4 0h4m18 0h2m12 0h4m8 0h2m14 0h2m-210 2h2m14 0h2m12 0h2m22 0h4m6 0h2m8 0h2m4 0h2m8 0h2m10 0h2m12 0h4m24 0h2m10 0h2m14 0h2m4 0h2m4 0h2m-224 2h2m2 0h2m22 0h2m18 0h2m6 0h2m4 0h2m10 0h4m4 0h2m2 0h2m4 0h2m46 0h2m22 0h2m12 0h4m18 0h4m6 0h2m28 0h2m30 0h2m-250 2h2m4 0h2m2 0h2m2 0h8m8 0h2m34 0h2m6 0h2m4 0h2m6 0h2m20 0h2m16 0h2m12 0h2m4 0h2m4 0h2m2 0h2m8 0h2m2 0h2m8 0h2m4 0h2m6 0h2m6 0h2m16 0h2m-248 2h2m28 0h2m24 0h2m16 0h2m4 0h2m14 0h2m4 0h2m10 0h2m8 0h2m24 0h2m14 0h2m4 0h2m8 0h2m2 0h2m4 0h2m22 0h2m10 0h2m8 0h2m16 0h2m-300 2h2m22 0h2m22 0h2m2 0h2m6 0h2m6 0h2m26 0h2m2 0h2m2 0h2m42 0h2m4 0h2m4 0h2m2 0h2m12 0h2m16 0h4m16 0h4m14 0h2m8 0h4m50 0h2m18 0h2m-286 2h2m16 0h4m22 0h2m10 0h2m8 0h2m6 0h2m74 0h2m8 0h6m2 0h2m2 0h2m6 0h2m30 0h2m6 0h4m6 0h2m2 0h2m6 0h2m14 0h2m-292 2h2m46 0h2m8 0h2m2 0h2m12 0h2m6 0h2m2 0h2m20 0h2m28 0h2m26 0h2m2 0h2m2 0h2m10 0h2m2 0h2m18 0h2m16 0h2m20 0h2m8 0h4m4 0h2m-250 2h2m14 0h4m10 0h2m24 0h2m4 0h2m10 0h2m12 0h2m54 0h2m2 0h2m34 0h2m2 0h2m12 0h2m8 0h2m4 0h2m10 0h2m12 0h4m18 0h2m4 0h2m2 0h2m-266 2h2m8 0h2m2 0h4m4 0h2m18 0h2m10 0h2m74 0h2m10 0h4m12 0h2m10 0h2m2 0h2m10 0h2m36 0h2m4 0h2m8 0h2m-286 2h2m4 0h2m44 0h2m34 0h2m4 0h2m14 0h2m10 0h2m22 0h2m62 0h2m10 0h2m12 0h2m6 0h2m4 0h2m2 0h2m8 0h2m16 0h2m8 0h2m-280 2h2m20 0h2m22 0h2m2 0h2m30 0h2m82 0h2m2 0h2m8 0h2m34 0h2m42 0h2m8 0h2m2 0h2m-240 2h2m2 0h2m4 0h2m8 0h2m14 0h2m2 0h2m78 0h4m38 0h2m6 0h2m6 0h2m4 0h4m2 0h2m2 0h2m6 0h2m12 0h2m-214 2h2m18 0h2m16 0h2m56 0h2m56 0h2m38 0h2m-206 2h2m20 0h2m4 0h4m2 0h2m4 0h2m2 0h2m54 0h2m2 0h2m22 0h2m4 0h4m22 0h2m10 0h4m8 0h2m2 0h4m10 0h2m8 0h2m4 0h2m28 0h2m-278 2h2m14 0h2m28 0h2m2 0h4m8 0h2m2 0h2m8 0h2m18 0h2m10 0h2m64 0h2m2 0h2m60 0h2m6 0h2m-236 2h2m2 0h2m24 0h2m8 0h2m6 0h4m4 0h2m34 0h2m8 0h2m18 0h2m4 0h2m2 0h2m56 0h2m52 0h2m8 0h2m-278 2h2m48 0h8m20 0h4m44 0h2m18 0h2m8 0h2m8 0h2m6 0h2m4 0h2m2 0h2m6 0h4m36 0h2m4 0h2m56 0h2m20 0h2m-302 2h2m18 0h2m6 0h2m14 0h2m2 0h2m4 0h4m8 0h2m14 0h2m12 0h4m4 0h2m24 0h2m10 0h2m68 0h2m2 0h2m16 0h2m2 0h2m-226 2h2m8 0h2m4 0h2m6 0h4m12 0h2m44 0h2m6 0h2m2 0h2m2 0h4m6 0h2m8 0h2m20 0h4m2 0h2m28 0h2m4 0h2m4 0h2m10 0h4m32 0h2m-278 2h2m34 0h2m8 0h2m12 0h4m8 0h2m12 0h4m2 0h2m6 0h4m2 0h2m8 0h2m6 0h2m6 0h2m6 0h2m2 0h2m12 0h4m6 0h2m16 0h2m32 0h2m-222 2h2m22 0h2m34 0h2m10 0h2m12 0h2m10 0h2m2 0h2m4 0h2m34 0h2m20 0h2m34 0h2m44 0h2m6 0h2m2 0h2m-250 2h2m34 0h2m34 0h2m4 0h2m2 0h2m8 0h2m2 0h4m4 0h2m42 0h4m130 0h2m-256 2h2m34 0h2m10 0h6m14 0h2m2 0h2m4 0h2m6 0h4m10 0h2m10 0h2m4 0h2m92 0h2m-224 2h2m30 0h2m2 0h2m8 0h2m20 0h2m6 0h2m12 0h4m22 0h2m72 0h2m8 0h2m16 0h2m14 0h2m-280 2h2m70 0h2m10 0h2m14 0h4m46 0h2m32 0h2m4 0h2m18 0h2m20 0h2m20 0h4m-222 2h2m72 0h2m40 0h2m8 0h2m100 0h2m-148 2h2m32 0h2m108 0h2m4 0h4m-220 2h2m56 0h2m58 0h2m124 0h2m26 0h2m-200 2h2m70 0h2m2 0h2m66 0h2m-182 2h2m134 0h2m20 0h2m12 0h2m22 0h2m4 0h2m-204 2h2m36 0h2m158 2h2m28 0h2m-266 2h2m16 0h4m84 2h2m122 2h2m-168 4h2m6 0h2m90 0h2m40 0h2m-240 8h2m76 0h2m-68 4h2m40 0h2m194 2h2m-182 14h2m-100 8h2m40 16h2m-24 4h2" stroke="#24419c" stroke-width="2" fill="none"/>
<path d="M1024 537h3v1h-3zM1036 539h1v3h-1zM1032 545h3v1h-3zM1038 545h1v3h-1zM1040 545h3v3h-3zM1010 549h3v3h-3zM1014 549h3v3h-3zM1035 551h1v3h-1zM1054 551h3v3h-3zM1060 551h3v3h-3zM1082 552h3v1h-3zM1000 553h3v1h-3zM1032 553h3v3h-3zM979 555h1v3h-1zM1008 555h3v3h-3zM1012 555h3v1h-3zM1016 555h3v1h-3zM1036 555h1v3h-1zM1046 555h3v3h-3zM1048 555h3v1h-3zM1014 557h3v3h-3zM1029 557h1v3h-1zM1040 557h3v3h-3zM1062 557h3v1h-3zM992 559h3v3h-3zM1004 559h3v1h-3zM1020 559h3v3h-3zM1026 559h3v3h-3zM1036 559h3v3h-3zM1040 559h3v3h-3zM986 561h3v3h-3zM996 561h3v3h-3zM1008 561h3v3h-3zM1019 561h1v3h-1zM1028 561h3v1h-3zM1006 563h3v3h-3zM1008 563h3v1h-3zM1016 564h3v1h-3zM1032 563h3v3h-3zM1040 563h3v3h-3zM1042 563h3v1h-3zM1056 563h3v3h-3zM998 565h3v3h-3zM1018 565h1v3h-1zM1021 565h1v3h-1zM1038 565h3v3h-3zM1049 565h1v3h-1zM1050 565h3v1h-3zM1056 565h3v1h-3zM1060 565h3v1h-3zM976 567h3v3h-3zM980 567h3v1h-3zM990 567h3v3h-3zM1004 568h3v1h-3zM1012 568h3v1h-3zM1016 567h3v3h-3zM1022 567h3v3h-3zM1032 567h3v3h-3zM984 569h3v3h-3zM986 569h3v3h-3zM992 569h3v3h-3zM1005 569h1v3h-1zM1010 569h3v1h-3zM1032 570h3v1h-3zM1034 570h3v1h-3zM1038 569h3v1h-3zM986 571h3v3h-3zM993 571h1v3h-1zM1000 571h3v3h-3zM1002 571h3v1h-3zM1018 571h3v1h-3zM1046 571h3v3h-3zM1051 571h1v3h-1zM1060 571h3v1h-3zM1064 571h3v3h-3zM987 573h1v3h-1zM990 574h3v1h-3zM1008 573h1v3h-1zM1022 573h3v3h-3zM1028 574h3v1h-3zM1035 573h1v3h-1zM1058 573h3v1h-3zM1002 575h3v3h-3zM1004 575h3v1h-3zM1020 575h3v3h-3zM1032 575h3v1h-3zM1034 576h3v1h-3zM1036 576h3v1h-3zM1040 575h3v3h-3zM1054 576h3v1h-3zM1076 575h3v3h-3zM1079 575h1v3h-1zM1008 577h1v3h-1zM1016 577h3v1h-3zM1018 577h3v3h-3zM1022 577h3v1h-3zM1026 577h3v1h-3zM1028 577h3v3h-3zM1068 577h3v3h-3zM972 579h3v1h-3zM1000 580h3v1h-3zM1004 579h3v3h-3zM1010 579h1v3h-1zM1013 579h1v3h-1zM1014 580h3v1h-3zM1028 579h3v3h-3zM1032 580h3v1h-3zM988 581h3v1h-3zM992 581h1v3h-1zM1006 581h3v3h-3zM1024 581h1v3h-1zM1030 581h3v3h-3zM1038 582h3v1h-3zM1042 581h3v1h-3zM1054 581h3v3h-3zM1074 581h3v3h-3zM998 583h3v3h-3zM1000 583h3v3h-3zM1010 583h1v3h-1zM1016 583h3v3h-3zM1052 583h3v3h-3zM1017 585h1v3h-1zM1020 585h3v3h-3zM1026 585h3v3h-3zM1032 585h3v3h-3zM1050 585h1v3h-1zM1063 585h1v3h-1zM998 587h3v3h-3zM1005 587h1v3h-1zM1012 587h3v3h-3zM1014 588h3v1h-3zM1020 587h3v3h-3zM1022 588h3v1h-3zM1026 587h3v3h-3zM1028 587h1v3h-1zM1030 587h3v3h-3zM1036 587h1v3h-1zM1040 587h3v3h-3zM1046 587h3v3h-3zM1049 587h1v3h-1zM1050 587h3v3h-3zM1056 587h1v3h-1zM994 589h3v3h-3zM1000 589h3v3h-3zM1015 589h1v3h-1zM1016 590h3v1h-3zM1020 589h3v3h-3zM1032 589h1v3h-1zM1042 589h3v3h-3zM1052 589h3v1h-3zM990 591h3v3h-3zM1000 592h3v1h-3zM1002 591h3v1h-3zM1024 591h1v3h-1zM1028 591h1v3h-1zM1040 591h1v3h-1zM1042 592h3v1h-3zM1046 591h3v3h-3zM1053 591h1v3h-1zM996 593h3v3h-3zM1013 593h1v3h-1zM1016 593h3v3h-3zM1022 593h3v3h-3zM1026 594h3v1h-3zM1028 593h3v3h-3zM1038 593h3v1h-3zM1046 593h1v3h-1zM1066 593h3v3h-3zM982 596h3v1h-3zM1014 595h3v3h-3zM1028 595h3v1h-3zM1034 595h3v3h-3zM1038 595h1v3h-1zM1040 595h1v3h-1zM1050 595h1v3h-1zM1052 595h3v1h-3zM1054 595h3v3h-3zM1064 596h3v1h-3zM1067 595h1v3h-1zM1072 595h1v3h-1zM992 597h3v3h-3zM998 597h3v3h-3zM1002 598h3v1h-3zM1008 598h3v1h-3zM1018 597h3v3h-3zM1020 597h3v3h-3zM1030 597h3v3h-3zM1036 597h3v3h-3zM1040 597h1v3h-1zM1042 597h3v3h-3zM1054 597h3v3h-3zM1062 597h3v3h-3zM1002 599h3v3h-3zM1006 599h3v3h-3zM1014 599h3v3h-3zM1020 599h3v3h-3zM1024 599h3v3h-3zM1028 599h1v3h-1zM1038 599h1v3h-1zM1044 599h3v3h-3zM1049 599h1v3h-1zM1052 599h3v1h-3zM996 601h1v3h-1zM998 601h3v3h-3zM1000 601h3v3h-3zM1002 601h3v3h-3zM1012 601h3v3h-3zM1016 601h3v1h-3zM1024 601h3v3h-3zM1028 602h3v1h-3zM1041 601h1v3h-1zM1047 601h1v3h-1zM1052 601h1v3h-1zM1062 601h3v3h-3zM1074 601h3v3h-3zM1008 604h3v1h-3zM1018 603h3v3h-3zM1024 604h3v1h-3zM1050 603h3v3h-3zM950 605h3v1h-3zM992 606h3v1h-3zM1024 605h3v3h-3zM1032 605h1v3h-1zM1042 605h3v3h-3zM1052 605h3v3h-3zM990 607h1v3h-1zM1000 607h3v3h-3zM1004 607h3v3h-3zM1012 607h3v1h-3zM1020 608h3v1h-3zM1024 607h3v1h-3zM1026 607h3v3h-3zM1034 607h1v3h-1zM1040 607h3v3h-3zM1042 607h3v1h-3zM1050 607h3v1h-3zM885 609h1v3h-1zM970 610h3v1h-3zM996 609h3v3h-3zM1004 610h3v1h-3zM1028 609h3v3h-3zM1032 609h1v3h-1zM1038 609h3v3h-3zM1044 609h3v3h-3zM1060 610h3v1h-3zM1064 609h3v3h-3zM998 612h3v1h-3zM1011 611h1v3h-1zM1014 611h3v1h-3zM1017 611h1v3h-1zM1032 611h3v3h-3zM1038 611h3v3h-3zM1042 611h1v3h-1zM1044 611h1v3h-1zM1046 612h3v1h-3zM1066 612h3v1h-3zM858 613h1v3h-1zM972 614h3v1h-3zM984 614h3v1h-3zM994 614h3v1h-3zM1002 613h1v3h-1zM1008 613h3v1h-3zM1014 613h3v3h-3zM1024 614h3v1h-3zM1044 614h3v1h-3zM1066 613h1v3h-1zM864 615h3v3h-3zM1003 615h1v3h-1zM1012 615h3v1h-3zM1028 615h1v3h-1zM1050 616h3v1h-3zM840 617h3v3h-3zM976 617h3v1h-3zM978 617h3v3h-3zM980 617h3v3h-3zM982 618h3v1h-3zM990 617h1v3h-1zM999 617h1v3h-1zM1014 617h3v3h-3zM1018 617h3v3h-3zM1066 617h3v3h-3zM984 620h3v1h-3zM990 619h3v1h-3zM994 620h3v1h-3zM998 619h1v3h-1zM1018 619h1v3h-1zM1026 619h3v3h-3zM1042 619h3v1h-3zM1052 620h3v1h-3zM928 621h3v3h-3zM977 621h1v3h-1zM990 621h3v1h-3zM993 621h1v3h-1zM1018 621h1v3h-1zM1020 622h3v1h-3zM1022 621h3v3h-3zM1034 621h3v3h-3zM866 624h3v1h-3zM1006 623h3v3h-3zM1012 623h3v1h-3zM1018 623h3v1h-3zM1021 623h1v3h-1zM1026 624h3v1h-3zM1029 623h1v3h-1zM1032 624h3v1h-3zM1034 623h3v3h-3zM1040 623h3v3h-3zM906 625h3v3h-3zM980 625h3v1h-3zM997 625h1v3h-1zM1010 625h3v3h-3zM1017 625h1v3h-1zM1028 625h3v3h-3zM1030 625h3v3h-3zM1068 625h1v3h-1zM940 627h1v3h-1zM1022 627h3v3h-3zM1028 627h3v3h-3zM1056 627h1v3h-1zM1058 627h3v3h-3zM856 629h1v3h-1zM894 629h1v3h-1zM898 629h3v1h-3zM902 629h3v3h-3zM914 629h3v3h-3zM974 630h3v1h-3zM984 630h3v1h-3zM988 630h3v1h-3zM992 629h3v3h-3zM1002 629h3v3h-3zM1016 629h1v3h-1zM1018 629h3v3h-3zM1030 629h1v3h-1zM1033 629h1v3h-1zM1036 629h3v3h-3zM1038 629h3v3h-3zM856 631h3v3h-3zM956 631h3v3h-3zM972 631h3v3h-3zM992 632h3v1h-3zM1000 631h3v1h-3zM1004 631h3v1h-3zM1006 631h3v3h-3zM1008 631h1v3h-1zM1018 631h3v3h-3zM1020 631h3v3h-3zM1028 631h3v1h-3zM1032 631h3v3h-3zM1044 631h3v3h-3zM816 633h3v3h-3zM860 633h3v3h-3zM870 634h3v1h-3zM876 633h3v3h-3zM902 633h1v3h-1zM934 634h3v1h-3zM998 633h3v3h-3zM1002 633h3v3h-3zM1004 634h3v1h-3zM1008 633h3v3h-3zM1012 633h3v3h-3zM1018 633h3v3h-3zM1021 633h1v3h-1zM1025 633h1v3h-1zM1034 633h3v3h-3zM1036 633h3v3h-3zM1038 633h1v3h-1zM1048 633h1v3h-1zM919 635h1v3h-1zM948 636h3v1h-3zM986 635h3v3h-3zM998 635h3v3h-3zM1022 635h3v3h-3zM1030 635h3v3h-3zM1042 635h3v1h-3zM746 637h3v3h-3zM828 637h3v1h-3zM976 637h1v3h-1zM990 637h3v3h-3zM996 637h3v1h-3zM1018 637h3v1h-3zM1034 637h3v3h-3zM892 639h1v3h-1zM908 639h3v3h-3zM920 639h1v3h-1zM926 640h3v1h-3zM932 639h3v1h-3zM986 639h1v3h-1zM1008 639h3v3h-3zM1010 640h3v1h-3zM1014 639h3v3h-3zM1020 640h3v1h-3zM1022 639h3v1h-3zM1024 639h1v3h-1zM1030 639h3v1h-3zM1048 640h3v1h-3zM836 641h3v1h-3zM858 641h1v3h-1zM877 641h1v3h-1zM878 642h3v1h-3zM908 641h1v3h-1zM916 641h3v3h-3zM928 642h3v1h-3zM934 641h3v3h-3zM966 642h3v1h-3zM986 642h3v1h-3zM1000 641h3v3h-3zM1014 642h3v1h-3zM1018 641h3v1h-3zM1033 641h1v3h-1zM1046 642h3v1h-3zM952 643h3v3h-3zM966 643h1v3h-1zM970 643h3v3h-3zM976 643h1v3h-1zM978 643h1v3h-1zM986 643h3v3h-3zM992 644h3v1h-3zM1028 643h3v3h-3zM1040 644h3v1h-3zM1048 643h1v3h-1zM794 645h1v3h-1zM848 645h3v1h-3zM888 645h3v3h-3zM894 646h3v1h-3zM902 645h3v3h-3zM914 645h3v3h-3zM918 645h3v3h-3zM963 645h1v3h-1zM1008 646h3v1h-3zM1024 645h3v1h-3zM1026 645h1v3h-1zM1038 645h1v3h-1zM1046 645h3v3h-3zM886 647h3v3h-3zM918 647h3v1h-3zM936 647h3v3h-3zM968 647h1v3h-1zM976 647h3v1h-3zM982 647h3v3h-3zM990 648h3v1h-3zM1004 647h3v3h-3zM1010 647h3v3h-3zM1020 647h3v3h-3zM1024 647h3v3h-3zM1026 648h3v1h-3zM1040 648h3v1h-3zM1072 647h3v1h-3zM818 649h3v1h-3zM850 649h3v1h-3zM880 650h3v1h-3zM884 650h3v1h-3zM910 649h3v1h-3zM912 649h3v3h-3zM924 649h3v3h-3zM930 649h3v3h-3zM992 650h3v1h-3zM1009 649h1v3h-1zM1011 649h1v3h-1zM1028 649h3v3h-3zM1034 650h3v1h-3zM822 651h3v1h-3zM830 651h3v3h-3zM866 652h3v1h-3zM874 651h3v3h-3zM880 651h3v3h-3zM888 651h3v1h-3zM912 651h3v3h-3zM938 651h3v3h-3zM944 652h3v1h-3zM974 651h3v1h-3zM984 652h3v1h-3zM994 651h3v1h-3zM1006 651h3v3h-3zM1008 651h3v3h-3zM1014 651h3v3h-3zM1016 651h1v3h-1zM1034 652h3v1h-3zM1066 651h3v1h-3zM806 653h3v3h-3zM847 653h1v3h-1zM852 653h3v3h-3zM856 653h1v3h-1zM862 653h3v1h-3zM864 653h3v1h-3zM878 653h3v3h-3zM890 654h3v1h-3zM898 653h3v3h-3zM982 653h3v3h-3zM986 653h3v3h-3zM996 653h3v3h-3zM999 653h1v3h-1zM1000 653h3v1h-3zM1002 653h3v3h-3zM1020 653h3v3h-3zM1022 653h1v3h-1zM1042 653h3v3h-3zM852 655h3v3h-3zM868 655h3v3h-3zM878 655h3v3h-3zM886 656h3v1h-3zM888 655h3v3h-3zM892 655h1v3h-1zM894 656h3v1h-3zM900 655h3v1h-3zM912 655h3v1h-3zM914 655h3v1h-3zM936 655h3v3h-3zM952 655h3v3h-3zM976 656h3v1h-3zM982 655h3v1h-3zM1008 655h1v3h-1zM1010 655h3v3h-3zM1017 655h1v3h-1zM1034 655h3v3h-3zM1038 655h3v3h-3zM1042 655h3v3h-3zM1048 655h3v3h-3zM1052 655h3v3h-3zM1060 655h1v3h-1zM800 657h3v3h-3zM818 657h3v3h-3zM822 657h3v1h-3zM864 657h3v1h-3zM866 657h3v3h-3zM872 657h3v3h-3zM888 657h1v3h-1zM890 657h3v1h-3zM894 658h3v1h-3zM904 657h3v3h-3zM910 657h3v3h-3zM920 657h3v1h-3zM926 657h3v3h-3zM928 657h3v3h-3zM980 657h3v3h-3zM1002 657h3v3h-3zM1022 657h3v1h-3zM1026 657h1v3h-1zM1034 657h1v3h-1zM1038 657h3v1h-3zM1054 657h3v1h-3zM806 660h3v1h-3zM836 659h3v3h-3zM866 659h1v3h-1zM882 659h1v3h-1zM902 659h3v3h-3zM904 659h3v3h-3zM912 659h3v1h-3zM916 659h3v3h-3zM929 659h1v3h-1zM944 659h3v1h-3zM960 659h3v3h-3zM969 659h1v3h-1zM970 659h3v3h-3zM980 659h3v3h-3zM988 659h3v3h-3zM994 659h1v3h-1zM1008 659h3v3h-3zM1010 659h3v1h-3zM1038 659h3v3h-3zM1056 660h3v1h-3zM836 661h3v3h-3zM844 661h3v1h-3zM853 661h1v3h-1zM858 662h3v1h-3zM869 661h1v3h-1zM871 661h1v3h-1zM874 661h3v3h-3zM878 661h3v3h-3zM885 661h1v3h-1zM901 661h1v3h-1zM902 661h3v1h-3zM904 662h3v1h-3zM910 661h3v3h-3zM930 661h3v3h-3zM938 662h3v1h-3zM942 661h3v3h-3zM966 661h3v3h-3zM968 661h3v3h-3zM978 661h3v3h-3zM980 661h3v1h-3zM990 661h3v3h-3zM996 661h3v3h-3zM998 661h3v3h-3zM1002 661h1v3h-1zM1004 661h3v3h-3zM1006 661h3v3h-3zM1008 662h3v1h-3zM1036 661h3v3h-3zM1052 662h3v1h-3zM814 663h1v3h-1zM820 664h3v1h-3zM834 663h3v1h-3zM860 663h3v3h-3zM878 664h3v1h-3zM880 663h3v3h-3zM882 664h3v1h-3zM884 664h3v1h-3zM896 663h3v3h-3zM905 663h1v3h-1zM914 663h1v3h-1zM916 663h1v3h-1zM960 663h3v3h-3zM962 663h1v3h-1zM969 663h1v3h-1zM980 663h3v3h-3zM982 663h3v3h-3zM1000 664h3v1h-3zM1006 663h1v3h-1zM1018 663h3v3h-3zM1032 664h3v1h-3zM1038 663h3v3h-3zM1044 664h3v1h-3zM1056 663h1v3h-1zM1083 663h1v3h-1zM788 665h3v3h-3zM791 665h1v3h-1zM836 665h3v3h-3zM850 665h3v3h-3zM852 665h3v3h-3zM874 665h3v3h-3zM876 666h3v1h-3zM888 666h3v1h-3zM894 666h3v1h-3zM900 665h1v3h-1zM904 665h1v3h-1zM916 665h3v3h-3zM922 665h3v1h-3zM932 665h3v3h-3zM940 665h1v3h-1zM942 665h3v1h-3zM1036 665h3v3h-3zM1038 665h3v3h-3zM1042 665h3v3h-3zM844 667h3v3h-3zM846 667h3v3h-3zM852 667h1v3h-1zM866 667h3v3h-3zM872 667h3v1h-3zM918 667h3v3h-3zM924 667h1v3h-1zM926 667h3v3h-3zM944 667h3v3h-3zM948 668h3v1h-3zM990 667h1v3h-1zM1010 667h3v3h-3zM1012 668h3v1h-3zM1026 668h3v1h-3zM1030 667h3v1h-3zM1032 667h3v3h-3zM1038 668h3v1h-3zM1046 667h3v1h-3zM824 669h3v3h-3zM832 669h3v3h-3zM850 669h3v1h-3zM854 669h3v3h-3zM858 669h3v3h-3zM865 669h1v3h-1zM876 669h3v3h-3zM892 669h3v3h-3zM914 670h3v1h-3zM938 669h3v3h-3zM942 669h3v3h-3zM956 669h3v3h-3zM980 670h3v1h-3zM990 670h3v1h-3zM1006 669h3v1h-3zM1012 669h3v3h-3zM1024 669h3v1h-3zM782 672h3v1h-3zM786 671h3v3h-3zM822 672h3v1h-3zM829 671h1v3h-1zM830 671h3v3h-3zM836 671h3v3h-3zM840 671h3v3h-3zM846 671h3v3h-3zM848 671h3v3h-3zM852 672h3v1h-3zM855 671h1v3h-1zM856 671h3v3h-3zM858 671h1v3h-1zM862 671h3v1h-3zM876 671h3v1h-3zM888 671h3v1h-3zM890 671h3v3h-3zM896 671h1v3h-1zM912 672h3v1h-3zM939 671h1v3h-1zM940 672h3v1h-3zM942 671h3v3h-3zM946 671h3v3h-3zM950 672h3v1h-3zM964 671h3v3h-3zM982 671h3v3h-3zM988 671h3v3h-3zM990 671h3v3h-3zM1002 671h3v3h-3zM1004 671h3v3h-3zM1020 671h3v3h-3zM1028 672h3v1h-3zM1033 671h1v3h-1zM1036 671h3v1h-3zM1042 671h3v3h-3zM836 673h3v3h-3zM840 673h3v1h-3zM851 673h1v3h-1zM860 673h3v1h-3zM879 673h1v3h-1zM890 673h3v3h-3zM892 673h3v3h-3zM896 673h3v3h-3zM898 673h3v3h-3zM906 673h3v3h-3zM908 673h3v3h-3zM910 673h3v3h-3zM940 673h3v3h-3zM948 673h3v1h-3zM960 674h3v1h-3zM968 673h1v3h-1zM973 673h1v3h-1zM974 673h3v1h-3zM976 673h3v3h-3zM991 673h1v3h-1zM992 673h1v3h-1zM1006 673h3v3h-3zM1013 673h1v3h-1zM1022 673h3v3h-3zM802 675h3v3h-3zM810 675h3v3h-3zM828 675h3v1h-3zM856 675h3v3h-3zM862 675h3v3h-3zM872 675h3v1h-3zM876 675h3v3h-3zM882 675h3v1h-3zM885 675h1v3h-1zM916 675h3v3h-3zM920 675h3v3h-3zM922 675h3v3h-3zM924 675h3v1h-3zM930 675h3v3h-3zM936 676h3v1h-3zM938 675h3v3h-3zM956 676h3v1h-3zM962 675h3v1h-3zM970 675h3v1h-3zM976 675h3v1h-3zM980 675h3v3h-3zM998 675h3v3h-3zM1008 676h3v1h-3zM1012 675h3v3h-3zM1014 675h3v3h-3zM1016 675h1v3h-1zM1024 675h3v3h-3zM1028 675h3v3h-3zM1038 676h3v1h-3zM802 677h3v3h-3zM835 677h1v3h-1zM840 677h3v3h-3zM844 677h3v3h-3zM860 677h3v3h-3zM878 677h3v3h-3zM882 677h3v1h-3zM886 677h3v3h-3zM888 678h3v1h-3zM890 677h1v3h-1zM892 677h3v3h-3zM894 677h3v1h-3zM905 677h1v3h-1zM906 677h3v3h-3zM908 677h1v3h-1zM910 677h3v1h-3zM912 677h3v3h-3zM914 677h3v3h-3zM929 677h1v3h-1zM932 677h1v3h-1zM946 677h3v1h-3zM948 677h3v3h-3zM968 678h3v1h-3zM970 677h3v3h-3zM976 677h3v3h-3zM978 677h3v3h-3zM980 677h3v3h-3zM988 677h3v3h-3zM990 677h3v3h-3zM1000 677h3v1h-3zM1002 677h3v3h-3zM1004 677h3v1h-3zM1012 678h3v1h-3zM1016 677h3v3h-3zM1022 677h3v3h-3zM1028 677h3v1h-3zM1036 677h3v3h-3zM824 679h3v3h-3zM838 679h3v3h-3zM846 679h3v3h-3zM893 679h1v3h-1zM900 679h3v3h-3zM904 679h3v3h-3zM908 679h3v3h-3zM914 680h3v1h-3zM922 679h3v3h-3zM940 680h3v1h-3zM966 679h1v3h-1zM994 679h3v3h-3zM996 679h3v1h-3zM1014 680h3v1h-3zM1017 679h1v3h-1zM1020 679h3v1h-3zM1039 679h1v3h-1zM1040 679h1v3h-1zM792 681h3v3h-3zM803 681h1v3h-1zM838 682h3v1h-3zM846 682h3v1h-3zM848 681h3v1h-3zM850 681h3v3h-3zM863 681h1v3h-1zM869 681h1v3h-1zM872 681h1v3h-1zM876 681h3v3h-3zM884 681h3v3h-3zM892 681h3v3h-3zM904 681h3v3h-3zM912 681h3v1h-3zM932 681h3v1h-3zM934 681h1v3h-1zM938 681h3v3h-3zM940 681h3v3h-3zM952 681h1v3h-1zM964 681h3v3h-3zM972 681h3v1h-3zM994 681h3v3h-3zM1008 681h3v3h-3zM1022 681h3v3h-3zM1028 681h1v3h-1zM1030 681h3v3h-3zM1036 681h3v3h-3zM1048 682h3v1h-3zM814 683h1v3h-1zM816 683h3v1h-3zM822 683h3v3h-3zM830 683h3v1h-3zM838 683h3v3h-3zM840 683h3v3h-3zM847 683h1v3h-1zM848 683h3v3h-3zM872 683h1v3h-1zM875 683h1v3h-1zM884 683h3v3h-3zM888 684h3v1h-3zM892 684h3v1h-3zM894 683h1v3h-1zM906 683h1v3h-1zM912 683h1v3h-1zM914 683h3v1h-3zM921 683h1v3h-1zM952 683h3v3h-3zM956 683h3v1h-3zM962 683h3v3h-3zM981 683h1v3h-1zM991 683h1v3h-1zM1000 683h3v1h-3zM1008 683h3v3h-3zM1010 683h3v3h-3zM1018 683h3v1h-3zM1022 684h3v1h-3zM1038 683h3v3h-3zM780 685h1v3h-1zM798 686h3v1h-3zM814 685h3v3h-3zM818 685h3v3h-3zM830 685h3v3h-3zM834 685h3v3h-3zM841 685h1v3h-1zM848 686h3v1h-3zM876 685h3v3h-3zM882 685h3v3h-3zM890 686h3v1h-3zM892 685h3v1h-3zM896 685h3v3h-3zM906 685h3v1h-3zM912 686h3v1h-3zM924 685h1v3h-1zM926 686h3v1h-3zM932 686h3v1h-3zM976 686h3v1h-3zM982 685h3v3h-3zM994 686h3v1h-3zM1002 685h3v1h-3zM1004 685h3v3h-3zM1034 685h3v3h-3zM804 688h3v1h-3zM814 687h3v1h-3zM816 687h3v3h-3zM841 687h1v3h-1zM854 687h3v3h-3zM858 687h3v3h-3zM866 687h3v3h-3zM870 687h1v3h-1zM894 687h3v1h-3zM902 688h3v1h-3zM912 687h3v3h-3zM923 687h1v3h-1zM926 687h3v3h-3zM934 687h3v1h-3zM938 687h3v1h-3zM947 687h1v3h-1zM956 687h1v3h-1zM974 687h1v3h-1zM986 687h3v1h-3zM990 688h3v1h-3zM1001 687h1v3h-1zM1002 687h3v3h-3zM1004 687h1v3h-1zM1014 687h3v1h-3zM1018 687h3v3h-3zM1030 687h3v3h-3zM1033 687h1v3h-1zM820 690h3v1h-3zM832 689h3v3h-3zM836 689h3v3h-3zM846 689h3v1h-3zM848 689h3v1h-3zM854 689h3v3h-3zM858 689h3v3h-3zM868 689h3v1h-3zM878 689h3v3h-3zM882 690h3v1h-3zM892 689h3v1h-3zM900 689h3v3h-3zM906 689h3v3h-3zM926 689h1v3h-1zM928 689h1v3h-1zM940 689h3v3h-3zM959 689h1v3h-1zM962 689h1v3h-1zM970 689h1v3h-1zM984 689h1v3h-1zM1001 689h1v3h-1zM1014 690h3v1h-3zM1018 689h1v3h-1zM1026 689h3v3h-3zM1046 689h3v3h-3zM802 692h3v1h-3zM826 692h3v1h-3zM832 691h3v3h-3zM840 691h3v1h-3zM850 691h3v1h-3zM856 691h1v3h-1zM862 691h3v1h-3zM869 691h1v3h-1zM876 691h3v3h-3zM878 691h3v3h-3zM890 691h3v3h-3zM908 691h3v3h-3zM918 691h3v3h-3zM922 691h1v3h-1zM934 691h3v3h-3zM940 691h3v3h-3zM944 691h1v3h-1zM946 692h3v1h-3zM965 691h1v3h-1zM972 691h3v3h-3zM978 691h3v1h-3zM980 691h3v3h-3zM982 691h3v3h-3zM986 691h1v3h-1zM992 692h3v1h-3zM994 691h3v3h-3zM1000 691h3v3h-3zM1008 691h3v3h-3zM1010 691h3v1h-3zM1016 691h3v3h-3zM1030 691h3v3h-3zM1078 691h3v3h-3zM807 693h1v3h-1zM832 694h3v1h-3zM836 693h3v3h-3zM846 694h3v1h-3zM848 693h1v3h-1zM872 693h3v3h-3zM898 693h3v3h-3zM901 693h1v3h-1zM902 693h3v3h-3zM906 693h3v3h-3zM910 693h3v3h-3zM914 693h3v1h-3zM918 693h3v3h-3zM922 693h3v3h-3zM924 693h3v3h-3zM934 693h3v3h-3zM948 694h3v1h-3zM961 693h1v3h-1zM977 693h1v3h-1zM984 693h3v3h-3zM998 693h3v3h-3zM1002 693h1v3h-1zM1004 694h3v1h-3zM1057 693h1v3h-1zM810 695h3v3h-3zM815 695h1v3h-1zM833 695h1v3h-1zM838 695h3v3h-3zM844 695h3v3h-3zM861 695h1v3h-1zM866 695h3v1h-3zM884 695h3v3h-3zM888 695h1v3h-1zM890 695h3v1h-3zM896 695h3v3h-3zM901 695h1v3h-1zM904 695h1v3h-1zM906 695h3v1h-3zM908 695h3v3h-3zM910 695h3v3h-3zM916 695h3v3h-3zM918 695h3v3h-3zM920 695h1v3h-1zM926 695h3v1h-3zM948 696h3v1h-3zM952 695h1v3h-1zM964 695h3v3h-3zM966 695h3v3h-3zM968 695h3v3h-3zM974 695h3v3h-3zM992 695h3v3h-3zM1002 695h3v3h-3zM1012 695h1v3h-1zM1014 695h3v3h-3zM1032 696h3v1h-3zM1040 695h3v1h-3zM1058 696h3v1h-3zM779 697h1v3h-1zM790 697h3v1h-3zM792 697h3v3h-3zM808 697h3v3h-3zM818 698h3v1h-3zM828 698h3v1h-3zM836 697h3v1h-3zM844 697h1v3h-1zM890 697h3v3h-3zM900 698h3v1h-3zM904 697h3v3h-3zM916 697h3v3h-3zM924 697h3v3h-3zM928 697h3v1h-3zM940 697h3v3h-3zM952 698h3v1h-3zM966 697h3v3h-3zM976 697h3v3h-3zM985 697h1v3h-1zM993 697h1v3h-1zM1024 697h3v3h-3zM1036 698h3v1h-3zM1044 697h3v3h-3zM1046 697h3v3h-3zM774 699h3v3h-3zM776 700h3v1h-3zM788 699h3v3h-3zM796 699h3v3h-3zM809 699h1v3h-1zM822 699h3v3h-3zM832 700h3v1h-3zM838 699h3v3h-3zM842 700h3v1h-3zM850 699h1v3h-1zM856 699h3v3h-3zM862 699h3v3h-3zM864 699h3v3h-3zM886 699h3v3h-3zM894 699h3v1h-3zM898 699h3v3h-3zM907 699h1v3h-1zM910 699h3v3h-3zM914 700h3v1h-3zM916 699h3v3h-3zM927 699h1v3h-1zM940 699h3v1h-3zM942 699h3v3h-3zM952 699h3v3h-3zM966 699h1v3h-1zM974 699h1v3h-1zM986 699h3v3h-3zM992 699h3v3h-3zM1000 699h3v3h-3zM1008 699h3v3h-3zM1020 699h1v3h-1zM1026 700h3v1h-3zM766 701h1v3h-1zM788 701h3v3h-3zM806 701h3v3h-3zM808 701h3v1h-3zM810 701h3v3h-3zM823 701h1v3h-1zM834 701h3v3h-3zM840 701h3v3h-3zM848 702h3v1h-3zM851 701h1v3h-1zM860 702h3v1h-3zM862 701h3v3h-3zM864 701h1v3h-1zM876 701h3v3h-3zM878 701h1v3h-1zM887 701h1v3h-1zM888 701h3v3h-3zM894 701h1v3h-1zM906 701h3v1h-3zM910 701h3v1h-3zM912 701h3v1h-3zM916 701h3v3h-3zM918 701h3v3h-3zM920 701h3v3h-3zM934 701h3v3h-3zM944 701h1v3h-1zM962 701h3v3h-3zM964 701h1v3h-1zM969 701h1v3h-1zM970 701h3v3h-3zM972 701h3v3h-3zM978 701h3v3h-3zM980 701h3v3h-3zM988 702h3v1h-3zM994 701h3v1h-3zM998 701h3v3h-3zM1000 702h3v1h-3zM1008 702h3v1h-3zM1012 701h3v1h-3zM1023 701h1v3h-1zM1034 702h3v1h-3zM1037 701h1v3h-1zM822 704h3v1h-3zM832 703h3v3h-3zM856 703h3v3h-3zM860 703h3v1h-3zM873 703h1v3h-1zM884 703h3v3h-3zM892 703h3v3h-3zM900 703h3v1h-3zM902 703h3v3h-3zM904 703h1v3h-1zM906 703h3v1h-3zM912 703h3v3h-3zM932 703h1v3h-1zM934 703h3v3h-3zM939 703h1v3h-1zM948 703h1v3h-1zM952 703h3v3h-3zM954 703h3v3h-3zM972 703h1v3h-1zM974 703h3v3h-3zM986 703h3v1h-3zM992 703h3v3h-3zM998 703h3v3h-3zM1014 704h3v1h-3zM1021 703h1v3h-1zM1026 703h3v1h-3zM796 705h3v3h-3zM804 706h3v1h-3zM822 705h1v3h-1zM836 705h3v3h-3zM844 705h3v3h-3zM848 705h3v3h-3zM856 705h3v1h-3zM880 705h3v3h-3zM882 705h3v3h-3zM898 706h3v1h-3zM914 705h3v3h-3zM916 706h3v1h-3zM918 705h1v3h-1zM920 706h3v1h-3zM930 705h3v3h-3zM936 705h3v1h-3zM938 705h3v3h-3zM958 705h3v3h-3zM1001 705h1v3h-1zM1008 705h3v3h-3zM1014 705h3v3h-3zM1020 705h3v3h-3zM1045 705h1v3h-1zM1050 705h3v3h-3zM790 707h3v3h-3zM835 707h1v3h-1zM848 707h3v3h-3zM852 707h3v3h-3zM913 707h1v3h-1zM918 707h1v3h-1zM928 707h3v3h-3zM936 707h3v1h-3zM968 707h3v3h-3zM971 707h1v3h-1zM991 707h1v3h-1zM994 707h3v3h-3zM1000 707h1v3h-1zM1011 707h1v3h-1zM1018 708h3v1h-3zM1027 707h1v3h-1zM1056 707h3v3h-3zM758 709h3v3h-3zM798 710h3v1h-3zM824 709h3v3h-3zM828 709h3v3h-3zM834 709h3v1h-3zM850 709h3v3h-3zM854 709h3v3h-3zM856 709h1v3h-1zM882 709h3v3h-3zM884 709h3v3h-3zM890 709h3v1h-3zM896 709h1v3h-1zM906 709h1v3h-1zM922 709h3v3h-3zM928 709h3v3h-3zM946 709h3v3h-3zM954 709h3v3h-3zM964 709h3v3h-3zM968 709h3v3h-3zM972 709h3v3h-3zM976 709h3v3h-3zM992 709h3v3h-3zM1002 709h3v3h-3zM1005 709h1v3h-1zM1008 709h3v3h-3zM1010 709h3v3h-3zM1016 709h3v3h-3zM1018 709h3v1h-3zM1028 709h3v1h-3zM1042 709h3v3h-3zM758 711h3v1h-3zM796 711h3v3h-3zM808 711h3v3h-3zM812 711h3v1h-3zM815 711h1v3h-1zM816 711h3v3h-3zM824 711h3v3h-3zM832 711h3v3h-3zM842 711h3v3h-3zM848 711h1v3h-1zM854 711h1v3h-1zM860 711h1v3h-1zM862 711h3v3h-3zM878 711h1v3h-1zM894 712h3v1h-3zM900 711h3v3h-3zM906 711h3v3h-3zM923 711h1v3h-1zM964 711h3v1h-3zM974 711h1v3h-1zM980 711h3v3h-3zM997 711h1v3h-1zM1006 711h1v3h-1zM1008 711h3v3h-3zM1025 711h1v3h-1zM1072 711h3v3h-3zM778 714h3v1h-3zM793 713h1v3h-1zM796 713h3v3h-3zM802 714h3v1h-3zM810 713h1v3h-1zM832 713h3v3h-3zM844 713h3v3h-3zM858 713h1v3h-1zM866 713h3v3h-3zM880 713h1v3h-1zM882 713h3v3h-3zM910 713h3v3h-3zM922 713h3v3h-3zM930 713h3v1h-3zM942 713h3v3h-3zM948 713h3v3h-3zM954 713h3v3h-3zM962 713h3v3h-3zM972 713h3v3h-3zM976 713h1v3h-1zM982 713h3v1h-3zM984 713h1v3h-1zM996 713h3v3h-3zM998 713h3v3h-3zM1017 713h1v3h-1zM1020 713h3v3h-3zM1052 714h3v1h-3zM710 715h3v3h-3zM762 715h3v3h-3zM764 715h3v1h-3zM790 715h1v3h-1zM802 715h3v3h-3zM821 715h1v3h-1zM822 715h1v3h-1zM834 715h3v1h-3zM838 715h3v1h-3zM844 715h3v3h-3zM848 715h3v3h-3zM896 715h3v1h-3zM914 715h3v3h-3zM916 716h3v1h-3zM932 715h3v1h-3zM944 715h1v3h-1zM952 715h3v3h-3zM956 716h3v1h-3zM958 715h3v1h-3zM974 716h3v1h-3zM976 715h3v3h-3zM1000 715h3v3h-3zM1014 715h3v3h-3zM1022 716h3v1h-3zM1070 715h1v3h-1zM716 717h3v3h-3zM790 717h3v3h-3zM792 717h3v3h-3zM794 717h3v3h-3zM802 718h3v1h-3zM830 717h3v3h-3zM836 717h3v3h-3zM842 717h3v1h-3zM848 718h3v1h-3zM870 717h3v3h-3zM894 718h3v1h-3zM934 717h3v3h-3zM938 717h3v1h-3zM954 717h3v3h-3zM960 717h3v3h-3zM968 717h3v3h-3zM970 717h3v3h-3zM974 717h3v3h-3zM978 718h3v1h-3zM1000 717h3v3h-3zM1002 717h3v3h-3zM1011 717h1v3h-1zM1014 717h3v3h-3zM1018 718h3v1h-3zM1021 717h1v3h-1zM1028 717h3v3h-3zM1033 717h1v3h-1zM786 719h3v3h-3zM792 719h3v3h-3zM800 719h1v3h-1zM808 719h3v3h-3zM818 719h3v3h-3zM820 719h3v3h-3zM822 719h3v3h-3zM826 719h3v3h-3zM828 719h3v1h-3zM848 719h3v3h-3zM882 719h3v3h-3zM906 720h3v1h-3zM914 719h3v3h-3zM928 719h3v1h-3zM936 719h3v1h-3zM941 719h1v3h-1zM948 719h1v3h-1zM952 719h3v1h-3zM958 719h1v3h-1zM960 720h3v1h-3zM972 719h3v3h-3zM980 720h3v1h-3zM988 719h3v3h-3zM995 719h1v3h-1zM997 719h1v3h-1zM998 719h3v3h-3zM1006 720h3v1h-3zM722 721h3v3h-3zM770 721h1v3h-1zM774 721h3v1h-3zM792 722h3v1h-3zM800 721h3v3h-3zM804 721h3v3h-3zM814 721h1v3h-1zM820 722h3v1h-3zM824 721h1v3h-1zM858 721h3v3h-3zM922 721h1v3h-1zM932 721h3v3h-3zM936 721h3v1h-3zM945 721h1v3h-1zM946 721h1v3h-1zM948 721h3v3h-3zM962 721h3v3h-3zM968 721h3v3h-3zM970 722h3v1h-3zM978 721h3v3h-3zM980 721h3v3h-3zM982 721h3v3h-3zM990 721h3v3h-3zM1000 721h3v3h-3zM1012 721h3v3h-3zM1036 721h3v3h-3zM1048 721h3v3h-3zM756 723h3v3h-3zM772 724h3v1h-3zM800 723h1v3h-1zM810 723h3v3h-3zM834 723h3v3h-3zM866 723h3v3h-3zM900 723h3v3h-3zM912 724h3v1h-3zM914 723h3v1h-3zM916 724h3v1h-3zM932 724h3v1h-3zM972 723h3v1h-3zM990 723h3v3h-3zM994 723h3v3h-3zM1008 723h3v3h-3zM1012 723h3v3h-3zM1039 723h1v3h-1zM753 725h1v3h-1zM778 725h1v3h-1zM788 725h3v3h-3zM798 725h3v3h-3zM808 726h3v1h-3zM818 725h3v3h-3zM852 725h3v3h-3zM895 725h1v3h-1zM930 726h3v1h-3zM946 725h3v3h-3zM950 725h3v3h-3zM954 725h3v3h-3zM960 725h1v3h-1zM966 725h1v3h-1zM968 725h3v3h-3zM971 725h1v3h-1zM978 725h3v1h-3zM980 725h3v3h-3zM992 725h3v1h-3zM1002 725h1v3h-1zM1004 725h3v3h-3zM1016 726h3v1h-3zM1026 725h3v3h-3zM776 727h3v3h-3zM795 727h1v3h-1zM802 728h3v1h-3zM830 727h1v3h-1zM832 727h3v3h-3zM846 727h3v3h-3zM922 727h3v3h-3zM931 727h1v3h-1zM934 727h3v3h-3zM948 727h3v3h-3zM980 727h1v3h-1zM986 727h3v1h-3zM990 727h3v1h-3zM998 727h3v3h-3zM1020 727h3v3h-3zM1022 727h3v3h-3zM1035 727h1v3h-1zM696 729h3v3h-3zM769 729h1v3h-1zM776 730h3v1h-3zM784 729h3v1h-3zM786 729h3v1h-3zM796 730h3v1h-3zM802 729h3v3h-3zM804 729h3v3h-3zM814 729h3v3h-3zM824 729h3v3h-3zM828 729h3v1h-3zM902 730h3v1h-3zM905 729h1v3h-1zM918 729h3v1h-3zM928 730h3v1h-3zM942 729h3v3h-3zM945 729h1v3h-1zM950 729h3v1h-3zM956 729h1v3h-1zM960 729h3v3h-3zM962 729h3v3h-3zM972 729h3v3h-3zM974 729h3v1h-3zM976 729h3v3h-3zM980 729h3v3h-3zM984 729h3v3h-3zM994 730h3v1h-3zM998 729h3v1h-3zM1012 729h3v1h-3zM1017 729h1v3h-1zM1024 729h3v3h-3zM762 731h3v3h-3zM766 732h3v1h-3zM771 731h1v3h-1zM778 731h1v3h-1zM782 732h3v1h-3zM796 731h1v3h-1zM806 731h3v3h-3zM810 731h3v3h-3zM922 732h3v1h-3zM938 732h3v1h-3zM946 732h3v1h-3zM948 731h3v3h-3zM958 731h3v3h-3zM966 731h3v1h-3zM968 731h3v1h-3zM974 731h3v1h-3zM980 731h1v3h-1zM982 731h3v3h-3zM990 731h3v3h-3zM1002 731h3v1h-3zM1004 731h3v1h-3zM1007 731h1v3h-1zM1008 731h3v3h-3zM1038 732h3v1h-3zM1044 731h3v3h-3zM704 733h3v3h-3zM724 734h3v1h-3zM736 733h3v3h-3zM753 733h1v3h-1zM772 733h3v1h-3zM779 733h1v3h-1zM781 733h1v3h-1zM784 734h3v1h-3zM786 733h3v3h-3zM792 733h3v3h-3zM823 733h1v3h-1zM870 733h3v3h-3zM896 733h3v3h-3zM926 733h3v3h-3zM936 734h3v1h-3zM940 733h3v3h-3zM950 733h3v3h-3zM956 733h3v1h-3zM962 733h3v3h-3zM978 733h3v1h-3zM992 733h3v1h-3zM1004 733h3v3h-3zM1024 733h3v3h-3zM774 735h3v3h-3zM792 736h3v1h-3zM800 736h3v1h-3zM802 735h3v1h-3zM816 735h1v3h-1zM886 736h3v1h-3zM892 735h1v3h-1zM912 735h3v3h-3zM918 735h3v3h-3zM930 735h3v3h-3zM934 735h3v3h-3zM936 735h3v3h-3zM948 735h3v3h-3zM959 735h1v3h-1zM980 735h3v3h-3zM982 735h3v1h-3zM988 735h3v3h-3zM996 735h3v3h-3zM998 735h3v3h-3zM1008 736h3v1h-3zM1010 736h3v1h-3zM1018 735h3v3h-3zM1026 736h3v1h-3zM1046 736h3v1h-3zM708 738h3v1h-3zM768 737h3v3h-3zM774 737h1v3h-1zM784 737h3v3h-3zM798 737h3v1h-3zM800 737h3v3h-3zM802 738h3v1h-3zM810 737h3v3h-3zM812 737h3v3h-3zM844 737h3v3h-3zM851 737h1v3h-1zM914 737h3v3h-3zM925 737h1v3h-1zM932 737h3v3h-3zM934 737h3v3h-3zM938 737h3v1h-3zM946 737h3v3h-3zM954 738h3v1h-3zM962 738h3v1h-3zM980 737h1v3h-1zM987 737h1v3h-1zM992 737h3v3h-3zM994 737h3v1h-3zM1022 737h3v1h-3zM1025 737h1v3h-1zM740 739h3v1h-3zM762 739h3v3h-3zM774 740h3v1h-3zM791 739h1v3h-1zM802 739h3v3h-3zM810 739h3v1h-3zM902 739h3v3h-3zM908 740h3v1h-3zM924 739h3v3h-3zM930 740h3v1h-3zM970 740h3v1h-3zM1004 739h3v1h-3zM1016 740h3v1h-3zM1068 739h3v1h-3zM716 741h3v1h-3zM784 741h3v1h-3zM786 741h1v3h-1zM792 741h3v3h-3zM794 741h3v3h-3zM808 741h1v3h-1zM834 741h3v3h-3zM836 741h3v3h-3zM848 741h3v1h-3zM856 742h3v1h-3zM907 741h1v3h-1zM908 741h3v3h-3zM915 741h1v3h-1zM916 741h3v3h-3zM920 742h3v1h-3zM938 741h3v3h-3zM944 742h3v1h-3zM946 742h3v1h-3zM950 741h3v3h-3zM978 741h3v3h-3zM992 741h3v3h-3zM995 741h1v3h-1zM1002 741h3v1h-3zM1005 741h1v3h-1zM1010 742h3v1h-3zM1012 741h3v1h-3zM1014 741h3v3h-3zM1018 741h3v3h-3zM1032 741h1v3h-1zM774 743h3v3h-3zM785 743h1v3h-1zM790 743h3v3h-3zM793 743h1v3h-1zM796 743h3v3h-3zM800 743h3v3h-3zM806 743h1v3h-1zM816 743h3v3h-3zM828 743h3v3h-3zM832 744h3v1h-3zM846 743h3v1h-3zM864 743h3v3h-3zM902 743h3v3h-3zM910 743h3v3h-3zM912 743h3v3h-3zM914 743h3v1h-3zM918 743h3v1h-3zM920 743h3v3h-3zM922 743h3v1h-3zM924 743h3v3h-3zM930 743h1v3h-1zM932 743h3v3h-3zM940 743h1v3h-1zM945 743h1v3h-1zM988 743h3v3h-3zM1002 743h3v3h-3zM1010 743h3v3h-3zM1015 743h1v3h-1zM1016 743h3v3h-3zM1020 744h3v1h-3zM1038 743h3v3h-3zM738 745h3v3h-3zM762 746h3v1h-3zM776 745h1v3h-1zM791 745h1v3h-1zM804 745h3v3h-3zM806 746h3v1h-3zM810 745h3v3h-3zM826 745h3v3h-3zM838 745h3v3h-3zM846 745h3v3h-3zM874 745h3v3h-3zM890 745h3v1h-3zM902 745h3v3h-3zM940 745h3v3h-3zM942 745h3v3h-3zM946 745h3v3h-3zM954 745h3v1h-3zM970 745h3v3h-3zM976 746h3v1h-3zM984 745h3v3h-3zM987 745h1v3h-1zM988 745h3v3h-3zM990 745h3v1h-3zM994 745h3v3h-3zM998 745h3v3h-3zM1025 745h1v3h-1zM1033 745h1v3h-1zM1035 745h1v3h-1zM1042 745h3v1h-3zM746 747h1v3h-1zM785 747h1v3h-1zM794 748h3v1h-3zM802 747h3v3h-3zM812 747h3v3h-3zM818 748h3v1h-3zM820 747h1v3h-1zM861 747h1v3h-1zM870 747h3v3h-3zM874 748h3v1h-3zM886 747h3v3h-3zM904 748h3v1h-3zM908 747h3v3h-3zM914 747h1v3h-1zM918 748h3v1h-3zM923 747h1v3h-1zM924 747h3v1h-3zM938 747h3v3h-3zM956 747h3v3h-3zM965 747h1v3h-1zM970 747h3v3h-3zM988 747h3v3h-3zM1006 748h3v1h-3zM1010 747h3v3h-3zM1018 747h3v3h-3zM1020 747h3v3h-3zM1022 747h1v3h-1zM750 749h1v3h-1zM786 750h3v1h-3zM792 749h3v3h-3zM812 749h3v3h-3zM818 750h3v1h-3zM826 749h3v3h-3zM854 749h1v3h-1zM880 749h3v3h-3zM888 749h1v3h-1zM898 749h3v3h-3zM902 749h3v3h-3zM914 749h3v3h-3zM916 749h3v3h-3zM923 749h1v3h-1zM930 749h3v3h-3zM937 749h1v3h-1zM958 749h3v3h-3zM964 749h3v1h-3zM750 751h3v3h-3zM756 751h3v1h-3zM767 751h1v3h-1zM768 751h1v3h-1zM782 752h3v1h-3zM806 752h3v1h-3zM808 751h3v3h-3zM817 751h1v3h-1zM820 751h3v3h-3zM848 751h3v3h-3zM852 751h3v3h-3zM860 751h3v3h-3zM864 751h3v3h-3zM866 752h3v1h-3zM868 752h3v1h-3zM892 751h3v3h-3zM916 751h3v1h-3zM928 751h3v3h-3zM940 751h3v3h-3zM950 751h3v3h-3zM962 751h3v3h-3zM966 751h3v3h-3zM969 751h1v3h-1zM974 752h3v1h-3zM988 751h3v3h-3zM991 751h1v3h-1zM1020 751h3v3h-3zM1038 751h3v3h-3zM1052 752h3v1h-3zM1074 751h3v1h-3zM737 753h1v3h-1zM764 753h3v3h-3zM774 753h3v3h-3zM792 753h1v3h-1zM796 753h3v3h-3zM801 753h1v3h-1zM804 753h3v1h-3zM818 753h1v3h-1zM820 753h3v3h-3zM833 753h1v3h-1zM842 754h3v1h-3zM844 753h3v3h-3zM850 753h3v3h-3zM853 753h1v3h-1zM854 754h3v1h-3zM864 753h3v3h-3zM866 753h3v3h-3zM871 753h1v3h-1zM872 753h1v3h-1zM884 753h3v3h-3zM886 753h3v3h-3zM890 753h3v3h-3zM893 753h1v3h-1zM894 753h3v3h-3zM906 753h1v3h-1zM920 754h3v1h-3zM930 753h3v3h-3zM932 753h1v3h-1zM942 753h3v3h-3zM948 754h3v1h-3zM950 753h3v1h-3zM992 753h3v3h-3zM1037 753h1v3h-1zM778 755h3v3h-3zM784 755h3v3h-3zM807 755h1v3h-1zM808 755h1v3h-1zM817 755h1v3h-1zM858 756h3v1h-3zM864 755h1v3h-1zM870 755h3v3h-3zM874 755h3v3h-3zM878 755h3v3h-3zM880 755h3v3h-3zM908 755h3v1h-3zM912 755h3v3h-3zM944 755h3v3h-3zM948 755h3v3h-3zM960 755h3v3h-3zM964 756h3v1h-3zM976 755h3v3h-3zM978 755h3v3h-3zM982 755h3v3h-3zM984 755h3v3h-3zM1008 755h3v3h-3zM740 757h3v1h-3zM745 757h1v3h-1zM794 757h3v3h-3zM799 757h1v3h-1zM812 757h3v3h-3zM822 757h3v3h-3zM834 757h3v3h-3zM839 757h1v3h-1zM848 757h3v3h-3zM860 757h3v3h-3zM882 758h3v1h-3zM900 757h1v3h-1zM904 757h3v3h-3zM914 757h3v1h-3zM916 757h1v3h-1zM934 757h3v3h-3zM940 757h1v3h-1zM942 757h3v3h-3zM952 757h3v3h-3zM966 757h1v3h-1zM968 757h1v3h-1zM972 757h3v3h-3zM992 757h3v3h-3zM1005 757h1v3h-1zM1010 757h3v3h-3zM1014 757h3v3h-3zM1030 758h3v1h-3zM828 759h3v3h-3zM830 759h3v3h-3zM832 759h3v1h-3zM838 760h3v1h-3zM862 759h3v3h-3zM866 759h3v3h-3zM882 759h3v3h-3zM886 759h1v3h-1zM898 759h3v3h-3zM914 759h3v3h-3zM931 759h1v3h-1zM946 759h3v1h-3zM952 759h3v1h-3zM954 759h3v3h-3zM966 759h3v3h-3zM1018 759h3v3h-3zM1050 759h3v1h-3zM1070 759h1v3h-1zM787 761h1v3h-1zM793 761h1v3h-1zM810 761h3v1h-3zM838 761h3v3h-3zM848 762h3v1h-3zM860 761h1v3h-1zM876 761h1v3h-1zM884 761h3v3h-3zM902 761h3v3h-3zM904 761h3v3h-3zM916 761h3v3h-3zM950 761h3v1h-3zM960 762h3v1h-3zM1004 761h3v3h-3zM1010 761h3v3h-3zM1021 761h1v3h-1zM730 764h3v1h-3zM789 763h1v3h-1zM812 763h3v3h-3zM820 763h3v3h-3zM842 763h3v3h-3zM850 763h3v3h-3zM862 764h3v1h-3zM872 763h3v1h-3zM908 763h3v1h-3zM910 763h3v1h-3zM916 763h3v3h-3zM924 763h3v1h-3zM958 764h3v1h-3zM1000 763h3v3h-3zM700 765h3v3h-3zM743 765h1v3h-1zM766 765h3v3h-3zM784 765h3v3h-3zM803 765h1v3h-1zM822 765h3v3h-3zM828 765h3v3h-3zM840 765h3v3h-3zM858 766h3v1h-3zM868 765h3v3h-3zM878 765h3v3h-3zM906 765h3v3h-3zM916 765h3v3h-3zM918 766h3v1h-3zM936 765h3v3h-3zM981 765h1v3h-1zM1002 765h3v3h-3zM846 768h3v1h-3zM879 767h1v3h-1zM898 767h3v3h-3zM908 767h3v1h-3zM912 767h1v3h-1zM950 767h3v3h-3zM955 767h1v3h-1zM1009 767h1v3h-1zM1059 767h1v3h-1zM738 769h3v3h-3zM878 769h3v3h-3zM884 769h1v3h-1zM891 769h1v3h-1zM911 769h1v3h-1zM996 769h3v3h-3zM1011 769h1v3h-1zM702 771h3v3h-3zM740 772h3v1h-3zM804 771h3v3h-3zM824 771h3v3h-3zM830 771h3v3h-3zM834 771h1v3h-1zM840 771h3v3h-3zM884 771h3v1h-3zM906 771h3v1h-3zM946 771h3v1h-3zM952 771h1v3h-1zM1038 771h3v1h-3zM1046 771h3v3h-3zM838 773h3v3h-3zM851 773h1v3h-1zM873 773h1v3h-1zM996 773h3v1h-3zM824 776h3v1h-3zM828 776h3v1h-3zM842 775h3v3h-3zM850 775h1v3h-1zM878 776h3v1h-3zM966 775h3v3h-3zM984 775h3v3h-3zM842 777h3v1h-3zM1004 777h3v3h-3zM799 779h1v3h-1zM955 779h1v3h-1zM990 779h1v3h-1zM722 781h3v1h-3zM794 781h3v3h-3zM802 782h3v1h-3zM878 781h3v3h-3zM920 782h3v1h-3zM954 781h1v3h-1zM1022 781h3v3h-3zM760 784h3v1h-3zM808 784h3v1h-3zM827 783h1v3h-1zM862 783h1v3h-1zM946 784h3v1h-3zM986 783h3v3h-3zM890 785h3v3h-3zM970 785h3v3h-3zM978 785h3v1h-3zM755 787h1v3h-1zM830 787h1v3h-1zM932 790h3v1h-3zM970 790h3v1h-3zM994 790h3v1h-3zM1002 789h3v3h-3zM1013 791h1v3h-1zM862 793h3v3h-3zM984 795h3v1h-3zM886 797h1v3h-1zM816 800h3v1h-3zM964 799h3v3h-3zM764 801h3v3h-3zM918 802h3v1h-3zM715 809h1v3h-1zM764 812h3v1h-3zM816 817h3v1h-3zM720 819h1v3h-1zM946 821h3v3h-3zM900 843h3v3h-3zM754 849h3v1h-3zM770 853h3v3h-3zM1022 855h3v3h-3z" fill="#24419c"/>
<path d="M1036.0 562.0h2m16 24h2m-8 4h2m-28 8h2m-22 8h2m-34 44h2m-84 30h2m122 0h2m-106 6h2m-24 2h2m-14 6h2m14 0h2m98 2h2m-86 2h2m-24 2h2m4 0h2m86 0h2m-84 4h2m16 0h2m-6 2h2m82 0h2m-152 2h2m18 0h2m-6 2h2m14 2h2m12 0h2m24 0h2m-64 2h2m12 0h2m38 0h2m-12 2h2m22 0h2m-48 2h2m-56 4h2m10 0h2m38 0h2m2 0h2m-34 2h2m86 0h2m-46 2h2m26 0h2m24 0h2m-60 2h2m44 0h2m-100 2h2m58 0h2m-104 2h2m20 0h2m42 0h2m-46 2h2m78 0h2m42 0h2m-56 2h2m-70 2h2m-30 2h2m106 0h2m-54 2h2m44 0h2m4 0h2m-118 2h2m40 0h2m6 0h2m12 0h2m26 0h2m-60 2h2m16 0h2m4 2h2m4 0h2m22 0h2m26 0h2m76 0h2m-130 2h2m-12 2h2m-4 10h2" stroke="#6bc7b5" stroke-width="2" fill="none"/>
<path d="M1016.0 560.0h2m8 4h2m6 0h2m-16 6h2m8 4h2m-2 2h2m-8 2h2m20 0h2m-22 2h2m8 0h2m10 0h2m-40 2h4m2 0h2m8 0h2m-10 2h2m44 0h2m-20 2h2m-38 2h2m32 0h2m-44 2h2m4 0h2m8 2h2m10 0h2m0 2h2m6 0h4m-28 2h2m2 0h4m8 0h2m-30 4h2m12 0h2m12 0h2m30 0h2m-56 2h2m18 0h2m-20 2h4m4 0h2m4 0h2m-8 2h2m8 0h2m-34 2h2m16 0h4m18 0h2m-18 2h4m-16 4h4m2 0h2m2 2h2m12 0h2m-28 2h2m30 0h2m-38 8h2m-2 2h2m-28 2h2m14 6h2m16 0h2m6 0h2m-14 2h2m-46 2h2m38 2h2m2 6h2m20 0h2m-36 2h2m-74 2h2m32 0h2m60 0h2m8 2h2m-38 2h2m-98 2h2m106 0h2m-152 2h2m58 2h2m92 0h2m-140 2h2m120 0h2m6 0h2m-8 2h2m2 0h2m14 0h2m-128 2h2m108 2h4m-6 2h4m14 0h2m-164 2h2m44 0h2m20 0h2m70 0h2m20 0h2m18 0h4m-176 2h2m14 0h2m-26 2h2m16 2h2m2 0h2m10 0h2m24 0h2m52 0h2m26 0h2m4 0h2m-136 2h2m18 0h2m28 0h6m62 0h2m-136 2h2m30 0h2m22 0h2m66 0h2m2 0h2m-130 2h2m6 0h2m4 0h2m46 0h2m16 0h2m12 0h2m38 0h2m30 0h2m-172 2h2m10 0h2m34 0h2m6 0h2m6 0h2m28 0h2m36 0h2m-146 2h2m20 0h2m2 0h2m30 0h2m12 0h4m2 0h4m28 0h2m4 0h2m38 0h4m6 0h2m6 0h2m2 0h2m-164 2h2m2 0h2m12 0h2m12 0h2m8 0h4m90 0h2m-150 2h2m64 0h2m80 0h2m2 0h2m-168 2h2m4 0h2m26 0h2m10 0h2m4 0h2m4 0h2m10 0h2m12 0h2m8 0h2m6 0h2m48 0h2m12 0h2m2 0h2m6 0h2m-162 2h2m6 0h4m12 0h2m8 0h2m134 0h2m-190 2h2m22 0h2m4 0h2m12 0h2m8 0h2m4 0h2m22 0h2m10 0h2m2 0h2m54 0h2m16 0h2m-176 2h2m22 0h2m68 0h2m82 0h2m-178 2h2m10 0h2m22 0h4m12 0h2m2 0h2m28 0h2m2 0h4m20 0h4m46 0h2m12 0h2m-180 2h2m8 0h4m10 0h2m8 0h4m16 0h2m14 0h4m40 0h2m36 0h2m22 0h2m-180 2h2m12 0h2m10 0h2m6 0h2m2 0h2m2 0h2m2 0h2m4 0h2m8 0h4m6 0h6m2 0h2m4 0h2m50 0h2m20 0h2m18 0h2m-180 2h2m4 0h2m2 0h2m4 0h2m14 0h2m8 0h4m2 0h2m12 0h4m4 0h6m2 0h2m14 0h2m8 0h2m58 0h6m6 0h2m12 0h2m4 0h2m-206 2h2m4 0h2m16 0h2m8 0h4m10 0h2m2 0h2m12 0h2m6 0h4m4 0h2m14 0h2m20 0h2m4 0h2m70 0h2m-194 2h2m6 0h2m4 0h2m2 0h2m8 0h2m4 0h4m8 0h2m14 0h2m28 0h2m22 0h2m42 0h2m20 0h2m-194 2h2m4 0h2m10 0h2m12 0h8m4 0h4m2 0h2m8 0h10m14 0h2m2 0h2m12 0h2m6 0h2m16 0h2m20 0h2m8 0h2m24 0h2m20 0h2m-208 2h2m12 0h2m18 0h4m2 0h4m2 0h2m10 0h2m4 0h2m4 0h4m6 0h2m2 0h4m2 0h2m4 0h2m4 0h4m4 0h2m20 0h2m32 0h2m18 0h2m8 0h2m8 0h2m-216 2h2m16 0h2m2 0h2m2 0h2m2 0h4m14 0h2m6 0h2m2 0h4m8 0h2m2 0h2m2 0h6m4 0h2m6 0h2m4 0h2m2 0h4m2 0h2m10 0h2m2 0h2m42 0h2m2 0h2m-204 2h2m18 0h2m6 0h2m10 0h2m6 0h2m16 0h2m4 0h2m2 0h10m2 0h2m2 0h4m10 0h2m2 0h4m10 0h4m2 0h2m6 0h2m6 0h2m6 0h2m20 0h2m-154 2h2m8 0h6m2 0h2m4 0h2m10 0h2m2 0h2m18 0h4m14 0h2m10 0h2m2 0h2m14 0h4m16 0h2m6 0h4m4 0h2m24 0h2m-190 2h2m18 0h2m16 0h2m4 0h2m20 0h2m2 0h2m2 0h2m16 0h2m2 0h2m4 0h2m2 0h2m10 0h2m6 0h8m4 0h2m2 0h6m4 0h2m36 0h2m-182 2h2m16 0h4m6 0h2m2 0h2m4 0h2m10 0h2m6 0h2m2 0h2m6 0h2m2 0h4m8 0h2m2 0h4m6 0h4m2 0h2m2 0h2m2 0h2m2 0h2m12 0h2m4 0h2m6 0h2m20 0h4m24 0h2m10 0h2m-236 2h2m26 0h6m4 0h2m2 0h2m2 0h2m10 0h4m12 0h2m2 0h2m32 0h2m2 0h2m12 0h4m10 0h2m6 0h2m4 0h2m-142 2h8m6 0h2m2 0h4m6 0h2m2 0h2m34 0h2m36 0h2m4 0h6m10 0h4m6 0h2m4 0h2m74 0h2m-220 2h2m8 0h2m4 0h6m4 0h4m4 0h4m26 0h2m2 0h2m4 0h2m12 0h2m2 0h2m4 0h4m2 0h4m14 0h4m4 0h4m8 0h2m4 0h2m18 0h2m14 0h2m42 0h2m-254 2h2m32 0h2m2 0h2m2 0h2m8 0h4m4 0h2m4 0h2m12 0h2m18 0h2m22 0h2m8 0h2m8 0h2m2 0h2m2 0h2m10 0h2m50 0h2m-198 2h2m22 0h2m2 0h2m14 0h2m24 0h6m14 0h2m4 0h2m14 0h2m2 0h2m6 0h2m4 0h2m20 0h2m14 0h4m-186 2h2m2 0h2m28 0h2m2 0h2m2 0h2m24 0h4m10 0h2m18 0h2m2 0h6m4 0h2m4 0h2m4 0h2m4 0h8m12 0h2m50 0h2m12 0h2m-214 2h2m12 0h4m2 0h2m2 0h2m2 0h4m40 0h2m10 0h4m16 0h2m6 0h4m6 0h2m18 0h2m38 0h2m-188 2h2m38 0h2m14 0h2m4 0h4m18 0h2m2 0h2m28 0h2m10 0h2m10 0h2m48 0h2m-202 2h2m20 0h2m14 0h4m16 0h2m2 0h6m12 0h2m2 0h2m12 0h2m8 0h2m6 0h2m-100 2h2m24 0h2m4 0h4m34 0h2m12 0h2m2 0h2m2 0h2m4 0h2m10 0h2m4 0h2m6 0h2m46 0h2m30 0h2m-186 2h2m2 0h4m6 0h2m2 0h2m4 0h2m2 0h2m4 0h2m4 0h4m6 0h2m6 0h2m6 0h4m8 0h2m10 0h4m-88 2h2m10 0h2m10 0h2m2 0h2m4 0h2m28 0h2m12 0h2m68 0h2m-160 2h2m2 0h2m4 0h2m6 0h2m26 0h2m14 0h2m2 0h4m-70 2h2m10 0h2m4 0h2m2 0h2m4 0h2m8 0h2m8 0h2m14 0h2m4 0h2m40 0h2m-52 2h2m12 0h2m-50 2h2m-40 2h2m48 0h2m-80 2h2" stroke="#6cbd46" stroke-width="2" fill="none"/>
<path d="M1028.0 586.0h2m-4 6h2m-28 56h2m-132 28h2m30 0h2m-26 8h2m2 0h2m28 10h2m-20 2h2m108 0h2m-118 2h2m10 4h2m-12 2h2m0 2h4m-18 2h2m14 0h2m-52 2h2m22 0h2m16 0h2m-16 2h2m-24 2h2m8 0h2m52 0h2m10 0h2m-102 2h2m62 0h2m16 0h2m82 0h2m-122 2h2m6 0h2m-46 2h2m18 0h2m12 0h2m32 0h2m-62 2h2m4 0h2m72 0h2m-112 2h2m12 0h2m10 0h2m2 0h2m14 0h2m8 0h2m22 0h2m22 0h2m8 0h2m-106 2h2m20 0h6m16 0h2m2 0h4m24 0h2m4 0h2m2 0h2m-76 2h2m62 0h4m22 0h2m-84 2h2m2 0h4m8 0h2m6 0h2m18 0h2m16 0h2m6 0h2m10 0h2m2 0h2m-108 2h2m42 0h4m26 0h2m6 0h2m22 0h2m-84 2h2m28 0h2m22 0h2m8 0h2m20 0h2m-104 2h2m4 0h2m4 0h2m2 0h2m2 0h2m18 0h2m8 0h2m30 0h4m4 0h2m-134 2h2m44 0h2m10 0h2m12 0h2m40 0h2m16 0h2m-98 2h4m2 0h4m22 0h4m-38 2h2m6 0h2m66 0h2m50 0h2m-146 2h2m28 0h4m52 0h2m10 0h4m-86 2h2m2 0h2m22 0h2m10 0h2m4 0h4m8 0h4m-86 2h2m32 0h2m4 0h2m8 0h2m20 0h2m2 0h2m20 0h2m-92 2h2m32 0h2m18 0h2m10 2h2m26 2h2" stroke="#a9cf3a" stroke-width="2" fill="none"/>
<path d="M1032.0 572.0h2m-10 18h2m-16 62h2m-136 32h2m-4 22h2m-18 4h2m22 2h2m34 2h2m-32 2h2m10 0h2m-44 2h2m8 0h2m38 0h2m10 0h2m-98 2h2m24 0h2m10 0h2m2 0h2m8 0h2m12 0h2m-6 2h4m14 0h2m2 0h2m-94 2h2m20 0h2m16 0h4m18 0h2m6 0h2m4 0h2m-68 2h2m2 0h2m6 0h2m42 0h2m2 0h2m8 0h2m-82 2h2m32 0h2m26 0h2m4 0h2m32 0h2m-68 2h2m2 0h2m8 0h2m-48 2h2m10 0h6m14 0h2m6 0h2m12 0h2m24 0h2m16 0h2m-112 2h2m46 0h2m2 0h2m4 0h2m8 0h2m4 0h4m-64 2h2m10 0h2m26 0h2m4 0h2m4 0h2m2 0h2m22 0h2m-86 2h2m10 0h2m2 0h2m36 0h2m2 0h2m2 0h4m6 0h2m18 0h2m4 0h4m-90 2h2m6 0h2m22 0h2m8 0h2m2 0h2m2 0h2m4 0h2m-66 2h2m6 0h2m6 0h2m10 0h6m4 0h2m4 0h2m10 0h2m6 0h4m-38 2h2m8 0h2m4 0h2m6 0h2m2 0h4m-54 2h2m16 0h2m16 0h2m10 0h2m30 0h2m-80 2h2m12 0h4m12 0h2m18 0h2m-46 2h2m24 0h2m-38 2h2" stroke="#f7e219" stroke-width="2" fill="none"/>
<path d="M864.0 712.0h2m4 2h4m18 0h2m-20 2h2m-24 2h2m58 0h2m-60 2h2m22 0h2m-40 2h2m6 0h2m2 0h2m2 0h2m26 0h2m-32 2h2m8 0h2m14 0h2m6 0h2m14 0h2m2 0h2m10 0h2m-80 2h2m20 0h2m10 0h2m26 0h2m-46 2h2m8 0h2m16 0h2m4 0h2m-66 2h2m4 0h2m26 0h2m14 0h2m2 0h2m12 0h2m-52 2h2m4 0h2m6 0h4m26 0h2m8 0h2m4 0h2m-30 2h2m28 0h2m-104 2h2m16 0h2m12 0h2m8 0h2m2 0h2m8 0h2m24 0h2m6 0h2m-96 2h2m32 0h2m6 0h2m4 0h2m4 0h4m34 0h6m4 0h2m-94 2h2m20 0h2m2 0h2m2 0h4m6 0h4m16 0h2m18 0h2m4 0h2m-32 2h4m8 0h2m14 0h2m-64 2h2m16 0h2m2 0h2m-26 2h2m44 0h2m-54 4h2m12 2h2m14 0h2" stroke="#f58b22" stroke-width="2" fill="none"/>
<path d="M908.0 712.0h2m-12 6h2m-8 4h2m-32 2h2m4 0h2m6 0h2m4 0h4m10 0h4m-64 2h2m6 0h2m10 0h6m18 0h2m26 0h2m-68 2h2m4 0h2m2 0h2m4 0h2m2 0h2m2 0h2m4 0h4m14 0h2m-50 2h2m2 0h2m14 0h2m6 0h2m2 0h6m2 0h2m2 0h2m2 0h2m8 0h2m14 0h2m-80 2h6m6 0h2m20 0h2m2 0h4m4 0h6m4 0h4m-66 2h2m4 0h10m2 0h6m2 0h2m12 0h2m12 0h2m2 0h2m16 0h2m10 0h2m-76 2h2m10 0h4m4 0h2m2 0h2m16 0h2m4 0h2m-74 2h2m18 0h2m10 0h4m6 0h2m8 0h2m2 0h2m8 0h2m4 0h2m-54 2h2m4 0h2m16 0h2m2 0h2m-30 2h2m20 0h2m2 0h2m10 0h2m-22 2h2m26 0h2m-40 2h2m2 0h2m-2 2h2" stroke="#e8262a" stroke-width="2" fill="none"/>
<rect x="946.60" y="491.40" width="2.20" height="433.00" fill="#000"/>
<rect x="687.90" y="610.08" width="433.00" height="2.00" fill="#000"/>
<rect x="685.70" y="489.80" width="3.20" height="436.20" fill="#000"/>
<rect x="1120.20" y="489.80" width="3.20" height="436.20" fill="#000"/>
<rect x="685.70" y="489.80" width="437.70" height="3.20" fill="#000"/>
<rect x="685.70" y="924.90" width="437.70" height="3.40" fill="#000"/>
<rect x="685.70" y="924.40" width="3.20" height="3.90" fill="#000"/>
<rect x="1120.20" y="924.40" width="3.20" height="3.90" fill="#000"/>
<rect x="679.20" y="923.40" width="8.10" height="2.00" fill="#000"/>
<rect x="683.20" y="897.63" width="4.10" height="1.40" fill="#000"/>
<rect x="683.20" y="882.38" width="4.10" height="1.40" fill="#000"/>
<rect x="683.20" y="871.56" width="4.10" height="1.40" fill="#000"/>
<rect x="681.20" y="863.17" width="6.10" height="1.40" fill="#000"/>
<rect x="683.20" y="856.31" width="4.10" height="1.40" fill="#000"/>
<rect x="683.20" y="850.51" width="4.10" height="1.40" fill="#000"/>
<rect x="683.20" y="845.49" width="4.10" height="1.40" fill="#000"/>
<rect x="683.20" y="841.06" width="4.10" height="1.40" fill="#000"/>
<rect x="679.20" y="836.80" width="8.10" height="2.00" fill="#000"/>
<rect x="683.20" y="811.03" width="4.10" height="1.40" fill="#000"/>
<rect x="683.20" y="795.78" width="4.10" height="1.40" fill="#000"/>
<rect x="683.20" y="784.96" width="4.10" height="1.40" fill="#000"/>
<rect x="681.20" y="776.57" width="6.10" height="1.40" fill="#000"/>
<rect x="683.20" y="769.71" width="4.10" height="1.40" fill="#000"/>
<rect x="683.20" y="763.91" width="4.10" height="1.40" fill="#000"/>
<rect x="683.20" y="758.89" width="4.10" height="1.40" fill="#000"/>
<rect x="683.20" y="754.46" width="4.10" height="1.40" fill="#000"/>
<rect x="679.20" y="750.20" width="8.10" height="2.00" fill="#000"/>
<rect x="683.20" y="724.43" width="4.10" height="1.40" fill="#000"/>
<rect x="683.20" y="709.18" width="4.10" height="1.40" fill="#000"/>
<rect x="683.20" y="698.36" width="4.10" height="1.40" fill="#000"/>
<rect x="681.20" y="689.97" width="6.10" height="1.40" fill="#000"/>
<rect x="683.20" y="683.11" width="4.10" height="1.40" fill="#000"/>
<rect x="683.20" y="677.31" width="4.10" height="1.40" fill="#000"/>
<rect x="683.20" y="672.29" width="4.10" height="1.40" fill="#000"/>
<rect x="683.20" y="667.86" width="4.10" height="1.40" fill="#000"/>
<rect x="679.20" y="663.60" width="8.10" height="2.00" fill="#000"/>
<rect x="683.20" y="637.83" width="4.10" height="1.40" fill="#000"/>
<rect x="683.20" y="622.58" width="4.10" height="1.40" fill="#000"/>
<rect x="683.20" y="611.76" width="4.10" height="1.40" fill="#000"/>
<rect x="681.20" y="603.37" width="6.10" height="1.40" fill="#000"/>
<rect x="683.20" y="596.51" width="4.10" height="1.40" fill="#000"/>
<rect x="683.20" y="590.71" width="4.10" height="1.40" fill="#000"/>
<rect x="683.20" y="585.69" width="4.10" height="1.40" fill="#000"/>
<rect x="683.20" y="581.26" width="4.10" height="1.40" fill="#000"/>
<rect x="679.20" y="577.00" width="8.10" height="2.00" fill="#000"/>
<rect x="683.20" y="551.23" width="4.10" height="1.40" fill="#000"/>
<rect x="683.20" y="535.98" width="4.10" height="1.40" fill="#000"/>
<rect x="683.20" y="525.16" width="4.10" height="1.40" fill="#000"/>
<rect x="681.20" y="516.77" width="6.10" height="1.40" fill="#000"/>
<rect x="683.20" y="509.91" width="4.10" height="1.40" fill="#000"/>
<rect x="683.20" y="504.11" width="4.10" height="1.40" fill="#000"/>
<rect x="683.20" y="499.09" width="4.10" height="1.40" fill="#000"/>
<rect x="683.20" y="494.66" width="4.10" height="1.40" fill="#000"/>
<rect x="679.20" y="490.40" width="8.10" height="2.00" fill="#000"/>
<rect x="686.90" y="928.00" width="2.00" height="6.50" fill="#000"/>
<rect x="713.27" y="928.00" width="1.40" height="2.50" fill="#000"/>
<rect x="728.52" y="928.00" width="1.40" height="2.50" fill="#000"/>
<rect x="739.34" y="928.00" width="1.40" height="2.50" fill="#000"/>
<rect x="747.73" y="928.00" width="1.40" height="4.50" fill="#000"/>
<rect x="754.59" y="928.00" width="1.40" height="2.50" fill="#000"/>
<rect x="760.39" y="928.00" width="1.40" height="2.50" fill="#000"/>
<rect x="765.41" y="928.00" width="1.40" height="2.50" fill="#000"/>
<rect x="769.84" y="928.00" width="1.40" height="2.50" fill="#000"/>
<rect x="773.50" y="928.00" width="2.00" height="6.50" fill="#000"/>
<rect x="799.87" y="928.00" width="1.40" height="2.50" fill="#000"/>
<rect x="815.12" y="928.00" width="1.40" height="2.50" fill="#000"/>
<rect x="825.94" y="928.00" width="1.40" height="2.50" fill="#000"/>
<rect x="834.33" y="928.00" width="1.40" height="4.50" fill="#000"/>
<rect x="841.19" y="928.00" width="1.40" height="2.50" fill="#000"/>
<rect x="846.99" y="928.00" width="1.40" height="2.50" fill="#000"/>
<rect x="852.01" y="928.00" width="1.40" height="2.50" fill="#000"/>
<rect x="856.44" y="928.00" width="1.40" height="2.50" fill="#000"/>
<rect x="860.10" y="928.00" width="2.00" height="6.50" fill="#000"/>
<rect x="886.47" y="928.00" width="1.40" height="2.50" fill="#000"/>
<rect x="901.72" y="928.00" width="1.40" height="2.50" fill="#000"/>
<rect x="912.54" y="928.00" width="1.40" height="2.50" fill="#000"/>
<rect x="920.93" y="928.00" width="1.40" height="4.50" fill="#000"/>
<rect x="927.79" y="928.00" width="1.40" height="2.50" fill="#000"/>
<rect x="933.59" y="928.00" width="1.40" height="2.50" fill="#000"/>
<rect x="938.61" y="928.00" width="1.40" height="2.50" fill="#000"/>
<rect x="943.04" y="928.00" width="1.40" height="2.50" fill="#000"/>
<rect x="946.70" y="928.00" width="2.00" height="6.50" fill="#000"/>
<rect x="973.07" y="928.00" width="1.40" height="2.50" fill="#000"/>
<rect x="988.32" y="928.00" width="1.40" height="2.50" fill="#000"/>
<rect x="999.14" y="928.00" width="1.40" height="2.50" fill="#000"/>
<rect x="1007.53" y="928.00" width="1.40" height="4.50" fill="#000"/>
<rect x="1014.39" y="928.00" width="1.40" height="2.50" fill="#000"/>
<rect x="1020.19" y="928.00" width="1.40" height="2.50" fill="#000"/>
<rect x="1025.21" y="928.00" width="1.40" height="2.50" fill="#000"/>
<rect x="1029.64" y="928.00" width="1.40" height="2.50" fill="#000"/>
<rect x="1033.30" y="928.00" width="2.00" height="6.50" fill="#000"/>
<rect x="1059.67" y="928.00" width="1.40" height="2.50" fill="#000"/>
<rect x="1074.92" y="928.00" width="1.40" height="2.50" fill="#000"/>
<rect x="1085.74" y="928.00" width="1.40" height="2.50" fill="#000"/>
<rect x="1094.13" y="928.00" width="1.40" height="4.50" fill="#000"/>
<rect x="1100.99" y="928.00" width="1.40" height="2.50" fill="#000"/>
<rect x="1106.79" y="928.00" width="1.40" height="2.50" fill="#000"/>
<rect x="1111.81" y="928.00" width="1.40" height="2.50" fill="#000"/>
<rect x="1116.24" y="928.00" width="1.40" height="2.50" fill="#000"/>
<rect x="1119.90" y="928.00" width="2.00" height="6.50" fill="#000"/>
<text x="1036.45" y="526.90" text-anchor="middle" style="font-family:'Liberation Sans',Arial,Helvetica,sans-serif;font-size:34.2px" >Necrosis</text>
<text x="1036.30" y="567.80" text-anchor="middle" style="font-family:'Liberation Sans',Arial,Helvetica,sans-serif;font-size:33.5px" >7.7 %</text>
<text x="1037.30" y="871.10" text-anchor="middle" style="font-family:'Liberation Sans',Arial,Helvetica,sans-serif;font-size:33.5px" >Apoptosis</text>
<text x="1035.85" y="910.90" text-anchor="middle" style="font-family:'Liberation Sans',Arial,Helvetica,sans-serif;font-size:33.5px" >23.3 %</text>
<text x="710.90" y="906.90" text-anchor="start" style="font-family:'Liberation Sans',Arial,Helvetica,sans-serif;font-size:37px;font-weight:bold" >RTX-IgG2</text>
<text x="668.0" y="530.70" text-anchor="end" style="font-family:'Liberation Sans',Arial,Helvetica,sans-serif;font-size:33px">10<tspan dy="-13.9" style="font-size:23px">3</tspan></text>
<text x="668.0" y="594.70" text-anchor="end" style="font-family:'Liberation Sans',Arial,Helvetica,sans-serif;font-size:33px">10<tspan dy="-13.9" style="font-size:23px">2</tspan></text>
<text x="668.0" y="679.00" text-anchor="end" style="font-family:'Liberation Sans',Arial,Helvetica,sans-serif;font-size:33px">10<tspan dy="-13.9" style="font-size:23px">1</tspan></text>
<text x="668.0" y="765.70" text-anchor="end" style="font-family:'Liberation Sans',Arial,Helvetica,sans-serif;font-size:33px">10<tspan dy="-13.9" style="font-size:23px">0</tspan></text>
<text x="668.0" y="851.80" text-anchor="end" style="font-family:'Liberation Sans',Arial,Helvetica,sans-serif;font-size:33px">10<tspan dy="-13.9" style="font-size:23px">-1</tspan></text>
<text x="668.0" y="921.70" text-anchor="end" style="font-family:'Liberation Sans',Arial,Helvetica,sans-serif;font-size:33px">10<tspan dy="-13.9" style="font-size:23px">-2</tspan></text>
<text x="774.50" y="975.80" text-anchor="middle" style="font-family:'Liberation Sans',Arial,Helvetica,sans-serif;font-size:33px"><tspan>10</tspan><tspan dy="-13.9" style="font-size:23px">-1</tspan></text>
<text x="865.10" y="975.80" text-anchor="middle" style="font-family:'Liberation Sans',Arial,Helvetica,sans-serif;font-size:33px"><tspan>10</tspan><tspan dy="-13.9" style="font-size:23px">0</tspan></text>
<text x="949.70" y="975.80" text-anchor="middle" style="font-family:'Liberation Sans',Arial,Helvetica,sans-serif;font-size:33px"><tspan>10</tspan><tspan dy="-13.9" style="font-size:23px">1</tspan></text>
<text x="1034.30" y="975.80" text-anchor="middle" style="font-family:'Liberation Sans',Arial,Helvetica,sans-serif;font-size:33px"><tspan>10</tspan><tspan dy="-13.9" style="font-size:23px">2</tspan></text>
<text x="1097.90" y="975.80" text-anchor="middle" style="font-family:'Liberation Sans',Arial,Helvetica,sans-serif;font-size:33px"><tspan>10</tspan><tspan dy="-13.9" style="font-size:23px">3</tspan></text>
<path d="M1499.0 540.0h2m-66 6h2m24 2h2m46 0h2m10 0h2m-68 2h2m8 2h2m4 0h2m2 0h2m8 0h2m-58 2h2m16 0h2m38 0h2m12 0h2m24 0h2m-68 2h2m20 0h2m16 0h2m-26 2h2m4 0h2m-40 2h2m22 0h2m28 0h2m-32 2h2m10 0h4m-44 2h2m30 0h2m4 0h2m16 0h2m4 0h2m12 0h2m-74 2h2m8 0h2m10 0h2m-26 2h2m14 0h4m20 0h4m4 0h2m14 0h2m-48 2h2m10 0h2m10 0h2m16 0h2m34 0h2m-82 2h2m14 0h2m10 0h2m14 0h4m4 0h2m10 0h2m-114 2h2m28 0h2m12 0h2m10 0h2m2 0h2m2 0h2m12 0h2m8 0h2m2 0h2m-62 2h2m22 0h4m32 0h2m-68 2h2m4 0h2m6 0h2m2 0h2m16 0h2m2 0h2m18 0h2m6 0h2m-62 2h2m6 0h2m4 0h2m12 0h2m10 0h4m2 0h2m6 0h2m-84 2h2m4 0h2m6 0h2m14 0h2m8 0h2m4 0h2m20 0h6m8 0h2m20 0h2m-90 2h2m24 0h2m10 0h2m12 0h2m24 0h2m-64 2h2m8 0h2m2 0h2m2 0h2m34 0h2m12 0h2m-76 2h4m20 0h2m26 0h2m6 0h2m-80 2h2m10 0h2m4 0h2m22 0h2m14 0h4m-34 2h2m2 0h2m10 0h4m12 0h2m4 0h2m2 0h2m4 0h2m6 0h2m10 0h2m-112 2h2m40 0h2m4 0h2m4 0h4m4 0h2m2 0h2m10 0h2m8 0h2m28 0h2m-78 2h2m2 0h2m4 0h2m2 0h6m2 0h2m12 0h2m2 0h2m12 0h2m-66 2h2m2 0h2m8 0h2m12 0h2m2 0h2m2 0h2m4 0h2m2 0h2m22 0h4m-92 2h2m10 0h2m2 0h2m2 0h2m22 0h2m2 0h2m6 0h2m-42 2h2m10 0h2m8 0h2m8 0h2m2 0h2m-62 2h2m16 0h2m12 0h2m8 0h2m2 0h2m2 0h2m10 0h2m10 0h2m22 0h2m-54 2h2m8 0h2m2 0h2m8 0h4m2 0h2m-52 2h2m6 0h4m2 0h2m14 0h4m16 0h2m6 0h2m-90 2h2m20 0h4m12 0h2m38 0h2m-88 2h2m24 0h2m4 0h2m20 0h2m2 0h2m4 0h8m4 0h2m2 0h4m12 0h2m-92 2h2m16 0h2m6 0h4m6 0h2m10 0h2m-20 2h2m10 0h6m6 0h2m-38 2h4m10 0h2m-100 2h2m88 0h2m20 0h4m10 0h2m16 0h2m26 0h2m-42 2h2m6 0h2m4 0h2m-56 2h2m18 0h2m6 0h2m6 0h2m4 0h4m-100 2h2m56 0h2m4 0h2m6 0h2m2 0h2m12 0h2m20 0h2m24 0h2m-126 2h2m32 0h2m10 0h2m16 0h2m6 0h2m2 0h2m-64 2h2m16 0h2m6 0h2m2 0h4m18 0h2m14 0h2m4 0h2m-68 2h2m2 0h2m2 0h2m4 0h2m2 0h2m28 0h4m-26 2h2m10 0h2m4 0h2m2 0h2m-160 2h2m24 0h2m94 0h2m8 0h2m12 0h2m22 0h2m-238 2h2m38 0h2m22 0h2m108 0h2m14 0h2m16 0h2m-50 2h2m34 0h4m12 0h2m6 0h2m10 0h6m-166 2h2m54 0h4m42 0h2m28 0h2m6 0h2m-176 2h2m32 0h2m30 0h2m90 0h2m12 0h2m20 0h4m8 0h2m6 0h2m-102 2h2m2 0h2m18 0h2m2 0h2m8 0h4m12 0h2m2 0h4m22 0h2m8 0h2m16 0h2m-190 2h2m28 0h2m64 0h2m22 0h2m4 0h2m10 0h2m2 0h2m18 0h2m14 0h2m-264 2h2m102 0h2m6 0h2m116 0h2m10 0h2m8 0h2m2 0h2m4 0h2m-150 2h2m14 0h2m32 0h2m2 0h2m6 0h2m10 0h2m8 0h2m12 0h4m4 0h2m34 0h2m2 0h2m-204 2h2m18 0h2m4 0h2m90 0h2m12 0h2m12 0h2m4 0h4m6 0h2m10 0h2m14 0h2m8 0h2m-200 2h2m46 0h2m10 0h2m28 0h2m20 0h2m30 0h2m2 0h2m52 0h2m26 0h2m-260 2h2m60 0h2m24 0h2m56 0h2m4 0h2m22 0h2m10 0h2m4 0h2m14 0h2m-210 2h2m26 0h2m18 0h2m18 0h2m60 0h2m8 0h2m6 0h2m4 0h4m2 0h2m2 0h6m8 0h4m14 0h2m2 0h2m8 0h2m2 0h2m16 0h2m-184 2h2m8 0h2m108 0h2m2 0h2m14 0h4m2 0h2m-174 2h2m2 0h2m58 0h2m68 0h2m12 0h2m10 0h8m8 0h2m8 0h4m4 0h2m8 0h2m12 0h2m-170 2h4m42 0h2m2 0h2m10 0h2m6 0h2m14 0h2m8 0h6m10 0h2m10 0h2m2 0h2m6 0h2m-214 2h2m2 0h2m40 0h2m2 0h2m34 0h2m52 0h2m10 0h2m4 0h2m10 0h8m12 0h4m4 0h2m-158 2h2m110 0h2m8 0h2m2 0h2m4 0h2m4 0h2m4 0h2m4 0h2m2 0h2m2 0h2m2 0h2m-228 2h2m18 0h2m24 0h2m30 0h2m34 0h2m12 0h2m4 0h2m10 0h2m18 0h2m18 0h4m10 0h4m2 0h2m2 0h2m8 0h2m20 0h2m4 0h2m-212 2h2m30 0h2m2 0h2m6 0h2m16 0h2m24 0h2m30 0h2m28 0h2m2 0h2m2 0h4m4 0h2m10 0h4m2 0h2m-234 2h2m32 0h4m6 0h2m20 0h2m10 0h4m2 0h2m8 0h4m6 0h2m12 0h2m10 0h2m10 0h2m52 0h2m8 0h2m12 0h2m8 0h2m4 0h2m8 0h2m-218 2h2m48 0h2m2 0h2m18 0h2m4 0h2m68 0h2m8 0h2m2 0h2m8 0h2m24 0h2m-218 2h2m22 0h2m16 0h2m6 0h2m24 0h4m2 0h2m44 0h2m22 0h2m24 0h2m10 0h2m14 0h2m22 0h2m-306 2h2m120 0h2m16 0h2m12 0h4m16 0h4m4 0h2m2 0h2m4 0h4m14 0h2m28 0h2m8 0h2m10 0h2m2 0h2m2 0h2m4 0h2m-252 2h2m80 0h2m28 0h2m2 0h2m12 0h2m62 0h2m20 0h2m8 0h2m4 0h2m6 0h2m2 0h2m6 0h2m2 0h2m12 0h2m-260 2h2m12 0h2m6 0h2m40 0h2m32 0h2m10 0h2m28 0h2m2 0h2m16 0h2m2 0h4m4 0h4m22 0h2m2 0h2m4 0h2m2 0h2m10 0h2m4 0h2m10 0h2m2 0h2m4 0h2m8 0h2m-260 2h2m46 0h2m28 0h2m10 0h2m68 0h2m12 0h2m8 0h2m4 0h2m12 0h2m12 0h2m2 0h2m14 0h2m4 0h2m8 0h2m-210 2h2m40 0h4m8 0h2m2 0h2m30 0h4m4 0h4m10 0h2m30 0h4m24 0h4m16 0h2m22 0h2m54 0h2m-268 2h2m10 0h4m20 0h2m4 0h2m6 0h2m2 0h2m22 0h2m24 0h4m4 0h2m50 0h2m4 0h2m8 0h2m6 0h2m2 0h2m16 0h2m24 0h2m-272 2h2m38 0h2m18 0h2m2 0h2m34 0h2m28 0h2m30 0h2m20 0h2m6 0h2m8 0h2m20 0h6m14 0h2m-270 2h2m58 0h4m26 0h2m8 0h2m12 0h4m24 0h2m4 0h2m8 0h4m8 0h2m12 0h4m4 0h4m20 0h2m14 0h2m34 0h2m14 0h2m2 0h2m-244 2h2m28 0h2m4 0h2m32 0h2m18 0h2m2 0h2m24 0h2m14 0h4m22 0h2m2 0h2m2 0h4m4 0h2m2 0h2m2 0h2m10 0h2m4 0h2m2 0h2m6 0h2m-280 2h2m42 0h2m32 0h2m4 0h2m2 0h2m2 0h2m2 0h4m2 0h2m22 0h2m8 0h2m2 0h2m36 0h2m8 0h2m2 0h6m10 0h2m2 0h2m10 0h2m12 0h4m18 0h2m14 0h2m16 0h2m-276 2h2m44 0h2m2 0h2m56 0h2m8 0h2m12 0h2m6 0h2m8 0h2m16 0h2m4 0h2m32 0h2m12 0h2m4 0h2m2 0h2m34 0h2m12 0h2m-210 2h2m4 0h2m4 0h2m2 0h2m8 0h2m8 0h6m6 0h2m12 0h2m2 0h2m2 0h4m36 0h2m18 0h2m24 0h2m6 0h2m16 0h2m4 0h2m-212 2h4m4 0h2m4 0h2m48 0h2m2 0h2m6 0h2m6 0h2m2 0h2m18 0h2m46 0h2m2 0h2m2 0h2m8 0h2m2 0h2m2 0h4m2 0h2m10 0h2m20 0h2m16 0h2m-280 2h2m4 0h4m4 0h2m6 0h2m10 0h2m16 0h4m12 0h2m10 0h2m52 0h2m6 0h2m30 0h2m2 0h2m24 0h2m2 0h2m8 0h2m2 0h4m12 0h2m-274 2h2m62 0h2m12 0h2m10 0h2m10 0h4m6 0h4m12 0h2m32 0h2m2 0h2m60 0h2m6 0h2m14 0h2m22 0h2m8 0h2m-222 2h2m2 0h2m24 0h6m8 0h2m8 0h2m6 0h2m28 0h4m2 0h4m8 0h2m2 0h6m32 0h2m16 0h2m2 0h2m6 0h2m-248 2h2m36 0h2m14 0h2m6 0h2m2 0h2m8 0h2m2 0h2m6 0h6m8 0h2m12 0h2m6 0h2m4 0h2m8 0h4m10 0h4m8 0h2m2 0h2m22 0h2m4 0h2m14 0h2m16 0h2m2 0h2m2 0h2m8 0h6m8 0h2m-254 2h2m20 0h2m32 0h2m2 0h2m4 0h4m54 0h4m6 0h4m82 0h2m2 0h2m8 0h2m4 0h4m38 0h2m-314 2h2m16 0h2m16 0h2m48 0h2m2 0h2m10 0h2m16 0h2m94 0h4m6 0h2m6 0h2m6 0h2m16 0h2m4 0h2m6 0h2m2 0h2m4 0h2m6 0h2m2 0h2m32 0h2m-264 2h2m6 0h2m2 0h4m4 0h2m12 0h2m8 0h2m28 0h2m24 0h2m4 0h2m10 0h2m6 0h2m10 0h2m40 0h2m6 0h2m8 0h2m12 0h2m-242 2h2m8 0h2m14 0h4m12 0h2m22 0h2m14 0h2m12 0h4m12 0h2m2 0h2m4 0h4m4 0h4m2 0h2m2 0h2m6 0h2m10 0h2m4 0h2m8 0h2m4 0h2m20 0h2m4 0h2m12 0h4m10 0h2m2 0h2m2 0h2m8 0h2m2 0h2m-298 2h2m42 0h2m2 0h2m6 0h2m4 0h2m2 0h2m12 0h4m10 0h2m12 0h2m6 0h2m20 0h4m10 0h2m6 0h2m12 0h2m16 0h2m22 0h2m56 0h2m-238 2h2m6 0h2m2 0h2m4 0h2m2 0h4m4 0h2m10 0h4m4 0h2m2 0h2m36 0h2m12 0h2m26 0h2m8 0h2m2 0h4m26 0h6m4 0h2m4 0h2m8 0h2m6 0h2m20 0h2m6 0h2m-290 2h2m32 0h2m4 0h2m6 0h2m14 0h6m18 0h2m2 0h2m18 0h2m16 0h2m22 0h4m14 0h2m8 0h2m8 0h2m10 0h2m2 0h2m38 0h2m2 0h4m-226 2h2m6 0h2m8 0h2m10 0h2m2 0h2m2 0h2m6 0h4m44 0h2m10 0h2m6 0h2m2 0h2m12 0h2m4 0h2m12 0h2m16 0h2m16 0h4m2 0h6m4 0h2m10 0h2m2 0h4m-200 2h2m12 0h2m6 0h2m8 0h2m2 0h2m4 0h2m4 0h2m18 0h2m30 0h2m8 0h4m2 0h4m2 0h2m4 0h2m32 0h2m14 0h2m12 0h2m2 0h2m6 0h2m6 0h2m8 0h2m20 0h2m-296 2h2m40 0h2m4 0h4m2 0h2m4 0h2m6 0h2m16 0h2m40 0h2m8 0h2m8 0h2m10 0h2m70 0h2m6 0h2m6 0h2m6 0h2m-216 2h2m56 0h2m8 0h2m6 0h2m2 0h2m18 0h2m10 0h2m50 0h2m24 0h2m6 0h2m6 0h2m8 0h2m4 0h2m12 0h2m6 0h2m2 0h2m-260 2h2m6 0h2m2 0h2m8 0h2m12 0h2m46 0h2m4 0h4m2 0h2m2 0h2m20 0h2m36 0h2m2 0h2m2 0h2m32 0h2m20 0h2m14 0h2m26 0h2m-290 2h2m12 0h4m16 0h2m2 0h2m46 0h2m32 0h4m2 0h4m6 0h4m84 0h2m2 0h2m6 0h2m18 0h2m4 0h2m-246 2h2m12 0h2m2 0h2m2 0h2m6 0h2m68 0h2m16 0h4m6 0h2m2 0h2m28 0h2m16 0h2m28 0h2m14 0h2m12 0h2m-252 2h2m6 0h2m22 0h2m12 0h2m66 0h2m8 0h4m80 0h2m8 0h4m8 0h2m8 0h2m6 0h2m18 0h2m-296 2h2m24 0h2m8 0h2m2 0h2m12 0h4m32 0h2m52 0h2m4 0h2m116 0h2m2 0h2m20 0h2m-302 2h2m22 0h2m2 0h2m10 0h2m16 0h2m52 0h2m6 0h4m4 0h2m2 0h4m8 0h2m2 0h2m14 0h2m30 0h2m52 0h2m10 0h2m2 0h2m2 0h2m-232 2h4m14 0h2m4 0h2m44 0h2m12 0h2m6 0h2m8 0h4m8 0h2m4 0h2m28 0h2m38 0h2m20 0h2m22 0h2m34 0h2m-308 2h2m16 0h2m6 0h8m2 0h2m2 0h2m2 0h2m4 0h6m46 0h2m24 0h2m2 0h2m2 0h2m10 0h2m36 0h2m4 0h2m6 0h2m34 0h2m38 0h2m-258 2h2m2 0h2m4 0h6m2 0h2m8 0h2m46 0h2m2 0h2m14 0h2m2 0h2m18 0h2m22 0h2m26 0h2m6 0h2m16 0h2m8 0h2m32 0h2m4 0h2m-252 2h2m4 0h2m4 0h2m4 0h2m22 0h2m44 0h2m2 0h2m4 0h2m72 0h2m24 0h2m10 0h2m10 0h2m2 0h2m6 0h2m10 0h4m8 0h2m-302 2h2m10 0h2m26 0h2m16 0h2m6 0h6m2 0h6m30 0h2m6 0h2m16 0h2m6 0h2m2 0h2m4 0h2m48 0h2m24 0h2m24 0h2m4 0h2m4 0h2m2 0h2m-250 2h2m6 0h2m4 0h2m12 0h2m2 0h2m10 0h2m24 0h2m16 0h2m26 0h2m36 0h2m62 0h2m74 0h2m-288 2h2m18 0h6m2 0h4m24 0h4m2 0h2m10 0h4m12 0h2m14 0h2m18 0h4m4 0h2m34 0h2m64 0h2m2 0h2m-236 2h2m6 0h4m4 0h2m10 0h4m6 0h2m14 0h2m32 0h4m12 0h2m24 0h2m84 0h2m22 0h2m24 0h2m-298 2h2m18 0h2m34 0h2m2 0h2m20 0h2m2 0h2m10 0h2m6 0h2m12 0h4m40 0h2m30 0h2m-180 2h6m26 0h2m10 0h2m4 0h4m4 0h2m12 0h2m22 0h2m2 0h2m4 0h2m2 0h4m8 0h2m90 0h2m10 0h2m-226 2h2m50 0h2m62 0h2m8 0h2m28 0h2m68 0h2m-218 2h2m12 0h2m4 0h2m6 0h2m6 0h4m10 0h2m8 0h2m28 0h2m8 0h4m160 0h2m-282 2h2m42 0h2m6 0h2m10 0h2m22 0h2m80 0h2m38 0h2m-186 2h2m8 0h2m2 0h4m6 0h2m38 0h2m12 0h2m8 0h2m-88 2h2m2 0h2m8 2h2m8 0h2m2 0h2m18 0h2m2 0h2m8 0h2m8 0h2m66 0h2m150 0h2m-300 2h2m30 0h2m62 0h2m28 0h2m44 0h2m76 0h2m-252 2h2m58 0h2m56 0h2m52 0h2m74 0h2m-276 2h2m16 0h2m2 0h2m204 0h2m26 0h4m-296 2h2m42 0h2m16 0h2m16 0h2m16 0h2m8 0h2m-30 2h2m136 0h2m68 0h2m44 0h4m-314 4h2m20 0h2m14 0h2m60 0h2m112 0h2m98 0h2m-216 2h2m68 0h2m-106 2h2m56 0h2m8 4h2m136 0h2m14 0h2m-210 4h2m54 0h2m178 0h2m-316 2h2m114 0h2m-82 4h2m218 6h2m-198 6h2m224 0h2m-178 24h2" stroke="#24419c" stroke-width="2" fill="none"/>
<path d="M1433 541h3v3h-3zM1495 541h3v3h-3zM1471 545h1v3h-1zM1491 545h3v3h-3zM1433 547h3v1h-3zM1455 547h3v1h-3zM1461 549h3v3h-3zM1467 549h3v3h-3zM1477 549h3v3h-3zM1493 549h3v3h-3zM1449 551h3v3h-3zM1484 551h1v3h-1zM1519 551h3v1h-3zM1455 553h3v3h-3zM1471 553h3v3h-3zM1490 553h1v3h-1zM1493 553h3v1h-3zM1471 555h1v3h-1zM1473 556h3v1h-3zM1479 555h1v3h-1zM1488 555h1v3h-1zM1453 557h3v3h-3zM1461 557h3v3h-3zM1469 557h3v3h-3zM1473 557h3v3h-3zM1487 558h3v1h-3zM1505 557h3v3h-3zM1517 557h3v3h-3zM1435 559h3v3h-3zM1441 559h3v3h-3zM1471 559h3v3h-3zM1473 559h3v3h-3zM1483 559h3v3h-3zM1485 559h1v3h-1zM1489 559h3v1h-3zM1491 559h1v3h-1zM1493 559h3v3h-3zM1515 559h1v3h-1zM1437 561h1v3h-1zM1451 561h3v3h-3zM1467 562h3v1h-3zM1472 561h1v3h-1zM1473 562h3v1h-3zM1475 561h3v1h-3zM1477 561h3v1h-3zM1479 561h3v3h-3zM1485 561h3v3h-3zM1489 561h3v3h-3zM1497 561h3v3h-3zM1503 562h3v1h-3zM1513 561h3v3h-3zM1449 563h3v3h-3zM1453 563h3v3h-3zM1455 563h3v3h-3zM1481 563h3v3h-3zM1488 563h1v3h-1zM1495 563h1v3h-1zM1507 564h3v1h-3zM1516 563h1v3h-1zM1533 563h3v3h-3zM1451 565h3v3h-3zM1453 566h3v1h-3zM1461 565h3v3h-3zM1471 565h3v3h-3zM1483 565h3v3h-3zM1491 565h3v3h-3zM1497 565h1v3h-1zM1503 565h3v3h-3zM1519 565h3v3h-3zM1437 568h3v1h-3zM1441 568h3v1h-3zM1453 567h3v1h-3zM1457 567h1v3h-1zM1463 567h3v3h-3zM1467 567h3v1h-3zM1475 567h3v3h-3zM1477 567h3v3h-3zM1481 567h3v3h-3zM1499 567h3v1h-3zM1417 569h1v3h-1zM1425 569h3v3h-3zM1449 570h3v1h-3zM1469 569h3v3h-3zM1481 569h3v3h-3zM1491 569h3v3h-3zM1501 570h3v1h-3zM1509 569h3v1h-3zM1513 570h3v1h-3zM1435 571h3v1h-3zM1443 571h3v3h-3zM1447 572h3v1h-3zM1451 571h3v3h-3zM1458 571h1v3h-1zM1461 571h3v3h-3zM1463 571h3v3h-3zM1465 571h1v3h-1zM1477 571h3v3h-3zM1479 571h3v1h-3zM1481 571h3v1h-3zM1483 571h3v3h-3zM1491 571h3v3h-3zM1495 571h3v3h-3zM1520 571h1v3h-1zM1437 573h3v3h-3zM1445 573h3v3h-3zM1459 573h3v3h-3zM1473 573h3v1h-3zM1479 573h3v3h-3zM1482 573h1v3h-1zM1487 573h3v3h-3zM1501 573h1v3h-1zM1505 573h3v3h-3zM1439 575h3v3h-3zM1453 575h3v3h-3zM1461 575h3v3h-3zM1471 575h3v1h-3zM1489 575h3v3h-3zM1493 575h3v3h-3zM1509 575h1v3h-1zM1431 578h3v1h-3zM1435 577h1v3h-1zM1445 577h3v1h-3zM1447 577h3v3h-3zM1453 578h3v1h-3zM1461 578h3v1h-3zM1467 577h3v3h-3zM1471 577h3v3h-3zM1481 577h1v3h-1zM1489 577h3v3h-3zM1523 577h3v3h-3zM1415 579h3v3h-3zM1417 579h3v3h-3zM1429 579h3v1h-3zM1431 579h1v3h-1zM1438 579h1v3h-1zM1443 580h3v1h-3zM1458 579h1v3h-1zM1461 579h3v1h-3zM1465 579h3v3h-3zM1477 579h3v3h-3zM1494 579h1v3h-1zM1509 579h1v3h-1zM1515 579h3v3h-3zM1452 581h1v3h-1zM1461 581h3v1h-3zM1474 581h1v3h-1zM1483 581h3v3h-3zM1497 581h3v3h-3zM1505 581h3v3h-3zM1515 581h3v3h-3zM1517 581h1v3h-1zM1437 584h3v1h-3zM1442 583h1v3h-1zM1447 584h3v1h-3zM1454 583h1v3h-1zM1457 583h3v1h-3zM1462 583h1v3h-1zM1463 583h1v3h-1zM1469 584h3v1h-3zM1475 583h3v1h-3zM1477 583h3v3h-3zM1482 583h1v3h-1zM1489 583h3v1h-3zM1515 583h3v1h-3zM1531 583h3v3h-3zM1447 586h3v1h-3zM1453 585h3v3h-3zM1455 585h3v3h-3zM1471 585h3v3h-3zM1473 585h3v3h-3zM1475 586h3v1h-3zM1481 585h3v3h-3zM1489 585h3v3h-3zM1494 585h1v3h-1zM1495 585h3v3h-3zM1511 586h3v1h-3zM1419 587h1v3h-1zM1422 587h1v3h-1zM1437 587h3v1h-3zM1451 587h3v3h-3zM1456 587h1v3h-1zM1473 587h1v3h-1zM1477 588h3v1h-3zM1481 587h3v3h-3zM1485 587h3v3h-3zM1497 587h3v3h-3zM1501 587h3v3h-3zM1520 587h1v3h-1zM1407 589h1v3h-1zM1453 589h1v3h-1zM1460 589h1v3h-1zM1463 590h3v1h-3zM1470 589h1v3h-1zM1475 589h3v1h-3zM1490 589h1v3h-1zM1495 589h1v3h-1zM1503 590h3v1h-3zM1505 589h3v3h-3zM1517 590h3v1h-3zM1421 592h3v1h-3zM1424 591h1v3h-1zM1437 591h1v3h-1zM1439 591h3v3h-3zM1443 591h3v1h-3zM1465 591h3v1h-3zM1467 591h1v3h-1zM1487 591h3v3h-3zM1489 591h3v3h-3zM1493 592h3v1h-3zM1499 591h3v1h-3zM1529 591h3v3h-3zM1458 593h1v3h-1zM1463 593h3v3h-3zM1469 593h3v3h-3zM1475 593h3v3h-3zM1479 594h3v1h-3zM1485 593h1v3h-1zM1491 593h3v1h-3zM1515 593h3v3h-3zM1519 593h3v3h-3zM1521 593h3v3h-3zM1541 593h3v3h-3zM1425 595h3v3h-3zM1427 595h3v3h-3zM1437 595h3v3h-3zM1447 595h3v3h-3zM1449 595h3v3h-3zM1465 595h1v3h-1zM1473 595h3v3h-3zM1482 595h1v3h-1zM1496 595h1v3h-1zM1497 595h3v3h-3zM1505 595h3v3h-3zM1509 595h1v3h-1zM1427 597h3v3h-3zM1449 597h3v3h-3zM1467 597h3v3h-3zM1469 597h3v3h-3zM1495 598h3v1h-3zM1501 597h1v3h-1zM1505 597h3v3h-3zM1519 597h3v3h-3zM1423 599h3v3h-3zM1432 599h1v3h-1zM1463 599h3v3h-3zM1467 600h3v1h-3zM1471 600h3v1h-3zM1475 599h3v3h-3zM1479 599h3v3h-3zM1487 599h3v1h-3zM1493 599h3v3h-3zM1505 599h3v3h-3zM1509 600h3v1h-3zM1523 599h3v1h-3zM1410 601h1v3h-1zM1436 601h1v3h-1zM1437 601h3v3h-3zM1450 601h1v3h-1zM1451 602h3v1h-3zM1457 601h3v3h-3zM1475 601h1v3h-1zM1483 601h3v3h-3zM1485 601h3v3h-3zM1489 601h3v3h-3zM1497 601h3v3h-3zM1505 602h3v1h-3zM1517 601h3v1h-3zM1421 603h3v3h-3zM1433 603h3v3h-3zM1447 603h3v3h-3zM1461 603h3v1h-3zM1465 603h1v3h-1zM1471 604h3v1h-3zM1493 603h3v3h-3zM1495 603h3v3h-3zM1498 603h1v3h-1zM1517 603h3v3h-3zM1429 605h3v1h-3zM1439 605h1v3h-1zM1479 605h3v3h-3zM1483 606h3v1h-3zM1505 605h3v3h-3zM1419 607h3v1h-3zM1431 607h3v3h-3zM1437 607h3v3h-3zM1447 607h3v1h-3zM1489 607h3v1h-3zM1505 607h1v3h-1zM1427 609h3v1h-3zM1441 609h3v3h-3zM1443 609h3v3h-3zM1446 609h1v3h-1zM1450 609h1v3h-1zM1469 609h1v3h-1zM1485 609h1v3h-1zM1501 609h3v3h-3zM1505 609h3v3h-3zM1517 610h3v1h-3zM1519 609h3v3h-3zM1373 611h3v3h-3zM1419 611h3v3h-3zM1446 611h1v3h-1zM1452 611h1v3h-1zM1455 611h3v3h-3zM1467 611h3v3h-3zM1489 611h3v3h-3zM1495 612h3v1h-3zM1401 613h1v3h-1zM1441 614h3v1h-3zM1449 613h3v1h-3zM1451 613h3v3h-3zM1467 613h3v3h-3zM1474 613h1v3h-1zM1485 613h3v3h-3zM1487 613h1v3h-1zM1503 613h3v3h-3zM1509 613h3v1h-3zM1425 615h3v1h-3zM1429 615h3v1h-3zM1439 615h1v3h-1zM1443 615h3v3h-3zM1447 615h1v3h-1zM1449 615h3v3h-3zM1451 615h3v3h-3zM1461 615h3v1h-3zM1477 615h3v3h-3zM1479 615h3v3h-3zM1481 615h3v1h-3zM1483 616h3v1h-3zM1488 615h1v3h-1zM1489 615h3v3h-3zM1491 615h3v3h-3zM1493 615h3v3h-3zM1495 615h3v3h-3zM1403 617h3v3h-3zM1413 617h3v1h-3zM1417 617h3v3h-3zM1435 617h3v3h-3zM1437 617h3v3h-3zM1449 618h3v1h-3zM1451 617h3v3h-3zM1458 617h1v3h-1zM1465 617h3v3h-3zM1480 617h1v3h-1zM1487 618h3v1h-3zM1489 617h3v3h-3zM1493 617h3v1h-3zM1496 617h1v3h-1zM1499 617h3v1h-3zM1349 619h3v3h-3zM1397 619h3v3h-3zM1422 619h1v3h-1zM1423 619h3v3h-3zM1449 619h3v3h-3zM1456 619h1v3h-1zM1463 619h3v3h-3zM1467 619h3v3h-3zM1480 619h1v3h-1zM1495 620h3v1h-3zM1345 621h3v3h-3zM1381 621h3v3h-3zM1401 622h3v1h-3zM1419 622h3v1h-3zM1421 621h3v3h-3zM1424 621h1v3h-1zM1439 621h3v3h-3zM1441 621h3v3h-3zM1451 621h1v3h-1zM1459 621h3v3h-3zM1461 621h3v3h-3zM1463 621h3v1h-3zM1469 621h1v3h-1zM1473 621h3v3h-3zM1479 621h3v1h-3zM1481 621h3v3h-3zM1494 621h1v3h-1zM1499 621h3v3h-3zM1507 621h3v3h-3zM1331 624h3v1h-3zM1429 624h3v1h-3zM1447 623h3v3h-3zM1449 623h1v3h-1zM1453 623h3v3h-3zM1469 623h3v3h-3zM1483 623h1v3h-1zM1303 625h3v3h-3zM1344 625h1v3h-1zM1381 625h3v3h-3zM1415 626h3v1h-3zM1457 625h3v1h-3zM1471 625h3v3h-3zM1487 625h3v3h-3zM1489 625h3v3h-3zM1491 626h3v1h-3zM1493 625h3v3h-3zM1497 625h3v3h-3zM1259 627h1v3h-1zM1313 627h3v1h-3zM1325 627h3v1h-3zM1345 627h3v1h-3zM1351 628h3v1h-3zM1379 627h3v3h-3zM1387 627h3v1h-3zM1449 627h3v1h-3zM1465 627h3v3h-3zM1467 627h3v3h-3zM1475 628h3v1h-3zM1479 627h3v3h-3zM1482 627h1v3h-1zM1483 627h3v3h-3zM1485 627h1v3h-1zM1487 627h3v3h-3zM1497 627h3v3h-3zM1255 630h3v1h-3zM1409 629h3v3h-3zM1447 629h3v3h-3zM1449 629h3v3h-3zM1461 630h3v1h-3zM1469 630h3v1h-3zM1471 629h3v3h-3zM1473 629h3v3h-3zM1501 629h3v3h-3zM1391 631h1v3h-1zM1421 632h3v1h-3zM1429 631h3v3h-3zM1439 631h3v3h-3zM1447 631h3v3h-3zM1457 631h3v3h-3zM1461 631h3v3h-3zM1463 631h3v3h-3zM1465 631h3v3h-3zM1477 631h3v3h-3zM1479 631h3v1h-3zM1483 631h3v1h-3zM1493 631h3v3h-3zM1507 631h3v3h-3zM1391 633h3v3h-3zM1429 634h3v1h-3zM1431 633h1v3h-1zM1433 633h3v3h-3zM1443 633h1v3h-1zM1447 633h1v3h-1zM1451 633h3v3h-3zM1469 634h3v1h-3zM1471 633h3v3h-3zM1477 633h3v1h-3zM1479 633h3v3h-3zM1485 633h3v3h-3zM1491 633h3v3h-3zM1493 633h3v3h-3zM1502 633h1v3h-1zM1328 635h1v3h-1zM1343 635h3v3h-3zM1351 635h3v3h-3zM1383 636h3v1h-3zM1417 635h3v1h-3zM1425 635h3v1h-3zM1439 635h3v3h-3zM1444 635h1v3h-1zM1445 636h3v1h-3zM1459 636h3v1h-3zM1463 635h3v3h-3zM1471 635h3v3h-3zM1475 635h3v3h-3zM1481 635h3v3h-3zM1485 635h1v3h-1zM1487 635h3v3h-3zM1493 635h3v1h-3zM1505 635h3v1h-3zM1273 637h3v3h-3zM1313 637h1v3h-1zM1320 637h1v3h-1zM1326 637h1v3h-1zM1373 637h3v3h-3zM1391 637h3v3h-3zM1404 637h1v3h-1zM1435 637h3v3h-3zM1441 638h3v1h-3zM1446 637h1v3h-1zM1447 637h3v3h-3zM1467 637h3v3h-3zM1473 637h3v3h-3zM1476 637h1v3h-1zM1501 638h3v1h-3zM1513 637h1v3h-1zM1138 639h1v3h-1zM1309 639h3v3h-3zM1335 639h3v1h-3zM1387 639h3v3h-3zM1416 639h1v3h-1zM1417 639h1v3h-1zM1426 639h1v3h-1zM1429 639h3v3h-3zM1431 639h3v3h-3zM1435 639h3v1h-3zM1443 639h1v3h-1zM1445 639h3v3h-3zM1447 639h3v1h-3zM1449 639h3v3h-3zM1458 639h1v3h-1zM1459 640h3v1h-3zM1461 639h3v3h-3zM1493 639h3v3h-3zM1501 640h3v1h-3zM1321 641h3v3h-3zM1357 642h3v1h-3zM1360 641h1v3h-1zM1381 641h1v3h-1zM1383 642h3v1h-3zM1385 641h3v3h-3zM1393 641h3v3h-3zM1425 641h3v3h-3zM1441 642h3v1h-3zM1453 641h3v3h-3zM1459 641h3v1h-3zM1461 641h1v3h-1zM1275 644h3v1h-3zM1367 643h3v3h-3zM1407 643h3v1h-3zM1421 643h3v3h-3zM1433 643h3v3h-3zM1437 643h3v1h-3zM1442 643h1v3h-1zM1463 643h3v3h-3zM1465 643h3v3h-3zM1253 645h3v3h-3zM1269 645h3v3h-3zM1277 645h3v1h-3zM1339 645h3v1h-3zM1349 645h3v3h-3zM1387 645h1v3h-1zM1391 645h3v3h-3zM1415 645h3v3h-3zM1451 645h3v3h-3zM1457 645h3v3h-3zM1461 645h3v3h-3zM1463 646h3v1h-3zM1465 645h3v3h-3zM1467 645h3v3h-3zM1471 645h3v3h-3zM1477 645h3v3h-3zM1493 645h3v1h-3zM1495 645h3v3h-3zM1500 645h1v3h-1zM1287 648h3v1h-3zM1291 647h3v3h-3zM1311 647h3v3h-3zM1317 647h3v3h-3zM1327 647h3v1h-3zM1345 647h3v3h-3zM1367 647h3v1h-3zM1399 648h3v1h-3zM1401 647h3v1h-3zM1409 648h3v1h-3zM1420 647h1v3h-1zM1421 647h1v3h-1zM1433 647h1v3h-1zM1437 647h3v3h-3zM1451 647h3v3h-3zM1465 647h3v3h-3zM1479 647h1v3h-1zM1259 649h3v1h-3zM1299 649h3v1h-3zM1321 650h3v1h-3zM1335 650h3v1h-3zM1413 649h3v3h-3zM1415 649h3v1h-3zM1421 649h3v3h-3zM1423 649h1v3h-1zM1427 649h3v1h-3zM1435 649h3v3h-3zM1437 649h3v3h-3zM1453 650h3v1h-3zM1459 649h3v3h-3zM1461 649h3v1h-3zM1463 649h3v1h-3zM1493 649h3v3h-3zM1495 649h3v1h-3zM1499 649h3v3h-3zM1317 651h3v3h-3zM1321 651h3v1h-3zM1367 651h3v3h-3zM1383 651h3v3h-3zM1397 651h1v3h-1zM1407 651h3v3h-3zM1415 651h3v3h-3zM1429 651h3v1h-3zM1439 652h3v1h-3zM1457 651h3v3h-3zM1463 651h3v3h-3zM1465 652h3v1h-3zM1469 651h3v1h-3zM1483 651h3v3h-3zM1517 651h3v3h-3zM1241 653h3v3h-3zM1261 653h3v1h-3zM1271 653h3v3h-3zM1303 653h3v1h-3zM1307 654h3v1h-3zM1335 653h3v3h-3zM1343 653h1v3h-1zM1347 653h3v3h-3zM1433 653h3v3h-3zM1437 653h3v3h-3zM1450 653h1v3h-1zM1451 653h3v3h-3zM1457 653h3v3h-3zM1459 653h3v1h-3zM1465 653h3v3h-3zM1471 653h3v3h-3zM1485 653h3v3h-3zM1500 653h1v3h-1zM1507 654h3v1h-3zM1305 655h3v3h-3zM1317 655h3v3h-3zM1331 655h3v3h-3zM1337 655h3v3h-3zM1347 655h3v3h-3zM1351 655h3v3h-3zM1361 656h3v1h-3zM1371 655h3v3h-3zM1375 655h3v3h-3zM1429 656h3v1h-3zM1431 655h3v3h-3zM1445 655h3v1h-3zM1449 655h3v3h-3zM1451 655h3v3h-3zM1461 655h3v3h-3zM1483 655h3v3h-3zM1487 655h3v3h-3zM1501 655h3v3h-3zM1307 658h3v1h-3zM1318 657h1v3h-1zM1325 657h3v3h-3zM1373 657h3v3h-3zM1399 657h3v3h-3zM1402 657h1v3h-1zM1404 657h1v3h-1zM1408 657h1v3h-1zM1409 657h3v1h-3zM1425 657h3v1h-3zM1431 657h3v3h-3zM1437 657h3v3h-3zM1451 658h3v1h-3zM1463 657h3v3h-3zM1473 657h3v1h-3zM1482 657h1v3h-1zM1487 657h3v3h-3zM1493 657h3v3h-3zM1287 659h3v3h-3zM1291 659h3v3h-3zM1319 659h3v3h-3zM1345 659h3v3h-3zM1347 660h3v1h-3zM1353 659h3v3h-3zM1361 659h3v3h-3zM1383 659h3v3h-3zM1387 659h1v3h-1zM1419 659h3v3h-3zM1427 659h3v3h-3zM1431 659h1v3h-1zM1442 659h1v3h-1zM1459 659h3v1h-3zM1474 659h1v3h-1zM1475 659h1v3h-1zM1486 659h1v3h-1zM1495 660h3v1h-3zM1263 662h3v1h-3zM1317 661h3v3h-3zM1321 661h3v3h-3zM1337 661h3v3h-3zM1363 662h3v1h-3zM1375 661h3v3h-3zM1377 661h3v3h-3zM1383 661h3v1h-3zM1387 661h3v3h-3zM1427 662h3v1h-3zM1429 661h3v1h-3zM1438 661h1v3h-1zM1441 662h3v1h-3zM1445 662h3v1h-3zM1457 661h3v3h-3zM1513 661h3v3h-3zM1263 664h3v1h-3zM1267 663h3v3h-3zM1291 663h3v3h-3zM1299 663h3v3h-3zM1313 663h3v3h-3zM1327 663h3v3h-3zM1331 663h3v3h-3zM1333 664h3v1h-3zM1338 663h1v3h-1zM1339 663h3v3h-3zM1341 663h3v3h-3zM1347 663h3v3h-3zM1359 663h3v1h-3zM1369 663h3v3h-3zM1385 663h3v3h-3zM1399 664h3v1h-3zM1403 663h3v3h-3zM1415 663h3v3h-3zM1417 663h3v3h-3zM1423 663h3v3h-3zM1433 663h3v1h-3zM1435 664h3v1h-3zM1439 663h3v1h-3zM1446 663h1v3h-1zM1449 663h3v3h-3zM1451 664h3v1h-3zM1461 663h3v1h-3zM1463 664h3v1h-3zM1485 663h3v3h-3zM1509 663h3v3h-3zM1269 665h3v1h-3zM1275 665h3v3h-3zM1306 665h1v3h-1zM1331 665h3v1h-3zM1333 665h3v3h-3zM1337 665h3v3h-3zM1349 666h3v1h-3zM1353 665h3v3h-3zM1355 665h3v3h-3zM1359 665h3v1h-3zM1373 665h3v3h-3zM1385 665h3v1h-3zM1423 666h3v1h-3zM1435 665h3v3h-3zM1445 665h3v3h-3zM1453 665h3v1h-3zM1465 665h3v3h-3zM1483 665h3v3h-3zM1495 666h3v1h-3zM1503 666h3v1h-3zM1333 667h3v3h-3zM1347 668h3v1h-3zM1379 668h3v1h-3zM1382 667h1v3h-1zM1385 667h3v1h-3zM1405 667h3v1h-3zM1411 667h3v3h-3zM1413 668h3v1h-3zM1417 667h3v3h-3zM1423 667h3v1h-3zM1427 667h3v3h-3zM1433 667h3v1h-3zM1435 667h3v3h-3zM1446 667h1v3h-1zM1471 668h3v1h-3zM1478 667h1v3h-1zM1495 667h3v1h-3zM1500 667h1v3h-1zM1245 669h3v3h-3zM1287 669h3v3h-3zM1293 669h3v3h-3zM1307 669h3v1h-3zM1311 669h3v3h-3zM1325 669h3v3h-3zM1332 669h1v3h-1zM1337 669h3v3h-3zM1339 669h3v3h-3zM1343 669h3v3h-3zM1349 669h3v3h-3zM1369 669h3v1h-3zM1377 669h3v3h-3zM1381 669h3v1h-3zM1383 669h3v3h-3zM1397 669h3v3h-3zM1407 669h3v3h-3zM1409 669h3v3h-3zM1426 669h1v3h-1zM1443 670h3v1h-3zM1449 669h3v3h-3zM1457 669h3v3h-3zM1469 669h3v3h-3zM1481 669h3v3h-3zM1513 669h3v1h-3zM1515 669h3v3h-3zM1259 671h1v3h-1zM1269 671h3v3h-3zM1271 671h3v3h-3zM1279 671h3v1h-3zM1311 672h3v1h-3zM1321 671h3v1h-3zM1325 671h3v3h-3zM1327 671h3v3h-3zM1349 671h3v3h-3zM1365 671h3v3h-3zM1367 671h1v3h-1zM1383 671h3v1h-3zM1389 671h3v3h-3zM1419 671h1v3h-1zM1421 671h3v3h-3zM1425 671h1v3h-1zM1441 672h3v1h-3zM1464 671h1v3h-1zM1467 671h3v3h-3zM1469 672h3v1h-3zM1471 671h3v3h-3zM1477 671h3v3h-3zM1479 671h3v3h-3zM1491 671h3v3h-3zM1241 673h3v3h-3zM1263 674h3v1h-3zM1275 673h3v3h-3zM1281 673h3v3h-3zM1291 673h1v3h-1zM1303 673h3v3h-3zM1309 673h1v3h-1zM1311 673h3v3h-3zM1323 673h3v1h-3zM1333 673h3v3h-3zM1335 673h1v3h-1zM1351 673h1v3h-1zM1361 673h3v1h-3zM1365 673h3v1h-3zM1385 674h3v1h-3zM1409 674h3v1h-3zM1419 673h1v3h-1zM1431 673h3v3h-3zM1471 673h3v3h-3zM1479 673h3v3h-3zM1487 673h3v3h-3zM1283 675h3v3h-3zM1293 675h3v3h-3zM1297 675h3v1h-3zM1311 675h3v3h-3zM1317 675h3v3h-3zM1327 675h3v3h-3zM1333 675h3v3h-3zM1335 676h3v1h-3zM1347 675h3v3h-3zM1357 675h3v3h-3zM1360 675h1v3h-1zM1389 675h3v1h-3zM1409 676h3v1h-3zM1421 675h3v1h-3zM1427 675h3v3h-3zM1436 675h1v3h-1zM1443 675h3v3h-3zM1447 675h3v3h-3zM1452 675h1v3h-1zM1461 675h1v3h-1zM1463 675h3v3h-3zM1475 675h3v3h-3zM1487 675h3v3h-3zM1493 675h3v1h-3zM1255 677h3v3h-3zM1275 678h3v1h-3zM1277 678h3v1h-3zM1279 677h3v3h-3zM1289 677h3v3h-3zM1300 677h1v3h-1zM1303 677h3v3h-3zM1323 677h1v3h-1zM1329 677h1v3h-1zM1341 677h3v3h-3zM1347 677h3v3h-3zM1374 677h1v3h-1zM1377 677h1v3h-1zM1387 678h3v1h-3zM1404 677h1v3h-1zM1405 677h3v3h-3zM1407 677h1v3h-1zM1413 677h3v3h-3zM1423 677h3v3h-3zM1427 677h3v3h-3zM1431 677h3v3h-3zM1447 677h3v3h-3zM1450 677h1v3h-1zM1453 677h3v1h-3zM1458 677h1v3h-1zM1459 677h3v3h-3zM1471 677h3v1h-3zM1475 677h3v1h-3zM1477 677h3v1h-3zM1483 677h3v1h-3zM1490 677h1v3h-1zM1493 677h3v3h-3zM1235 679h3v1h-3zM1245 679h3v3h-3zM1251 679h3v3h-3zM1263 680h3v1h-3zM1265 680h3v1h-3zM1279 679h1v3h-1zM1307 679h3v1h-3zM1343 679h1v3h-1zM1355 679h3v3h-3zM1357 679h1v3h-1zM1369 680h3v1h-3zM1371 679h3v3h-3zM1375 679h3v3h-3zM1379 680h3v1h-3zM1381 679h3v1h-3zM1387 679h3v3h-3zM1395 680h3v1h-3zM1429 679h1v3h-1zM1431 679h3v3h-3zM1443 679h1v3h-1zM1457 680h3v1h-3zM1460 679h1v3h-1zM1471 680h3v1h-3zM1477 679h3v3h-3zM1269 681h3v3h-3zM1293 681h3v1h-3zM1299 681h3v3h-3zM1301 681h3v1h-3zM1312 681h1v3h-1zM1314 681h1v3h-1zM1321 681h3v1h-3zM1327 681h3v1h-3zM1339 681h3v3h-3zM1341 681h3v3h-3zM1353 681h3v3h-3zM1355 682h3v1h-3zM1365 681h3v3h-3zM1371 681h3v3h-3zM1373 681h3v3h-3zM1390 681h1v3h-1zM1411 681h3v3h-3zM1419 682h3v1h-3zM1457 681h3v1h-3zM1459 681h3v3h-3zM1469 682h3v1h-3zM1475 682h3v1h-3zM1477 681h1v3h-1zM1495 681h3v3h-3zM1251 683h3v3h-3zM1273 684h3v1h-3zM1275 683h3v3h-3zM1285 683h3v1h-3zM1291 683h3v3h-3zM1294 683h1v3h-1zM1295 684h3v1h-3zM1302 683h1v3h-1zM1305 683h3v3h-3zM1309 683h3v3h-3zM1327 684h3v1h-3zM1329 683h1v3h-1zM1347 683h3v3h-3zM1373 683h3v1h-3zM1379 683h3v1h-3zM1387 683h3v1h-3zM1391 683h3v1h-3zM1400 683h1v3h-1zM1405 683h3v3h-3zM1407 683h3v3h-3zM1409 684h3v1h-3zM1413 683h3v3h-3zM1431 684h3v1h-3zM1452 683h1v3h-1zM1463 683h3v1h-3zM1467 683h3v1h-3zM1243 685h3v3h-3zM1251 685h1v3h-1zM1261 685h1v3h-1zM1263 685h3v3h-3zM1265 686h3v1h-3zM1285 685h3v3h-3zM1291 685h3v3h-3zM1307 685h3v3h-3zM1309 685h3v3h-3zM1335 685h3v3h-3zM1337 686h3v1h-3zM1341 685h3v3h-3zM1349 686h3v1h-3zM1361 686h3v1h-3zM1363 685h3v3h-3zM1377 685h1v3h-1zM1392 685h1v3h-1zM1399 685h3v3h-3zM1405 685h3v3h-3zM1407 685h3v3h-3zM1415 685h3v3h-3zM1419 686h3v1h-3zM1430 685h1v3h-1zM1435 685h3v3h-3zM1437 685h1v3h-1zM1441 685h3v3h-3zM1449 686h3v1h-3zM1465 685h3v3h-3zM1475 685h3v1h-3zM1487 685h1v3h-1zM1507 686h3v1h-3zM1170 687h1v3h-1zM1238 687h1v3h-1zM1247 687h3v1h-3zM1257 687h3v3h-3zM1259 687h3v1h-3zM1271 687h3v3h-3zM1273 688h3v1h-3zM1275 687h1v3h-1zM1279 687h1v3h-1zM1289 687h3v3h-3zM1299 687h3v3h-3zM1302 687h1v3h-1zM1303 688h3v1h-3zM1313 687h3v3h-3zM1315 687h3v3h-3zM1325 687h3v1h-3zM1331 687h3v3h-3zM1336 687h1v3h-1zM1339 687h3v3h-3zM1354 687h1v3h-1zM1356 687h1v3h-1zM1357 687h3v3h-3zM1361 687h3v3h-3zM1363 687h3v3h-3zM1365 687h3v1h-3zM1377 687h3v3h-3zM1385 687h1v3h-1zM1387 687h3v1h-3zM1389 687h3v3h-3zM1405 687h3v3h-3zM1407 687h3v1h-3zM1421 687h3v1h-3zM1427 687h3v3h-3zM1431 687h3v3h-3zM1433 687h3v3h-3zM1445 687h1v3h-1zM1449 687h3v3h-3zM1451 687h1v3h-1zM1459 687h3v3h-3zM1467 688h3v1h-3zM1481 687h3v3h-3zM1161 689h3v3h-3zM1213 690h3v1h-3zM1235 689h3v3h-3zM1237 689h3v3h-3zM1257 689h3v3h-3zM1261 690h3v1h-3zM1267 689h3v1h-3zM1275 689h1v3h-1zM1279 690h3v1h-3zM1281 690h3v1h-3zM1283 689h3v1h-3zM1291 689h3v3h-3zM1295 689h3v3h-3zM1303 689h3v1h-3zM1305 689h3v3h-3zM1317 689h3v3h-3zM1345 689h1v3h-1zM1349 689h3v3h-3zM1359 689h3v3h-3zM1371 689h3v3h-3zM1375 689h3v1h-3zM1381 689h3v3h-3zM1387 689h1v3h-1zM1401 689h3v1h-3zM1413 689h3v3h-3zM1415 689h3v3h-3zM1421 689h1v3h-1zM1426 689h1v3h-1zM1429 690h3v1h-3zM1433 689h3v1h-3zM1445 689h3v3h-3zM1454 689h1v3h-1zM1455 689h1v3h-1zM1459 689h3v1h-3zM1467 689h1v3h-1zM1469 689h1v3h-1zM1489 689h3v1h-3zM1491 689h3v1h-3zM1241 691h3v3h-3zM1243 691h3v3h-3zM1259 691h3v3h-3zM1261 691h3v1h-3zM1266 691h1v3h-1zM1267 691h3v1h-3zM1277 691h1v3h-1zM1289 691h3v3h-3zM1293 692h3v1h-3zM1309 691h3v3h-3zM1315 692h3v1h-3zM1317 691h3v3h-3zM1323 691h1v3h-1zM1333 691h3v3h-3zM1343 691h3v3h-3zM1347 691h3v3h-3zM1352 691h1v3h-1zM1357 691h3v1h-3zM1368 691h1v3h-1zM1387 691h3v3h-3zM1397 691h3v3h-3zM1417 691h3v1h-3zM1419 691h3v3h-3zM1434 691h1v3h-1zM1437 691h3v3h-3zM1445 691h3v1h-3zM1449 691h3v3h-3zM1453 691h3v1h-3zM1457 691h1v3h-1zM1461 691h3v3h-3zM1477 691h3v3h-3zM1495 691h3v1h-3zM1248 693h1v3h-1zM1249 693h3v1h-3zM1255 694h3v1h-3zM1275 694h3v1h-3zM1285 693h3v1h-3zM1303 693h3v3h-3zM1313 694h3v1h-3zM1317 693h3v3h-3zM1322 693h1v3h-1zM1325 693h1v3h-1zM1327 694h3v1h-3zM1330 693h1v3h-1zM1344 693h1v3h-1zM1347 693h3v1h-3zM1355 694h3v1h-3zM1365 693h3v3h-3zM1377 694h3v1h-3zM1383 693h3v3h-3zM1401 693h3v1h-3zM1417 694h3v1h-3zM1423 693h3v1h-3zM1428 693h1v3h-1zM1443 693h3v3h-3zM1447 693h3v1h-3zM1449 693h3v3h-3zM1455 694h3v1h-3zM1457 693h3v3h-3zM1473 693h3v3h-3zM1485 693h3v1h-3zM1249 695h3v1h-3zM1253 695h3v3h-3zM1277 695h3v3h-3zM1281 695h3v3h-3zM1289 695h3v1h-3zM1301 695h3v1h-3zM1307 695h3v3h-3zM1311 695h3v3h-3zM1341 696h3v1h-3zM1345 695h3v3h-3zM1348 695h1v3h-1zM1351 695h3v3h-3zM1353 695h3v1h-3zM1359 695h3v3h-3zM1375 695h1v3h-1zM1379 695h3v3h-3zM1381 696h3v1h-3zM1421 695h3v1h-3zM1435 695h3v1h-3zM1439 695h3v3h-3zM1455 695h3v3h-3zM1477 695h3v3h-3zM1237 697h3v3h-3zM1247 697h1v3h-1zM1249 697h3v3h-3zM1257 697h3v3h-3zM1261 697h3v3h-3zM1264 697h1v3h-1zM1271 697h3v3h-3zM1283 697h3v3h-3zM1285 697h3v3h-3zM1291 697h3v3h-3zM1297 697h1v3h-1zM1299 698h3v1h-3zM1310 697h1v3h-1zM1313 697h3v3h-3zM1321 697h3v3h-3zM1325 698h3v1h-3zM1338 697h1v3h-1zM1343 698h3v1h-3zM1351 697h1v3h-1zM1359 697h1v3h-1zM1363 697h3v3h-3zM1372 697h1v3h-1zM1377 697h3v3h-3zM1393 697h3v1h-3zM1399 697h3v1h-3zM1405 697h3v3h-3zM1407 697h3v3h-3zM1419 698h3v1h-3zM1427 697h3v1h-3zM1443 697h3v1h-3zM1449 697h3v3h-3zM1453 698h3v1h-3zM1471 697h3v3h-3zM1481 697h3v3h-3zM1483 698h3v1h-3zM1259 700h3v1h-3zM1297 700h3v1h-3zM1315 699h3v3h-3zM1319 699h3v3h-3zM1327 699h3v1h-3zM1343 699h3v3h-3zM1345 699h3v3h-3zM1357 699h1v3h-1zM1363 699h3v3h-3zM1365 700h3v1h-3zM1373 700h3v1h-3zM1377 699h3v1h-3zM1383 699h3v3h-3zM1395 699h3v1h-3zM1401 699h3v1h-3zM1411 699h3v3h-3zM1417 699h3v3h-3zM1420 699h1v3h-1zM1425 699h3v3h-3zM1439 699h3v1h-3zM1441 699h3v3h-3zM1445 699h3v3h-3zM1459 699h1v3h-1zM1465 699h3v3h-3zM1467 700h3v1h-3zM1481 699h3v3h-3zM1487 699h3v3h-3zM1223 702h3v1h-3zM1243 702h3v1h-3zM1259 701h3v3h-3zM1272 701h1v3h-1zM1291 701h3v3h-3zM1294 701h1v3h-1zM1297 701h3v3h-3zM1303 701h1v3h-1zM1311 701h3v1h-3zM1317 701h3v3h-3zM1321 701h3v3h-3zM1329 702h3v1h-3zM1331 701h3v3h-3zM1352 701h1v3h-1zM1353 701h3v3h-3zM1355 701h3v3h-3zM1365 701h3v1h-3zM1371 701h3v1h-3zM1379 701h3v3h-3zM1387 702h3v1h-3zM1393 701h3v1h-3zM1397 701h3v3h-3zM1401 702h3v1h-3zM1407 701h3v3h-3zM1409 701h1v3h-1zM1413 701h3v3h-3zM1443 701h3v3h-3zM1475 702h3v1h-3zM1195 703h3v1h-3zM1213 703h3v1h-3zM1231 703h3v3h-3zM1235 703h3v3h-3zM1239 703h3v3h-3zM1251 703h1v3h-1zM1259 704h3v1h-3zM1261 704h3v1h-3zM1275 704h3v1h-3zM1289 703h3v3h-3zM1311 703h3v3h-3zM1319 703h3v3h-3zM1323 703h3v3h-3zM1334 703h1v3h-1zM1335 703h3v3h-3zM1349 703h3v1h-3zM1359 704h3v1h-3zM1371 703h3v3h-3zM1373 703h3v3h-3zM1375 703h3v1h-3zM1379 703h3v3h-3zM1383 703h3v1h-3zM1387 703h3v3h-3zM1393 704h3v1h-3zM1403 703h3v3h-3zM1409 703h3v3h-3zM1437 703h3v1h-3zM1465 703h3v3h-3zM1467 703h3v3h-3zM1485 703h3v3h-3zM1487 703h3v3h-3zM1189 705h1v3h-1zM1193 705h3v3h-3zM1205 706h3v1h-3zM1209 706h3v1h-3zM1227 705h3v1h-3zM1235 705h3v1h-3zM1241 705h3v3h-3zM1257 705h3v1h-3zM1261 705h3v3h-3zM1263 705h1v3h-1zM1268 705h1v3h-1zM1275 705h3v3h-3zM1287 706h3v1h-3zM1293 705h3v1h-3zM1297 705h1v3h-1zM1303 705h3v3h-3zM1305 705h3v3h-3zM1309 705h1v3h-1zM1311 705h3v1h-3zM1315 706h3v1h-3zM1319 705h3v3h-3zM1331 705h3v3h-3zM1339 705h3v3h-3zM1356 705h1v3h-1zM1365 705h3v3h-3zM1371 705h3v3h-3zM1375 705h3v3h-3zM1389 705h3v3h-3zM1397 706h3v1h-3zM1399 705h3v3h-3zM1401 705h3v3h-3zM1409 705h3v1h-3zM1421 705h3v3h-3zM1423 705h3v3h-3zM1437 705h3v3h-3zM1467 705h3v1h-3zM1475 705h3v1h-3zM1477 706h3v1h-3zM1488 705h1v3h-1zM1159 707h3v1h-3zM1175 707h3v3h-3zM1234 707h1v3h-1zM1243 708h3v1h-3zM1251 707h3v3h-3zM1257 707h3v3h-3zM1275 707h3v1h-3zM1293 708h3v1h-3zM1295 707h3v3h-3zM1301 707h1v3h-1zM1305 707h3v3h-3zM1307 707h1v3h-1zM1313 707h3v3h-3zM1319 708h3v1h-3zM1323 707h3v3h-3zM1331 708h3v1h-3zM1345 707h1v3h-1zM1352 707h1v3h-1zM1355 707h3v3h-3zM1357 707h3v3h-3zM1391 707h1v3h-1zM1393 707h1v3h-1zM1417 707h1v3h-1zM1421 708h3v1h-3zM1423 707h1v3h-1zM1429 707h3v3h-3zM1437 707h3v3h-3zM1445 707h1v3h-1zM1483 708h3v1h-3zM1489 708h3v1h-3zM1497 707h3v3h-3zM1241 710h3v1h-3zM1253 709h3v3h-3zM1257 709h3v3h-3zM1269 709h3v3h-3zM1284 709h1v3h-1zM1289 709h3v3h-3zM1291 709h1v3h-1zM1295 709h3v3h-3zM1303 709h1v3h-1zM1305 709h3v1h-3zM1319 710h3v1h-3zM1333 709h3v3h-3zM1344 709h1v3h-1zM1355 709h3v3h-3zM1373 709h3v3h-3zM1375 709h3v1h-3zM1377 709h3v3h-3zM1385 710h3v1h-3zM1387 709h3v3h-3zM1399 709h1v3h-1zM1403 709h3v3h-3zM1405 709h3v1h-3zM1409 709h3v3h-3zM1413 709h3v1h-3zM1416 709h1v3h-1zM1421 709h3v3h-3zM1427 709h1v3h-1zM1429 709h3v3h-3zM1435 709h3v3h-3zM1437 709h3v3h-3zM1439 709h3v3h-3zM1443 709h3v3h-3zM1447 709h3v3h-3zM1467 709h3v1h-3zM1471 709h3v3h-3zM1478 709h1v3h-1zM1481 709h3v3h-3zM1207 711h3v3h-3zM1213 711h3v3h-3zM1221 711h1v3h-1zM1225 711h3v3h-3zM1242 711h1v3h-1zM1251 711h3v3h-3zM1253 711h3v3h-3zM1255 711h3v3h-3zM1277 711h3v3h-3zM1301 711h3v3h-3zM1323 712h3v1h-3zM1330 711h1v3h-1zM1333 711h1v3h-1zM1367 711h3v3h-3zM1385 711h3v3h-3zM1387 711h3v3h-3zM1389 711h3v3h-3zM1391 711h3v3h-3zM1395 712h3v1h-3zM1413 711h3v3h-3zM1417 711h3v3h-3zM1419 711h1v3h-1zM1421 711h3v1h-3zM1431 711h3v1h-3zM1435 711h3v1h-3zM1439 712h3v1h-3zM1441 711h3v3h-3zM1457 711h3v3h-3zM1463 711h3v3h-3zM1465 711h3v3h-3zM1469 711h3v3h-3zM1473 711h3v1h-3zM1479 711h3v3h-3zM1217 713h3v3h-3zM1229 713h3v3h-3zM1241 714h3v1h-3zM1259 713h3v3h-3zM1269 713h3v3h-3zM1293 714h3v1h-3zM1299 714h3v1h-3zM1303 713h3v1h-3zM1305 713h3v1h-3zM1307 714h3v1h-3zM1327 714h3v1h-3zM1337 714h3v1h-3zM1345 713h3v3h-3zM1367 713h3v1h-3zM1384 713h1v3h-1zM1388 713h1v3h-1zM1391 713h3v3h-3zM1413 713h3v3h-3zM1425 714h3v1h-3zM1447 713h3v3h-3zM1457 713h3v1h-3zM1191 715h3v3h-3zM1202 715h1v3h-1zM1225 715h3v3h-3zM1239 715h3v3h-3zM1241 715h1v3h-1zM1257 715h3v1h-3zM1287 715h3v3h-3zM1293 715h3v3h-3zM1319 715h3v3h-3zM1323 715h3v3h-3zM1331 715h3v3h-3zM1333 715h3v3h-3zM1351 715h3v3h-3zM1353 715h3v3h-3zM1379 715h1v3h-1zM1424 715h1v3h-1zM1427 716h3v1h-3zM1435 715h3v1h-3zM1443 715h3v3h-3zM1463 715h1v3h-1zM1469 715h3v1h-3zM1185 718h3v1h-3zM1209 717h3v1h-3zM1213 717h3v3h-3zM1221 717h3v3h-3zM1229 717h3v3h-3zM1243 717h3v1h-3zM1245 717h3v3h-3zM1253 717h3v3h-3zM1255 717h3v3h-3zM1264 717h1v3h-1zM1278 717h1v3h-1zM1284 717h1v3h-1zM1293 717h3v3h-3zM1306 717h1v3h-1zM1315 717h3v3h-3zM1321 717h3v3h-3zM1333 717h3v1h-3zM1335 717h3v3h-3zM1373 717h3v3h-3zM1379 717h3v3h-3zM1389 717h3v3h-3zM1391 717h1v3h-1zM1393 717h3v1h-3zM1407 717h3v3h-3zM1411 717h3v3h-3zM1421 717h3v3h-3zM1442 717h1v3h-1zM1447 717h3v1h-3zM1459 718h3v1h-3zM1485 717h3v3h-3zM1141 719h3v3h-3zM1197 719h3v3h-3zM1199 719h3v3h-3zM1217 719h1v3h-1zM1227 719h1v3h-1zM1232 719h1v3h-1zM1239 719h3v1h-3zM1241 719h3v3h-3zM1248 719h1v3h-1zM1249 719h3v3h-3zM1253 719h3v3h-3zM1279 719h3v1h-3zM1309 719h3v3h-3zM1327 719h3v1h-3zM1335 719h3v1h-3zM1347 719h3v3h-3zM1365 720h3v1h-3zM1373 719h3v1h-3zM1401 719h3v1h-3zM1409 719h3v1h-3zM1415 719h3v3h-3zM1419 719h3v3h-3zM1421 719h3v3h-3zM1423 719h3v3h-3zM1427 719h3v3h-3zM1433 720h3v1h-3zM1441 719h3v3h-3zM1459 720h3v1h-3zM1483 719h3v3h-3zM1209 721h3v3h-3zM1213 721h3v1h-3zM1217 721h3v3h-3zM1243 722h3v1h-3zM1253 721h3v3h-3zM1255 722h3v1h-3zM1261 721h3v1h-3zM1263 721h1v3h-1zM1267 721h3v3h-3zM1293 721h3v3h-3zM1295 721h3v3h-3zM1310 721h1v3h-1zM1313 721h3v1h-3zM1315 722h3v1h-3zM1343 721h3v3h-3zM1351 721h3v3h-3zM1361 721h3v3h-3zM1375 721h3v3h-3zM1401 721h3v3h-3zM1419 722h3v1h-3zM1425 721h3v1h-3zM1429 722h3v1h-3zM1471 721h3v1h-3zM1513 722h3v1h-3zM1171 723h3v3h-3zM1237 723h3v3h-3zM1239 723h3v3h-3zM1247 724h3v1h-3zM1263 723h3v1h-3zM1277 724h3v1h-3zM1323 723h3v3h-3zM1329 723h1v3h-1zM1331 723h3v1h-3zM1337 724h3v1h-3zM1343 723h3v3h-3zM1349 724h3v1h-3zM1351 723h3v3h-3zM1359 723h3v1h-3zM1377 723h3v3h-3zM1381 723h3v3h-3zM1393 723h3v3h-3zM1395 724h3v1h-3zM1405 723h3v3h-3zM1421 723h3v3h-3zM1445 723h3v3h-3zM1449 723h1v3h-1zM1457 723h3v3h-3zM1463 723h1v3h-1zM1475 724h3v1h-3zM1493 724h3v1h-3zM1511 723h3v3h-3zM1151 725h3v3h-3zM1189 725h3v1h-3zM1193 725h3v3h-3zM1197 725h3v3h-3zM1203 725h3v1h-3zM1211 725h3v1h-3zM1215 725h3v3h-3zM1231 725h3v1h-3zM1259 725h3v3h-3zM1261 725h3v3h-3zM1277 725h3v3h-3zM1285 725h3v3h-3zM1321 725h3v1h-3zM1333 725h3v3h-3zM1342 725h1v3h-1zM1352 725h1v3h-1zM1393 725h3v3h-3zM1399 725h3v3h-3zM1425 725h3v3h-3zM1431 725h3v3h-3zM1444 725h1v3h-1zM1447 725h3v3h-3zM1465 725h3v3h-3zM1469 725h1v3h-1zM1479 725h3v3h-3zM1482 725h1v3h-1zM1203 727h3v3h-3zM1209 727h3v3h-3zM1237 727h3v3h-3zM1275 728h3v1h-3zM1290 727h1v3h-1zM1303 728h3v1h-3zM1321 727h3v3h-3zM1324 727h1v3h-1zM1365 727h3v3h-3zM1373 727h3v1h-3zM1385 727h3v3h-3zM1389 727h1v3h-1zM1395 727h3v3h-3zM1405 727h3v3h-3zM1413 727h1v3h-1zM1419 727h1v3h-1zM1455 727h3v3h-3zM1483 727h3v3h-3zM1489 727h1v3h-1zM1195 729h3v3h-3zM1235 729h3v3h-3zM1253 729h3v1h-3zM1263 729h3v3h-3zM1345 729h3v3h-3zM1365 730h3v1h-3zM1385 729h3v3h-3zM1409 729h3v3h-3zM1411 729h3v3h-3zM1417 729h3v3h-3zM1424 729h1v3h-1zM1433 729h3v3h-3zM1437 729h3v3h-3zM1447 729h3v1h-3zM1457 729h3v3h-3zM1459 729h3v3h-3zM1475 729h3v3h-3zM1199 731h3v1h-3zM1215 732h3v1h-3zM1221 731h1v3h-1zM1223 731h1v3h-1zM1231 731h3v3h-3zM1237 731h3v3h-3zM1250 731h1v3h-1zM1261 731h3v3h-3zM1327 731h3v1h-3zM1337 731h3v1h-3zM1353 731h3v3h-3zM1366 731h1v3h-1zM1390 731h1v3h-1zM1403 731h3v3h-3zM1420 731h1v3h-1zM1427 731h3v1h-3zM1449 731h3v3h-3zM1454 731h1v3h-1zM1475 731h1v3h-1zM1481 731h3v1h-3zM1493 731h3v3h-3zM1187 733h3v3h-3zM1201 734h3v1h-3zM1209 733h3v3h-3zM1215 734h3v1h-3zM1221 733h3v1h-3zM1228 733h1v3h-1zM1239 734h3v1h-3zM1247 734h3v1h-3zM1319 733h3v3h-3zM1325 733h1v3h-1zM1335 733h3v3h-3zM1337 733h3v3h-3zM1347 733h3v3h-3zM1359 733h3v3h-3zM1361 733h3v3h-3zM1375 733h3v1h-3zM1377 733h3v3h-3zM1385 733h3v3h-3zM1387 733h3v3h-3zM1391 733h3v3h-3zM1399 733h3v3h-3zM1401 733h3v3h-3zM1443 733h3v3h-3zM1449 733h3v3h-3zM1453 734h3v1h-3zM1455 733h3v1h-3zM1203 736h3v1h-3zM1209 736h3v1h-3zM1223 735h3v3h-3zM1228 735h1v3h-1zM1245 735h3v3h-3zM1261 735h3v1h-3zM1263 735h3v3h-3zM1265 735h3v3h-3zM1281 736h3v1h-3zM1300 735h1v3h-1zM1308 735h1v3h-1zM1315 736h3v1h-3zM1331 736h3v1h-3zM1333 735h3v3h-3zM1351 735h3v3h-3zM1357 735h3v3h-3zM1363 735h3v3h-3zM1367 735h3v3h-3zM1369 735h3v3h-3zM1371 735h3v3h-3zM1384 735h1v3h-1zM1395 735h1v3h-1zM1399 735h3v3h-3zM1401 735h3v1h-3zM1425 736h3v1h-3zM1433 736h3v1h-3zM1435 736h3v1h-3zM1443 736h3v1h-3zM1451 735h3v1h-3zM1467 736h3v1h-3zM1487 735h3v3h-3zM1507 736h3v1h-3zM1193 737h3v3h-3zM1207 737h3v3h-3zM1225 737h1v3h-1zM1265 737h3v3h-3zM1287 738h3v1h-3zM1327 737h3v3h-3zM1339 737h3v1h-3zM1347 737h3v3h-3zM1349 737h3v3h-3zM1359 737h1v3h-1zM1367 737h3v1h-3zM1385 737h3v1h-3zM1389 738h3v1h-3zM1393 738h3v1h-3zM1409 737h1v3h-1zM1416 737h1v3h-1zM1423 737h3v3h-3zM1425 737h3v3h-3zM1437 738h3v1h-3zM1443 738h3v1h-3zM1461 737h3v1h-3zM1471 738h3v1h-3zM1163 739h3v1h-3zM1193 740h3v1h-3zM1197 739h1v3h-1zM1205 740h3v1h-3zM1207 739h3v3h-3zM1213 739h3v3h-3zM1219 739h3v3h-3zM1223 739h3v1h-3zM1238 739h1v3h-1zM1319 739h3v3h-3zM1335 739h3v3h-3zM1343 739h1v3h-1zM1345 739h3v3h-3zM1355 739h3v3h-3zM1362 739h1v3h-1zM1403 739h3v1h-3zM1409 739h3v1h-3zM1413 739h3v3h-3zM1425 739h3v1h-3zM1437 739h3v1h-3zM1441 740h3v1h-3zM1445 739h1v3h-1zM1454 739h1v3h-1zM1473 739h3v3h-3zM1177 741h3v3h-3zM1193 741h3v3h-3zM1215 741h3v3h-3zM1217 742h3v1h-3zM1220 741h1v3h-1zM1257 741h3v1h-3zM1308 741h1v3h-1zM1319 741h3v3h-3zM1337 741h3v1h-3zM1343 741h3v3h-3zM1353 741h3v3h-3zM1355 741h3v3h-3zM1372 741h1v3h-1zM1374 741h1v3h-1zM1385 741h3v3h-3zM1389 741h3v3h-3zM1395 741h3v3h-3zM1397 741h3v3h-3zM1407 741h3v3h-3zM1409 741h3v3h-3zM1425 741h3v3h-3zM1437 741h3v3h-3zM1441 742h3v1h-3zM1445 741h3v3h-3zM1447 741h3v3h-3zM1455 741h3v3h-3zM1479 741h3v3h-3zM1141 744h3v1h-3zM1191 743h3v3h-3zM1196 743h1v3h-1zM1197 743h3v3h-3zM1207 743h3v1h-3zM1221 743h1v3h-1zM1223 743h3v3h-3zM1239 743h3v3h-3zM1241 743h1v3h-1zM1319 743h3v1h-3zM1321 743h1v3h-1zM1323 743h3v3h-3zM1325 743h3v3h-3zM1343 743h3v3h-3zM1367 744h3v1h-3zM1377 743h3v1h-3zM1393 744h3v1h-3zM1402 743h1v3h-1zM1409 743h1v3h-1zM1425 743h3v3h-3zM1440 743h1v3h-1zM1447 743h3v3h-3zM1461 744h3v1h-3zM1169 745h3v3h-3zM1181 745h3v3h-3zM1191 745h3v3h-3zM1193 745h3v3h-3zM1199 745h3v3h-3zM1249 746h3v1h-3zM1309 745h3v1h-3zM1316 745h1v3h-1zM1320 745h1v3h-1zM1331 745h3v3h-3zM1333 745h3v3h-3zM1357 745h3v1h-3zM1395 745h3v1h-3zM1404 745h1v3h-1zM1415 746h3v1h-3zM1419 745h3v3h-3zM1423 745h3v3h-3zM1425 745h3v3h-3zM1427 745h1v3h-1zM1437 745h3v3h-3zM1457 745h3v3h-3zM1481 745h1v3h-1zM1179 747h3v3h-3zM1193 747h3v3h-3zM1201 747h3v3h-3zM1203 747h3v1h-3zM1205 747h3v3h-3zM1221 747h3v3h-3zM1277 747h3v3h-3zM1297 747h3v3h-3zM1309 747h3v1h-3zM1311 747h3v3h-3zM1321 747h3v3h-3zM1329 747h1v3h-1zM1331 747h3v3h-3zM1339 747h3v1h-3zM1341 747h1v3h-1zM1347 747h3v1h-3zM1361 747h3v3h-3zM1363 747h3v3h-3zM1371 748h3v1h-3zM1383 747h3v3h-3zM1405 747h1v3h-1zM1419 747h3v3h-3zM1455 747h3v3h-3zM1463 747h3v3h-3zM1471 747h3v3h-3zM1193 749h3v3h-3zM1197 749h3v3h-3zM1207 750h3v1h-3zM1217 749h3v1h-3zM1283 749h3v1h-3zM1290 749h1v3h-1zM1311 749h3v3h-3zM1324 749h1v3h-1zM1329 749h3v3h-3zM1335 749h3v1h-3zM1343 750h3v1h-3zM1347 749h3v3h-3zM1369 749h3v3h-3zM1389 749h3v3h-3zM1421 749h3v3h-3zM1437 749h3v1h-3zM1441 749h3v3h-3zM1455 749h3v3h-3zM1167 751h3v3h-3zM1181 751h1v3h-1zM1183 751h3v3h-3zM1187 752h3v1h-3zM1191 752h3v1h-3zM1223 752h3v1h-3zM1271 751h3v3h-3zM1297 752h3v1h-3zM1301 752h3v1h-3zM1312 751h1v3h-1zM1315 751h1v3h-1zM1317 751h3v3h-3zM1345 751h3v3h-3zM1411 752h3v1h-3zM1429 751h3v1h-3zM1443 751h3v3h-3zM1455 752h3v1h-3zM1465 751h3v3h-3zM1467 751h3v1h-3zM1471 751h3v1h-3zM1475 752h3v1h-3zM1481 751h3v1h-3zM1483 751h3v3h-3zM1281 753h3v3h-3zM1283 753h3v3h-3zM1291 754h3v1h-3zM1296 753h1v3h-1zM1303 753h3v3h-3zM1321 753h3v3h-3zM1325 753h3v3h-3zM1329 754h3v1h-3zM1333 754h3v1h-3zM1347 753h3v3h-3zM1379 753h3v3h-3zM1391 753h3v3h-3zM1426 753h1v3h-1zM1437 753h3v3h-3zM1494 753h1v3h-1zM1145 756h3v1h-3zM1163 755h3v3h-3zM1171 755h3v3h-3zM1203 755h1v3h-1zM1215 755h3v3h-3zM1219 755h3v1h-3zM1233 756h3v1h-3zM1269 755h3v3h-3zM1295 755h1v3h-1zM1309 755h3v3h-3zM1313 755h3v3h-3zM1317 756h3v1h-3zM1321 755h3v3h-3zM1325 755h3v3h-3zM1355 756h3v1h-3zM1362 755h1v3h-1zM1371 756h3v1h-3zM1387 755h3v3h-3zM1389 755h3v3h-3zM1403 755h3v3h-3zM1419 755h3v1h-3zM1449 755h1v3h-1zM1469 755h3v3h-3zM1475 756h3v1h-3zM1163 757h3v3h-3zM1189 757h3v3h-3zM1199 757h3v3h-3zM1207 758h3v1h-3zM1216 757h1v3h-1zM1235 757h3v3h-3zM1243 757h3v1h-3zM1255 758h3v1h-3zM1267 757h1v3h-1zM1276 757h1v3h-1zM1277 757h3v3h-3zM1287 757h1v3h-1zM1295 757h3v3h-3zM1313 758h3v1h-3zM1315 757h3v3h-3zM1323 758h3v1h-3zM1329 757h3v3h-3zM1343 757h3v3h-3zM1350 757h1v3h-1zM1361 757h3v3h-3zM1381 758h3v1h-3zM1389 757h3v3h-3zM1397 757h3v1h-3zM1431 757h3v3h-3zM1435 757h3v3h-3zM1208 759h1v3h-1zM1237 759h3v3h-3zM1258 759h1v3h-1zM1291 759h1v3h-1zM1299 760h3v1h-3zM1319 759h3v1h-3zM1321 759h3v3h-3zM1327 760h3v1h-3zM1333 759h3v3h-3zM1343 759h3v3h-3zM1381 759h3v1h-3zM1394 759h1v3h-1zM1397 759h3v3h-3zM1420 759h1v3h-1zM1439 759h3v3h-3zM1467 760h3v1h-3zM1469 760h3v1h-3zM1479 759h3v1h-3zM1173 762h3v1h-3zM1177 761h3v1h-3zM1189 761h3v1h-3zM1211 761h3v3h-3zM1235 761h3v3h-3zM1257 761h3v1h-3zM1269 761h3v3h-3zM1274 761h1v3h-1zM1277 761h3v3h-3zM1297 762h3v1h-3zM1303 761h3v3h-3zM1321 762h3v1h-3zM1327 761h3v3h-3zM1339 761h3v1h-3zM1349 761h3v1h-3zM1385 761h3v1h-3zM1417 761h3v3h-3zM1419 761h3v3h-3zM1423 761h3v1h-3zM1430 761h1v3h-1zM1435 761h3v3h-3zM1439 761h3v3h-3zM1462 761h1v3h-1zM1477 761h1v3h-1zM1189 763h3v1h-3zM1193 763h3v3h-3zM1195 764h3v1h-3zM1203 763h3v1h-3zM1212 763h1v3h-1zM1215 763h3v3h-3zM1217 763h1v3h-1zM1233 763h3v3h-3zM1239 763h3v3h-3zM1259 763h3v3h-3zM1267 764h3v1h-3zM1284 763h1v3h-1zM1287 763h3v3h-3zM1291 763h3v3h-3zM1293 763h1v3h-1zM1303 763h3v1h-3zM1315 763h3v1h-3zM1323 763h3v3h-3zM1351 763h3v3h-3zM1363 763h3v3h-3zM1391 763h1v3h-1zM1433 763h3v3h-3zM1435 764h3v1h-3zM1439 763h3v3h-3zM1147 765h3v3h-3zM1152 765h1v3h-1zM1193 765h3v1h-3zM1199 765h3v1h-3zM1205 765h3v3h-3zM1209 765h3v3h-3zM1212 765h1v3h-1zM1219 765h3v3h-3zM1249 766h3v1h-3zM1253 766h3v1h-3zM1257 765h3v3h-3zM1273 765h3v3h-3zM1275 765h1v3h-1zM1279 765h3v3h-3zM1285 765h3v3h-3zM1291 765h3v3h-3zM1293 765h3v1h-3zM1315 766h3v1h-3zM1343 765h3v3h-3zM1367 765h3v3h-3zM1385 765h3v1h-3zM1401 766h3v1h-3zM1409 765h3v3h-3zM1425 765h3v3h-3zM1435 765h1v3h-1zM1437 765h3v1h-3zM1163 767h3v3h-3zM1191 767h3v1h-3zM1201 767h3v3h-3zM1227 767h3v1h-3zM1247 767h3v3h-3zM1255 767h3v1h-3zM1269 767h3v1h-3zM1274 767h1v3h-1zM1281 767h3v3h-3zM1283 767h3v3h-3zM1295 767h3v1h-3zM1379 767h3v3h-3zM1385 767h1v3h-1zM1411 767h3v3h-3zM1413 767h1v3h-1zM1423 767h3v1h-3zM1469 767h3v3h-3zM1135 769h1v3h-1zM1163 769h3v3h-3zM1183 769h1v3h-1zM1185 769h3v3h-3zM1191 769h3v3h-3zM1199 769h3v1h-3zM1203 769h3v3h-3zM1229 769h3v1h-3zM1253 770h3v1h-3zM1255 769h3v3h-3zM1262 769h1v3h-1zM1263 770h3v1h-3zM1271 770h3v1h-3zM1281 769h3v1h-3zM1284 769h1v3h-1zM1285 769h3v3h-3zM1291 770h3v1h-3zM1293 769h1v3h-1zM1295 769h3v3h-3zM1300 769h1v3h-1zM1301 769h3v3h-3zM1311 769h3v1h-3zM1329 769h3v3h-3zM1405 769h3v3h-3zM1439 769h3v3h-3zM1479 769h3v3h-3zM1161 771h1v3h-1zM1169 771h3v3h-3zM1189 771h3v1h-3zM1194 771h1v3h-1zM1199 771h3v3h-3zM1225 771h3v3h-3zM1233 771h3v1h-3zM1244 771h1v3h-1zM1253 771h3v3h-3zM1274 771h1v3h-1zM1365 771h3v1h-3zM1413 772h3v1h-3zM1423 771h1v3h-1zM1425 772h3v1h-3zM1431 772h3v1h-3zM1492 771h1v3h-1zM1163 773h3v3h-3zM1191 773h3v3h-3zM1199 774h3v1h-3zM1209 773h3v3h-3zM1217 774h3v1h-3zM1229 773h3v3h-3zM1231 774h3v1h-3zM1237 774h3v1h-3zM1241 774h3v1h-3zM1247 773h3v3h-3zM1270 773h1v3h-1zM1275 773h3v3h-3zM1339 773h3v3h-3zM1341 773h3v3h-3zM1359 773h3v3h-3zM1415 773h3v3h-3zM1425 773h3v1h-3zM1429 773h3v1h-3zM1177 775h3v3h-3zM1185 775h3v1h-3zM1208 775h1v3h-1zM1209 776h3v1h-3zM1229 775h3v3h-3zM1235 775h3v3h-3zM1237 775h3v1h-3zM1239 775h3v3h-3zM1245 775h3v3h-3zM1251 775h3v3h-3zM1272 775h1v3h-1zM1307 775h3v3h-3zM1309 775h1v3h-1zM1319 775h3v1h-3zM1327 776h3v1h-3zM1397 775h3v3h-3zM1411 775h3v3h-3zM1179 777h3v3h-3zM1189 777h3v3h-3zM1247 777h3v3h-3zM1251 777h3v3h-3zM1253 777h3v3h-3zM1261 777h3v3h-3zM1265 777h1v3h-1zM1293 777h3v3h-3zM1307 778h3v1h-3zM1315 777h3v1h-3zM1325 777h3v3h-3zM1332 777h1v3h-1zM1393 777h1v3h-1zM1423 777h3v3h-3zM1146 779h1v3h-1zM1169 780h3v1h-3zM1184 779h1v3h-1zM1189 779h3v1h-3zM1195 779h3v1h-3zM1203 779h3v3h-3zM1213 779h3v1h-3zM1223 779h1v3h-1zM1225 780h3v1h-3zM1239 779h1v3h-1zM1259 779h3v3h-3zM1261 779h3v3h-3zM1277 779h3v3h-3zM1291 779h3v3h-3zM1389 780h3v1h-3zM1449 779h1v3h-1zM1457 780h3v1h-3zM1195 781h3v3h-3zM1213 781h3v3h-3zM1221 781h3v3h-3zM1225 781h1v3h-1zM1242 781h1v3h-1zM1276 781h1v3h-1zM1277 781h3v3h-3zM1303 781h3v3h-3zM1307 781h3v3h-3zM1325 781h3v3h-3zM1412 781h1v3h-1zM1431 781h3v3h-3zM1443 781h3v1h-3zM1211 783h3v3h-3zM1215 783h3v3h-3zM1225 784h3v1h-3zM1265 783h3v3h-3zM1293 783h3v1h-3zM1297 783h3v3h-3zM1307 783h3v3h-3zM1391 784h3v1h-3zM1417 784h3v1h-3zM1203 785h3v1h-3zM1223 785h3v3h-3zM1235 785h3v3h-3zM1255 786h3v1h-3zM1265 785h3v3h-3zM1279 785h3v3h-3zM1375 785h3v3h-3zM1441 786h3v1h-3zM1483 785h3v1h-3zM1203 787h1v3h-1zM1229 788h3v1h-3zM1231 787h3v3h-3zM1249 787h3v3h-3zM1255 787h3v3h-3zM1265 787h3v3h-3zM1277 787h3v1h-3zM1291 787h3v3h-3zM1318 787h1v3h-1zM1333 787h3v3h-3zM1383 787h3v3h-3zM1405 788h3v1h-3zM1165 789h3v3h-3zM1199 789h3v3h-3zM1213 790h3v1h-3zM1241 789h3v3h-3zM1249 789h3v1h-3zM1267 789h3v1h-3zM1303 789h3v1h-3zM1138 791h1v3h-1zM1265 791h3v3h-3zM1297 791h3v3h-3zM1313 792h3v1h-3zM1316 791h1v3h-1zM1319 792h3v1h-3zM1377 791h3v3h-3zM1434 791h1v3h-1zM1453 794h3v1h-3zM1481 793h3v3h-3zM1177 796h3v1h-3zM1273 795h3v1h-3zM1285 795h3v3h-3zM1447 795h3v3h-3zM1455 796h3v1h-3zM1241 797h1v3h-1zM1268 797h1v3h-1zM1340 797h1v3h-1zM1399 797h3v3h-3zM1461 797h1v3h-1zM1161 799h3v3h-3zM1209 801h3v3h-3zM1221 803h3v3h-3zM1464 803h1v3h-1zM1153 805h3v3h-3zM1171 805h1v3h-1zM1373 805h3v3h-3zM1239 807h3v3h-3zM1315 807h1v3h-1zM1463 807h3v3h-3zM1183 813h3v3h-3zM1199 813h3v1h-3zM1209 813h3v3h-3zM1201 815h3v3h-3zM1383 815h3v3h-3zM1266 817h1v3h-1zM1213 819h1v3h-1zM1247 819h3v3h-3zM1419 821h3v1h-3zM1233 831h3v3h-3zM1231 834h3v1h-3zM1155 845h1v3h-1zM1259 885h3v3h-3z" fill="#24419c"/>
<path d="M1473.0 568.0h2m-20 14h2m38 0h2m0 2h2m-38 6h2m16 2h2m-26 2h2m24 0h2m16 2h2m-50 2h2m2 0h2m8 0h2m-24 6h2m20 2h2m12 8h2m-28 4h2m12 4h2m8 4h2m-42 12h2m24 0h2m-32 4h2m34 0h2m-24 2h2m12 26h2m-148 10h2m116 0h2m20 2h2m-146 2h2m68 0h2m-12 2h2m74 0h2m-24 2h2m-58 6h2m-66 2h2m24 2h2m42 0h2m30 6h2m-80 6h2m26 0h2m12 0h2m18 0h2m68 0h2m-158 2h2m44 0h2m-56 2h2m144 0h2m-154 2h2m2 0h2m-26 2h2m16 0h2m16 0h2m32 0h2m-112 4h2m44 0h2m-14 2h2m16 0h2m4 0h2m24 0h2m-54 2h2m58 0h2m4 0h2m-72 2h2m12 0h2m30 2h2m24 0h2m82 0h2m-102 2h2m18 0h2m-104 4h2m20 0h2m84 0h2m-18 2h2m-76 2h2m-14 2h2m12 0h2m202 0h2m-226 2h2m214 0h2m-214 2h2m4 0h2m-32 2h2m46 2h2m166 0h2m-148 2h2m18 0h2m-64 2h2m10 2h2m36 0h2m-56 2h4m32 0h2m16 0h2m-38 4h2m-2 2h2m-12 2h2m18 0h2m28 0h2m-90 2h2m28 4h2" stroke="#6bc7b5" stroke-width="2" fill="none"/>
<path d="M1471.0 558.0h2m-2 6h2m16 0h2m-14 2h2m-24 4h2m8 0h2m4 0h2m4 0h2m4 0h2m-14 2h4m14 0h2m2 0h2m-44 2h2m4 0h2m26 0h2m22 0h2m-56 2h2m2 0h2m4 0h2m16 0h4m8 0h2m-48 4h2m2 2h2m4 0h2m8 0h2m4 0h2m4 0h2m8 0h2m-20 2h2m4 0h2m2 0h2m2 0h2m-48 2h2m18 0h2m14 0h2m8 0h2m8 0h2m-50 2h2m28 0h2m2 0h2m4 0h2m-44 2h2m16 0h2m4 0h2m4 0h6m14 0h4m-50 2h2m6 0h2m16 0h2m-36 2h2m38 0h2m-34 2h2m8 0h2m14 0h2m4 0h2m-28 4h2m6 0h2m18 0h2m-34 4h4m16 0h2m-20 2h4m8 0h2m16 0h2m4 0h2m-52 2h2m12 0h2m2 0h2m6 0h2m16 0h2m-58 2h2m28 0h2m4 0h4m14 0h2m2 0h2m-42 2h4m26 0h4m-18 2h2m-20 2h2m22 2h2m-28 2h2m16 0h2m6 0h2m22 0h2m-46 2h2m6 0h2m-20 2h2m2 0h2m-18 2h4m38 0h2m-12 4h2m4 0h2m-26 2h4m14 2h2m-10 2h2m12 0h2m-12 2h2m2 0h2m10 0h2m-64 2h2m72 0h2m-156 2h2m104 0h4m6 0h2m46 0h2m-98 2h2m36 0h2m30 0h2m4 0h2m-6 2h2m-30 2h2m10 0h4m6 0h2m2 0h2m4 0h2m-56 2h2m22 0h2m6 0h2m16 0h4m-14 2h2m12 0h2m-48 2h2m14 0h2m24 0h2m2 0h2m-28 2h2m10 0h2m4 0h4m6 0h2m8 0h2m-70 2h2m38 0h4m16 2h2m-66 2h2m32 0h4m12 0h2m0 2h2m-158 2h2m116 0h2m18 0h4m30 0h2m2 0h2m-58 2h2m20 0h4m6 0h2m16 0h2m2 0h2m-130 2h2m48 0h2m-68 2h2m28 2h2m58 0h2m8 0h2m4 0h2m-148 2h2m106 0h2m14 0h2m24 0h2m8 0h2m12 0h2m-174 2h2m134 0h2m6 0h2m-124 2h2m4 0h2m16 0h2m12 0h2m44 0h2m2 0h4m50 0h6m-182 2h2m142 0h2m8 0h2m-188 2h2m2 0h2m40 0h2m10 0h2m4 0h2m2 0h2m16 0h2m58 0h2m14 0h2m16 0h2m4 0h2m16 0h2m2 0h2m-168 2h2m2 0h4m14 0h2m2 0h6m70 0h2m80 0h2m-178 2h2m12 0h2m4 0h2m4 0h2m10 0h2m44 0h2m50 0h2m8 0h2m-168 2h2m4 0h2m16 0h2m56 0h2m12 0h2m14 0h2m26 0h2m6 0h2m6 0h2m2 0h2m-158 2h2m4 0h2m36 0h2m2 0h4m62 0h2m36 0h2m10 0h2m-174 2h2m6 0h2m18 0h2m122 0h4m14 0h2m-170 2h2m8 0h2m34 0h4m2 0h2m24 0h2m24 0h2m42 0h2m22 0h2m-166 2h2m16 0h2m10 0h2m8 0h2m10 0h2m104 0h2m8 0h2m-172 2h2m20 0h2m6 0h2m18 0h2m10 0h2m58 0h2m8 0h2m6 0h2m28 0h2m6 0h2m-166 2h2m2 0h2m2 0h4m6 0h2m8 0h2m2 0h2m20 0h2m44 0h2m14 0h2m42 0h2m-218 2h2m36 0h2m4 0h2m6 0h2m10 0h2m22 0h2m2 0h2m2 0h2m8 0h2m40 0h2m18 0h2m4 0h2m4 0h2m4 0h2m2 0h2m-150 2h2m20 0h2m26 0h2m42 0h2m8 0h2m16 0h2m20 0h2m-178 2h2m30 0h2m4 0h2m4 0h2m4 0h2m6 0h2m14 0h2m12 0h2m-78 2h2m12 0h2m6 0h2m12 0h2m4 0h4m14 0h2m2 0h4m2 0h2m18 0h2m6 0h2m8 0h2m8 0h2m16 0h2m48 0h2m16 0h2m-206 2h2m6 0h4m2 0h2m26 0h4m2 0h2m18 0h2m12 0h2m20 0h2m-122 2h2m20 0h2m16 0h2m14 0h4m2 0h6m2 0h2m6 0h2m12 0h2m86 0h2m2 0h2m-204 2h2m38 0h2m4 0h4m10 0h4m10 0h2m2 0h2m4 0h2m20 0h2m20 0h2m74 0h2m6 0h2m-160 2h2m8 0h2m6 0h2m2 0h2m4 0h2m4 0h4m2 0h2m4 0h2m10 0h2m6 0h4m8 0h2m58 0h2m-170 2h2m10 0h2m6 0h4m6 0h4m10 0h2m8 0h2m12 0h2m6 0h4m8 0h2m78 0h2m-172 2h2m8 0h4m8 0h2m2 0h4m2 0h2m8 0h2m14 0h2m4 0h2m4 0h6m2 0h2m2 0h2m6 0h2m14 0h2m70 0h2m2 0h2m-188 2h2m4 0h2m8 0h6m14 0h2m6 0h2m4 0h8m4 0h2m14 0h2m62 0h2m12 0h2m22 0h2m2 0h4m-234 2h2m54 0h2m14 0h4m2 0h2m12 0h8m10 0h2m4 0h2m12 0h2m2 0h6m60 0h2m4 0h2m-176 2h2m12 0h2m6 0h2m22 0h2m8 0h2m2 0h2m8 0h2m6 0h2m6 0h4m10 0h2m4 0h4m-92 2h4m20 0h2m2 0h2m2 0h2m4 0h4m6 0h2m2 0h4m6 0h2m2 0h2m122 0h2m2 0h2m-228 2h2m10 0h2m2 0h4m4 0h2m24 0h2m6 0h6m14 0h10m4 0h4m18 0h2m90 0h4m-208 2h2m10 0h2m2 0h2m8 0h2m6 0h2m2 0h2m6 0h2m14 0h4m2 0h2m4 0h4m22 0h2m10 0h2m28 0h2m68 0h2m-212 2h2m2 0h2m2 0h2m6 0h2m2 0h2m6 0h2m12 0h2m10 0h4m6 0h2m14 0h2m26 0h2m2 0h2m28 0h2m-136 2h2m2 0h2m4 0h2m2 0h4m2 0h2m28 0h2m32 0h2m8 0h2m10 0h2m10 0h2m60 0h2m8 0h4m12 0h2m-222 2h4m6 0h2m2 0h6m4 0h2m2 0h2m4 0h2m4 0h2m6 0h4m14 0h2m4 0h4m4 0h2m2 0h4m16 0h2m16 0h2m56 0h2m-186 2h2m2 0h2m6 0h2m2 0h2m2 0h2m16 0h4m36 0h2m8 0h2m4 0h2m8 0h2m-112 2h2m14 0h2m4 0h2m28 0h2m2 0h2m14 0h2m4 0h6m2 0h2m6 0h2m4 0h2m22 0h2m74 0h2m-206 2h2m6 0h6m4 0h2m8 0h2m4 0h2m22 0h4m4 0h2m2 0h2m6 0h2m2 0h2m4 0h4m4 0h2m158 0h2m-236 2h2m2 0h2m10 0h2m8 0h2m14 0h2m2 0h2m8 0h2m16 0h2m4 0h2m116 0h2m24 0h2m-258 2h2m18 0h2m8 0h2m4 0h2m2 0h2m20 0h2m10 0h2m8 0h2m4 0h2m12 0h2m2 0h2m-96 2h2m2 0h2m20 0h8m12 0h2m4 0h2m12 0h2m4 0h2m4 0h4m150 0h2m-236 2h2m2 0h6m14 0h4m10 0h2m12 0h4m30 0h2m6 0h2m-100 2h2m6 0h2m2 0h4m4 0h2m18 0h2m8 0h6m6 0h2m4 0h2m10 0h2m14 0h2m8 0h2m-112 2h2m10 0h2m6 0h2m6 0h2m6 0h2m2 0h4m10 0h4m6 0h2m10 0h2m2 0h2m30 0h2m-116 2h2m6 0h4m4 0h2m8 0h4m6 0h4m18 0h2m6 0h4m8 0h2m6 0h2m110 0h2m-204 2h2m18 0h6m6 0h2m4 0h4m4 0h2m2 0h4m18 0h2m6 0h2m6 0h2m4 0h2m-70 2h2m4 0h2m2 0h2m10 0h4m14 0h2m2 0h2m2 0h2m2 0h2m-66 2h2m8 0h2m-10 2h2m4 0h2m20 0h2m16 0h6m10 0h2m-70 2h2m6 0h2m2 0h2m2 0h4m8 0h2m4 0h2m4 0h4m4 0h4m-44 2h2m4 0h2m-32 2h2m70 0h2m156 0h2m-202 2h2m8 0h2m10 6h2" stroke="#6cbd46" stroke-width="2" fill="none"/>
<path d="M1469.0 586.0h2m-16 6h2m8 10h2m14 0h2m-8 2h2m-14 6h2m-10 18h2m-12 2h2m6 2h2m6 4h2m4 0h2m4 0h2m-34 10h2m-118 50h2m14 2h2m-58 4h2m34 2h2m2 0h2m16 4h2m-28 2h2m48 0h2m-66 2h2m6 0h2m-38 4h2m4 2h2m12 0h2m2 0h2m22 0h2m-48 2h2m8 0h2m10 0h2m20 0h4m8 0h2m-38 4h2m-50 4h2m42 0h2m4 0h2m14 0h2m14 0h2m26 0h2m-116 2h2m26 0h2m2 0h2m30 0h2m8 0h2m-80 2h2m14 0h2m14 0h2m22 0h2m4 0h2m-26 2h2m14 0h2m-60 2h2m10 0h2m18 0h2m38 0h2m2 0h2m2 0h2m-74 2h2m10 0h2m14 0h2m16 0h4m6 0h2m-72 2h2m12 0h2m10 0h2m8 0h2m32 0h2m-74 2h2m18 0h2m4 0h2m10 0h2m12 0h2m10 0h4m6 0h2m12 0h2m-68 2h2m26 0h2m26 0h2m22 0h2m-124 2h2m14 0h2m8 0h2m16 0h2m6 0h2m22 0h2m8 0h2m8 0h2m-90 2h4m10 0h2m8 0h2m30 0h2m-52 2h2m30 0h2m14 0h2m4 0h2m8 0h2m4 0h2m-60 2h4m46 0h2m-56 2h2m2 0h2m8 0h2m22 0h4m32 0h2m-72 2h2m18 0h2m8 0h2m14 0h2m-50 4h2m10 0h2m4 0h2m10 0h2m10 0h2m-52 2h4m12 2h2m10 0h2m-24 2h2m4 0h2m22 0h2m-24 2h2" stroke="#a9cf3a" stroke-width="2" fill="none"/>
<path d="M1467.0 572.0h2m8 10h2m-10 22h2m-24 6h2m8 2h2m-22 28h2m8 8h2m14 6h2m-16 42h2m-156 8h2m46 10h2m-42 2h2m4 0h2m-24 2h2m22 0h2m16 0h2m-30 2h2m4 0h2m10 0h2m-42 2h2m16 0h2m-12 2h2m30 0h2m-50 2h2m20 0h4m2 0h2m12 0h2m12 0h2m-46 2h4m8 0h2m-32 2h2m2 0h2m30 0h2m-50 2h2m28 0h2m6 0h2m-58 2h2m16 0h2m2 0h2m2 0h2m8 0h2m26 0h2m12 0h4m6 0h2m2 0h2m-88 2h2m36 0h2m10 0h2m10 0h2m-28 2h2m6 0h2m34 0h2m-60 2h2m4 0h2m14 0h2m16 0h2m20 0h2m-82 2h2m4 0h2m38 0h2m8 0h2m8 0h2m-84 2h2m14 0h4m12 0h2m14 0h2m4 0h2m18 0h4m-56 2h2m6 0h2m26 0h2m14 0h2m-82 2h2m10 0h2m8 0h2m4 0h2m2 0h2m14 0h2m12 0h4m12 0h2m-76 2h2m18 0h2m4 0h2m24 0h2m18 0h2m-76 2h2m12 0h2m8 0h4m2 0h2m2 0h2m-34 2h4m12 0h2m10 0h2m18 0h2m24 0h2m-78 2h2m14 0h2m4 0h2m8 0h2m8 0h2m4 0h2m-26 2h2m-34 2h2m16 0h2m12 0h2m2 0h4m10 0h2m4 0h2m10 0h2m-24 2h2m-2 2h2m-30 4h2" stroke="#f7e219" stroke-width="2" fill="none"/>
<path d="M1321.0 706.0h2m-34 10h2m6 2h2m4 2h2m12 0h2m-12 2h2m-52 4h2m32 0h2m16 0h2m-30 2h2m22 0h2m6 0h2m-44 2h2m2 0h2m8 0h2m8 0h2m-38 2h2m10 0h2m44 0h2m6 0h2m-62 2h2m10 0h2m6 0h2m20 0h2m-52 2h2m12 0h2m2 0h2m44 0h2m-76 2h2m14 0h2m2 0h2m2 0h2m10 0h2m18 0h2m4 0h2m-64 2h2m22 0h2m10 0h2m2 0h2m4 0h2m-48 2h2m20 0h2m4 0h4m6 0h2m-34 2h2m2 0h2m6 0h2m2 0h2m10 0h2m8 0h2m6 0h2m-54 2h2m8 0h2m4 0h2m10 0h2m14 0h2m4 0h2m-72 2h2m10 0h2m2 0h2m2 0h2m14 0h2m-22 2h2m12 0h2m8 0h4m-38 2h2m30 0h2m8 0h2m-28 2h2m8 0h6m24 0h2m-80 2h2m14 0h2m10 0h2m2 0h2m6 0h2m22 0h2m-52 4h2m32 0h2m-8 2h2m-14 4h2" stroke="#f58b22" stroke-width="2" fill="none"/>
<path d="M1289.0 720.0h2m8 2h2m2 0h2m-26 2h2m12 0h2m-6 2h2m6 0h2m12 0h2m-52 2h2m14 0h4m36 0h2m-40 2h4m6 0h2m2 0h2m-32 2h2m2 0h2m10 0h2m12 0h4m2 0h2m-28 2h2m6 0h4m24 0h2m-58 2h2m22 0h2m10 0h2m6 0h2m-38 2h2m6 0h2m4 0h2m2 0h4m12 0h4m-44 2h2m4 0h2m14 0h4m8 0h2m4 0h2m10 0h2m-46 2h4m4 0h4m4 0h2m2 0h2m2 0h4m6 0h2m-44 2h2m2 0h2m2 0h2m8 0h4m12 0h2m-50 2h2m22 0h2m6 0h2m8 0h2m-32 2h2m2 0h2m2 0h2m2 0h6m10 0h2m-44 2h2m4 0h2m2 0h4m6 0h2m4 0h2m6 0h2m-18 2h2m4 0h2m4 0h2m6 0h2m12 0h2m-60 2h2m22 0h2m28 0h2m-24 4h2m-40 2h2" stroke="#e8262a" stroke-width="2" fill="none"/>
<rect x="1393.30" y="491.40" width="2.20" height="433.00" fill="#000"/>
<rect x="1134.60" y="610.08" width="433.00" height="2.00" fill="#000"/>
<rect x="1132.40" y="489.80" width="3.20" height="436.20" fill="#000"/>
<rect x="1566.90" y="489.80" width="3.20" height="436.20" fill="#000"/>
<rect x="1132.40" y="489.80" width="437.70" height="3.20" fill="#000"/>
<rect x="1132.40" y="924.90" width="437.70" height="3.40" fill="#000"/>
<rect x="1132.40" y="924.40" width="3.20" height="3.90" fill="#000"/>
<rect x="1566.90" y="924.40" width="3.20" height="3.90" fill="#000"/>
<rect x="1125.90" y="923.40" width="8.10" height="2.00" fill="#000"/>
<rect x="1129.90" y="897.63" width="4.10" height="1.40" fill="#000"/>
<rect x="1129.90" y="882.38" width="4.10" height="1.40" fill="#000"/>
<rect x="1129.90" y="871.56" width="4.10" height="1.40" fill="#000"/>
<rect x="1127.90" y="863.17" width="6.10" height="1.40" fill="#000"/>
<rect x="1129.90" y="856.31" width="4.10" height="1.40" fill="#000"/>
<rect x="1129.90" y="850.51" width="4.10" height="1.40" fill="#000"/>
<rect x="1129.90" y="845.49" width="4.10" height="1.40" fill="#000"/>
<rect x="1129.90" y="841.06" width="4.10" height="1.40" fill="#000"/>
<rect x="1125.90" y="836.80" width="8.10" height="2.00" fill="#000"/>
<rect x="1129.90" y="811.03" width="4.10" height="1.40" fill="#000"/>
<rect x="1129.90" y="795.78" width="4.10" height="1.40" fill="#000"/>
<rect x="1129.90" y="784.96" width="4.10" height="1.40" fill="#000"/>
<rect x="1127.90" y="776.57" width="6.10" height="1.40" fill="#000"/>
<rect x="1129.90" y="769.71" width="4.10" height="1.40" fill="#000"/>
<rect x="1129.90" y="763.91" width="4.10" height="1.40" fill="#000"/>
<rect x="1129.90" y="758.89" width="4.10" height="1.40" fill="#000"/>
<rect x="1129.90" y="754.46" width="4.10" height="1.40" fill="#000"/>
<rect x="1125.90" y="750.20" width="8.10" height="2.00" fill="#000"/>
<rect x="1129.90" y="724.43" width="4.10" height="1.40" fill="#000"/>
<rect x="1129.90" y="709.18" width="4.10" height="1.40" fill="#000"/>
<rect x="1129.90" y="698.36" width="4.10" height="1.40" fill="#000"/>
<rect x="1127.90" y="689.97" width="6.10" height="1.40" fill="#000"/>
<rect x="1129.90" y="683.11" width="4.10" height="1.40" fill="#000"/>
<rect x="1129.90" y="677.31" width="4.10" height="1.40" fill="#000"/>
<rect x="1129.90" y="672.29" width="4.10" height="1.40" fill="#000"/>
<rect x="1129.90" y="667.86" width="4.10" height="1.40" fill="#000"/>
<rect x="1125.90" y="663.60" width="8.10" height="2.00" fill="#000"/>
<rect x="1129.90" y="637.83" width="4.10" height="1.40" fill="#000"/>
<rect x="1129.90" y="622.58" width="4.10" height="1.40" fill="#000"/>
<rect x="1129.90" y="611.76" width="4.10" height="1.40" fill="#000"/>
<rect x="1127.90" y="603.37" width="6.10" height="1.40" fill="#000"/>
<rect x="1129.90" y="596.51" width="4.10" height="1.40" fill="#000"/>
<rect x="1129.90" y="590.71" width="4.10" height="1.40" fill="#000"/>
<rect x="1129.90" y="585.69" width="4.10" height="1.40" fill="#000"/>
<rect x="1129.90" y="581.26" width="4.10" height="1.40" fill="#000"/>
<rect x="1125.90" y="577.00" width="8.10" height="2.00" fill="#000"/>
<rect x="1129.90" y="551.23" width="4.10" height="1.40" fill="#000"/>
<rect x="1129.90" y="535.98" width="4.10" height="1.40" fill="#000"/>
<rect x="1129.90" y="525.16" width="4.10" height="1.40" fill="#000"/>
<rect x="1127.90" y="516.77" width="6.10" height="1.40" fill="#000"/>
<rect x="1129.90" y="509.91" width="4.10" height="1.40" fill="#000"/>
<rect x="1129.90" y="504.11" width="4.10" height="1.40" fill="#000"/>
<rect x="1129.90" y="499.09" width="4.10" height="1.40" fill="#000"/>
<rect x="1129.90" y="494.66" width="4.10" height="1.40" fill="#000"/>
<rect x="1125.90" y="490.40" width="8.10" height="2.00" fill="#000"/>
<rect x="1133.60" y="928.00" width="2.00" height="6.50" fill="#000"/>
<rect x="1159.97" y="928.00" width="1.40" height="2.50" fill="#000"/>
<rect x="1175.22" y="928.00" width="1.40" height="2.50" fill="#000"/>
<rect x="1186.04" y="928.00" width="1.40" height="2.50" fill="#000"/>
<rect x="1194.43" y="928.00" width="1.40" height="4.50" fill="#000"/>
<rect x="1201.29" y="928.00" width="1.40" height="2.50" fill="#000"/>
<rect x="1207.09" y="928.00" width="1.40" height="2.50" fill="#000"/>
<rect x="1212.11" y="928.00" width="1.40" height="2.50" fill="#000"/>
<rect x="1216.54" y="928.00" width="1.40" height="2.50" fill="#000"/>
<rect x="1220.20" y="928.00" width="2.00" height="6.50" fill="#000"/>
<rect x="1246.57" y="928.00" width="1.40" height="2.50" fill="#000"/>
<rect x="1261.82" y="928.00" width="1.40" height="2.50" fill="#000"/>
<rect x="1272.64" y="928.00" width="1.40" height="2.50" fill="#000"/>
<rect x="1281.03" y="928.00" width="1.40" height="4.50" fill="#000"/>
<rect x="1287.89" y="928.00" width="1.40" height="2.50" fill="#000"/>
<rect x="1293.69" y="928.00" width="1.40" height="2.50" fill="#000"/>
<rect x="1298.71" y="928.00" width="1.40" height="2.50" fill="#000"/>
<rect x="1303.14" y="928.00" width="1.40" height="2.50" fill="#000"/>
<rect x="1306.80" y="928.00" width="2.00" height="6.50" fill="#000"/>
<rect x="1333.17" y="928.00" width="1.40" height="2.50" fill="#000"/>
<rect x="1348.42" y="928.00" width="1.40" height="2.50" fill="#000"/>
<rect x="1359.24" y="928.00" width="1.40" height="2.50" fill="#000"/>
<rect x="1367.63" y="928.00" width="1.40" height="4.50" fill="#000"/>
<rect x="1374.49" y="928.00" width="1.40" height="2.50" fill="#000"/>
<rect x="1380.29" y="928.00" width="1.40" height="2.50" fill="#000"/>
<rect x="1385.31" y="928.00" width="1.40" height="2.50" fill="#000"/>
<rect x="1389.74" y="928.00" width="1.40" height="2.50" fill="#000"/>
<rect x="1393.40" y="928.00" width="2.00" height="6.50" fill="#000"/>
<rect x="1419.77" y="928.00" width="1.40" height="2.50" fill="#000"/>
<rect x="1435.02" y="928.00" width="1.40" height="2.50" fill="#000"/>
<rect x="1445.84" y="928.00" width="1.40" height="2.50" fill="#000"/>
<rect x="1454.23" y="928.00" width="1.40" height="4.50" fill="#000"/>
<rect x="1461.09" y="928.00" width="1.40" height="2.50" fill="#000"/>
<rect x="1466.89" y="928.00" width="1.40" height="2.50" fill="#000"/>
<rect x="1471.91" y="928.00" width="1.40" height="2.50" fill="#000"/>
<rect x="1476.34" y="928.00" width="1.40" height="2.50" fill="#000"/>
<rect x="1480.00" y="928.00" width="2.00" height="6.50" fill="#000"/>
<rect x="1506.37" y="928.00" width="1.40" height="2.50" fill="#000"/>
<rect x="1521.62" y="928.00" width="1.40" height="2.50" fill="#000"/>
<rect x="1532.44" y="928.00" width="1.40" height="2.50" fill="#000"/>
<rect x="1540.83" y="928.00" width="1.40" height="4.50" fill="#000"/>
<rect x="1547.69" y="928.00" width="1.40" height="2.50" fill="#000"/>
<rect x="1553.49" y="928.00" width="1.40" height="2.50" fill="#000"/>
<rect x="1558.51" y="928.00" width="1.40" height="2.50" fill="#000"/>
<rect x="1562.94" y="928.00" width="1.40" height="2.50" fill="#000"/>
<rect x="1566.60" y="928.00" width="2.00" height="6.50" fill="#000"/>
<text x="1481.75" y="526.90" text-anchor="middle" style="font-family:'Liberation Sans',Arial,Helvetica,sans-serif;font-size:34.2px" >Necrosis</text>
<text x="1481.80" y="567.80" text-anchor="middle" style="font-family:'Liberation Sans',Arial,Helvetica,sans-serif;font-size:33.5px" >9.2 %</text>
<text x="1482.50" y="871.10" text-anchor="middle" style="font-family:'Liberation Sans',Arial,Helvetica,sans-serif;font-size:33.5px" >Apoptosis</text>
<text x="1481.40" y="910.90" text-anchor="middle" style="font-family:'Liberation Sans',Arial,Helvetica,sans-serif;font-size:33.5px" >24.8 %</text>
<text x="1152.60" y="909.80" text-anchor="start" style="font-family:'Liberation Sans',Arial,Helvetica,sans-serif;font-size:37px;font-weight:bold" >STR</text>
<text x="1225.20" y="975.80" text-anchor="middle" style="font-family:'Liberation Sans',Arial,Helvetica,sans-serif;font-size:33px"><tspan>10</tspan><tspan dy="-13.9" style="font-size:23px">-1</tspan></text>
<text x="1308.80" y="975.80" text-anchor="middle" style="font-family:'Liberation Sans',Arial,Helvetica,sans-serif;font-size:33px"><tspan>10</tspan><tspan dy="-13.9" style="font-size:23px">0</tspan></text>
<text x="1393.40" y="975.80" text-anchor="middle" style="font-family:'Liberation Sans',Arial,Helvetica,sans-serif;font-size:33px"><tspan>10</tspan><tspan dy="-13.9" style="font-size:23px">1</tspan></text>
<text x="1480.00" y="975.80" text-anchor="middle" style="font-family:'Liberation Sans',Arial,Helvetica,sans-serif;font-size:33px"><tspan>10</tspan><tspan dy="-13.9" style="font-size:23px">2</tspan></text>
<text x="1543.60" y="975.80" text-anchor="middle" style="font-family:'Liberation Sans',Arial,Helvetica,sans-serif;font-size:33px"><tspan>10</tspan><tspan dy="-13.9" style="font-size:23px">3</tspan></text>
<rect x="583.00" y="155.00" width="4.00" height="559.70" fill="#000"/>
<polygon points="585,124.8 600.5,160.8 585,155.3 569.5,160.8" fill="#000"/>
<rect x="1011.70" y="1008.95" width="500.30" height="3.70" fill="#000"/>
<polygon points="1543.2,1010.6 1507.1,1026 1512.8,1010.8 1507.1,995.2" fill="#000"/>
<text transform="translate(595.2,822.5) rotate(-90)" text-anchor="middle" style="font-family:'Liberation Sans',Arial,Helvetica,sans-serif;font-size:42px;font-weight:bold">DC-Violet</text>
<text x="686.20" y="1030.10" text-anchor="start" style="font-family:'Liberation Sans',Arial,Helvetica,sans-serif;font-size:41.7px;font-weight:bold" >Annexin V-FITC</text>
</svg>
</body></html>
